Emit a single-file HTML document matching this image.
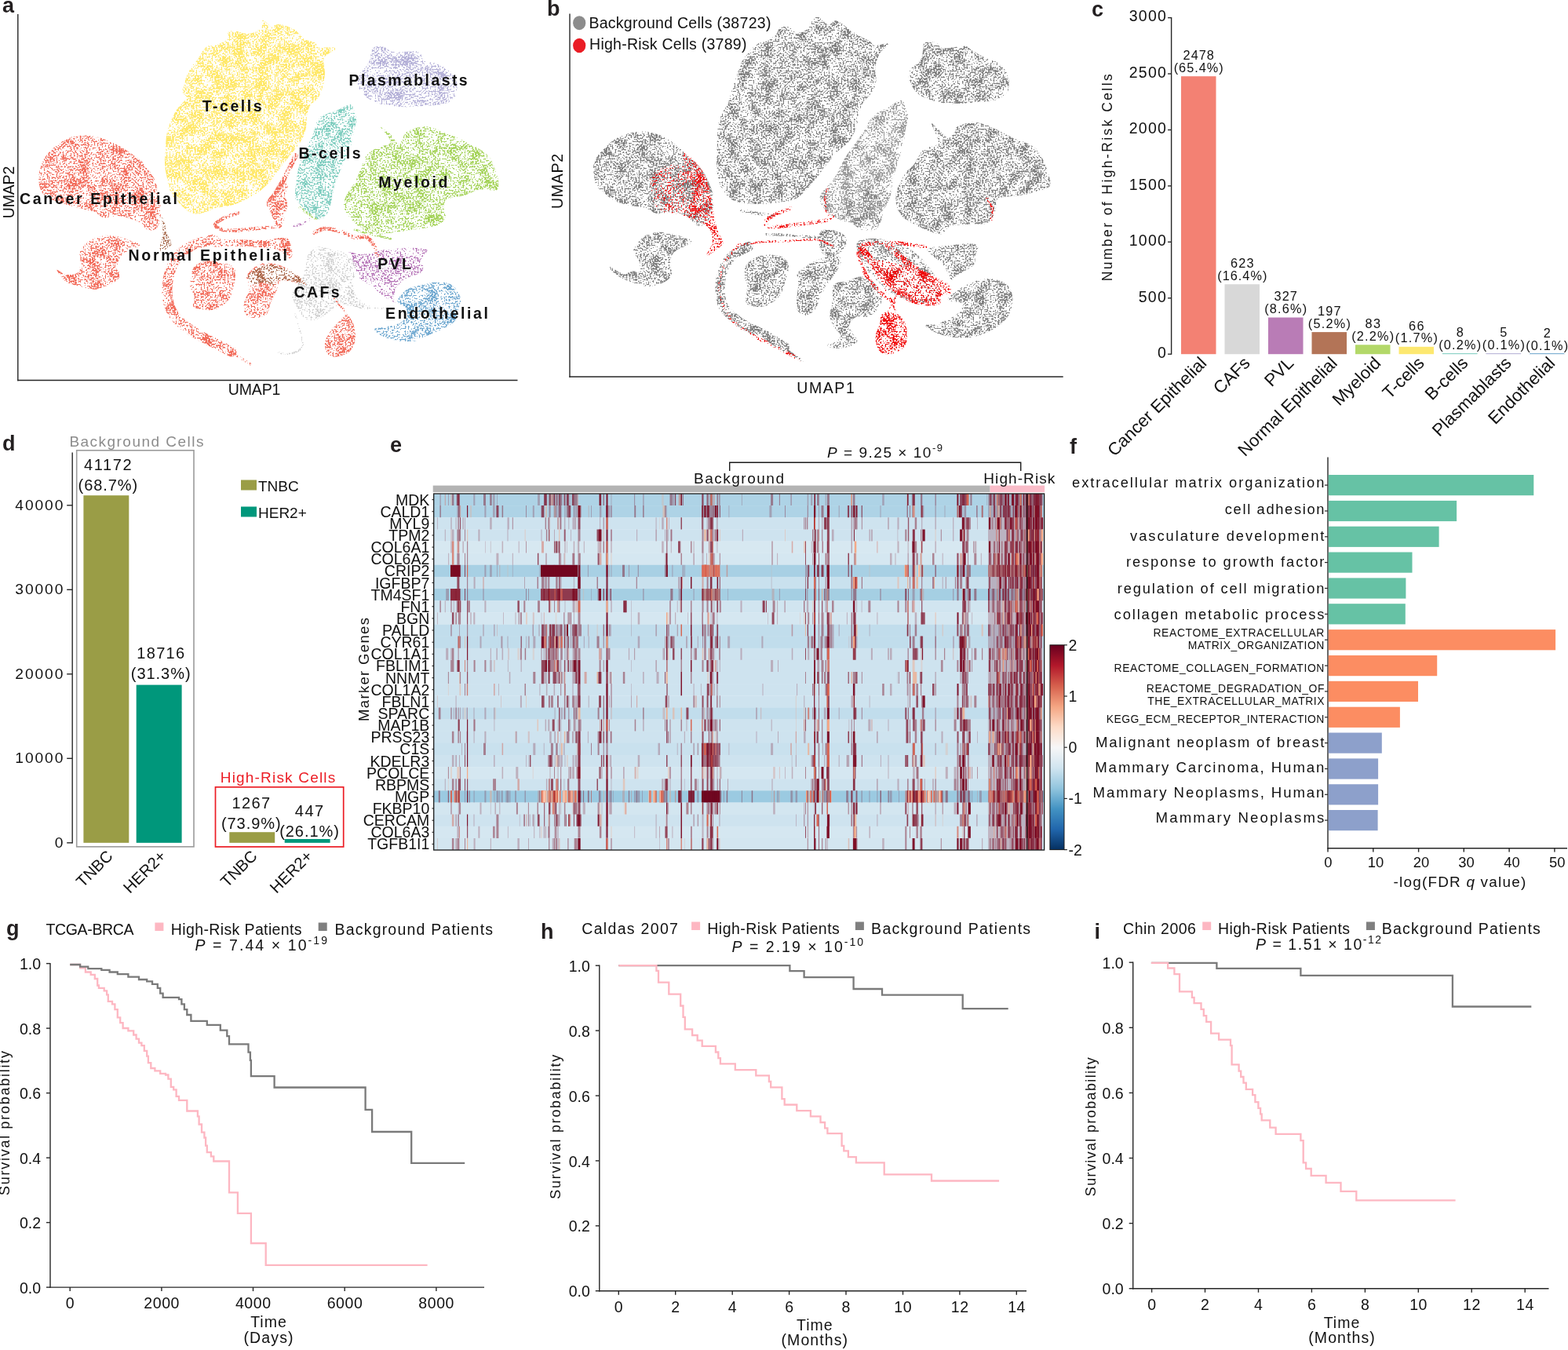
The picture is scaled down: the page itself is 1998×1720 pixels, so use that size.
<!DOCTYPE html><html><head><meta charset="utf-8"><style>html,body{margin:0;padding:0;background:#fff;overflow:hidden;}svg{display:block;font-family:'Liberation Sans', Arial, sans-serif;}</style></head><body><svg width="1998" height="1720" viewBox="0 0 1998 1720" fill="#111"><defs><filter id="spD" color-interpolation-filters="sRGB">
<feTurbulence type="fractalNoise" baseFrequency="0.5" numOctaves="1" seed="4" result="f"/>
<feColorMatrix in="f" type="matrix" values="0 0 0 0 0 0 0 0 0 0 0 0 0 0 0 1 0 0 0 0" result="fa"/>
<feTurbulence type="fractalNoise" baseFrequency="0.07" numOctaves="2" seed="8" result="c"/>
<feColorMatrix in="c" type="matrix" values="0 0 0 0 0 0 0 0 0 0 0 0 0 0 0 1 0 0 0 0" result="ca"/>
<feComposite in="fa" in2="ca" operator="arithmetic" k1="0" k2="0.75" k3="0.25" k4="0" result="s"/>
<feColorMatrix in="s" type="matrix" values="0 0 0 0 0 0 0 0 0 0 0 0 0 0 0 0 0 0 14 -6.5" result="m"/>
<feComposite in="SourceGraphic" in2="m" operator="in"/></filter><filter id="spM" color-interpolation-filters="sRGB">
<feTurbulence type="fractalNoise" baseFrequency="0.5" numOctaves="1" seed="5" result="f"/>
<feColorMatrix in="f" type="matrix" values="0 0 0 0 0 0 0 0 0 0 0 0 0 0 0 1 0 0 0 0" result="fa"/>
<feTurbulence type="fractalNoise" baseFrequency="0.07" numOctaves="2" seed="9" result="c"/>
<feColorMatrix in="c" type="matrix" values="0 0 0 0 0 0 0 0 0 0 0 0 0 0 0 1 0 0 0 0" result="ca"/>
<feComposite in="fa" in2="ca" operator="arithmetic" k1="0" k2="0.75" k3="0.25" k4="0" result="s"/>
<feColorMatrix in="s" type="matrix" values="0 0 0 0 0 0 0 0 0 0 0 0 0 0 0 0 0 0 14 -6.8" result="m"/>
<feComposite in="SourceGraphic" in2="m" operator="in"/></filter><filter id="spL" color-interpolation-filters="sRGB">
<feTurbulence type="fractalNoise" baseFrequency="0.5" numOctaves="1" seed="6" result="f"/>
<feColorMatrix in="f" type="matrix" values="0 0 0 0 0 0 0 0 0 0 0 0 0 0 0 1 0 0 0 0" result="fa"/>
<feTurbulence type="fractalNoise" baseFrequency="0.07" numOctaves="2" seed="10" result="c"/>
<feColorMatrix in="c" type="matrix" values="0 0 0 0 0 0 0 0 0 0 0 0 0 0 0 1 0 0 0 0" result="ca"/>
<feComposite in="fa" in2="ca" operator="arithmetic" k1="0" k2="0.75" k3="0.25" k4="0" result="s"/>
<feColorMatrix in="s" type="matrix" values="0 0 0 0 0 0 0 0 0 0 0 0 0 0 0 0 0 0 14 -7.1" result="m"/>
<feComposite in="SourceGraphic" in2="m" operator="in"/></filter><filter id="spR" color-interpolation-filters="sRGB">
<feTurbulence type="fractalNoise" baseFrequency="0.5" numOctaves="1" seed="7" result="f"/>
<feColorMatrix in="f" type="matrix" values="0 0 0 0 0 0 0 0 0 0 0 0 0 0 0 1 0 0 0 0" result="fa"/>
<feTurbulence type="fractalNoise" baseFrequency="0.07" numOctaves="2" seed="11" result="c"/>
<feColorMatrix in="c" type="matrix" values="0 0 0 0 0 0 0 0 0 0 0 0 0 0 0 1 0 0 0 0" result="ca"/>
<feComposite in="fa" in2="ca" operator="arithmetic" k1="0" k2="0.75" k3="0.25" k4="0" result="s"/>
<feColorMatrix in="s" type="matrix" values="0 0 0 0 0 0 0 0 0 0 0 0 0 0 0 0 0 0 14 -6.85" result="m"/>
<feComposite in="SourceGraphic" in2="m" operator="in"/></filter><filter id="spRL" color-interpolation-filters="sRGB">
<feTurbulence type="fractalNoise" baseFrequency="0.5" numOctaves="1" seed="12" result="f"/>
<feColorMatrix in="f" type="matrix" values="0 0 0 0 0 0 0 0 0 0 0 0 0 0 0 1 0 0 0 0" result="fa"/>
<feTurbulence type="fractalNoise" baseFrequency="0.07" numOctaves="2" seed="13" result="c"/>
<feColorMatrix in="c" type="matrix" values="0 0 0 0 0 0 0 0 0 0 0 0 0 0 0 1 0 0 0 0" result="ca"/>
<feComposite in="fa" in2="ca" operator="arithmetic" k1="0" k2="0.75" k3="0.25" k4="0" result="s"/>
<feColorMatrix in="s" type="matrix" values="0 0 0 0 0 0 0 0 0 0 0 0 0 0 0 0 0 0 14 -7.8" result="m"/>
<feComposite in="SourceGraphic" in2="m" operator="in"/></filter></defs><text x="1391.0" y="21.0" font-size="27" font-weight="bold" fill="#231f20">c</text>
<line x1="1492.6" y1="22.0" x2="1492.6" y2="451.8" stroke="#262626" stroke-width="1.4"/>
<line x1="1488.1" y1="451.2" x2="1492.6" y2="451.2" stroke="#262626" stroke-width="1.4"/>
<text x="1485.8" y="456.0" font-size="19.5" text-anchor="end">0</text>
<line x1="1488.1" y1="379.8" x2="1492.6" y2="379.8" stroke="#262626" stroke-width="1.4"/>
<text x="1485.8" y="384.6" font-size="19.5" text-anchor="end" textLength="35.1" lengthAdjust="spacing">500</text>
<line x1="1488.1" y1="308.3" x2="1492.6" y2="308.3" stroke="#262626" stroke-width="1.4"/>
<text x="1485.8" y="313.1" font-size="19.5" text-anchor="end" textLength="47.0" lengthAdjust="spacing">1000</text>
<line x1="1488.1" y1="236.9" x2="1492.6" y2="236.9" stroke="#262626" stroke-width="1.4"/>
<text x="1485.8" y="241.7" font-size="19.5" text-anchor="end" textLength="47.0" lengthAdjust="spacing">1500</text>
<line x1="1488.1" y1="165.5" x2="1492.6" y2="165.5" stroke="#262626" stroke-width="1.4"/>
<text x="1485.8" y="170.3" font-size="19.5" text-anchor="end" textLength="47.0" lengthAdjust="spacing">2000</text>
<line x1="1488.1" y1="94.0" x2="1492.6" y2="94.0" stroke="#262626" stroke-width="1.4"/>
<text x="1485.8" y="98.8" font-size="19.5" text-anchor="end" textLength="47.0" lengthAdjust="spacing">2500</text>
<line x1="1488.1" y1="22.6" x2="1492.6" y2="22.6" stroke="#262626" stroke-width="1.4"/>
<text x="1485.8" y="27.4" font-size="19.5" text-anchor="end" textLength="47.0" lengthAdjust="spacing">3000</text>
<text x="1417.5" y="226.3" font-size="17.5" text-anchor="middle" textLength="264.0" lengthAdjust="spacing" transform="rotate(-90 1417.5 226.3)">Number of High-Risk Cells</text>
<rect x="1505.0" y="97.2" width="44.5" height="354.0" fill="#F38173"/>
<text x="1527.2" y="76.0" font-size="16.3" text-anchor="middle" textLength="39.3" lengthAdjust="spacing">2478</text>
<text x="1527.2" y="91.8" font-size="16.3" text-anchor="middle" textLength="63.1" lengthAdjust="spacing">(65.4%)</text>
<text x="1538.8" y="464.0" font-size="22.2" text-anchor="end" transform="rotate(-45 1538.8 464.0)">Cancer Epithelial</text>
<rect x="1560.5" y="362.2" width="44.5" height="89.0" fill="#D8D8D8"/>
<text x="1582.8" y="341.0" font-size="16.3" text-anchor="middle" textLength="29.4" lengthAdjust="spacing">623</text>
<text x="1582.8" y="356.8" font-size="16.3" text-anchor="middle" textLength="63.1" lengthAdjust="spacing">(16.4%)</text>
<text x="1594.2" y="464.0" font-size="22.2" text-anchor="end" transform="rotate(-45 1594.2 464.0)">CAFs</text>
<rect x="1616.0" y="404.5" width="44.5" height="46.7" fill="#B97CB6"/>
<text x="1638.2" y="383.3" font-size="16.3" text-anchor="middle" textLength="29.4" lengthAdjust="spacing">327</text>
<text x="1638.2" y="399.1" font-size="16.3" text-anchor="middle" textLength="54.1" lengthAdjust="spacing">(8.6%)</text>
<text x="1649.8" y="464.0" font-size="22.2" text-anchor="end" transform="rotate(-45 1649.8 464.0)">PVL</text>
<rect x="1671.5" y="423.1" width="44.5" height="28.1" fill="#B37457"/>
<text x="1693.8" y="401.9" font-size="16.3" text-anchor="middle" textLength="29.4" lengthAdjust="spacing">197</text>
<text x="1693.8" y="417.7" font-size="16.3" text-anchor="middle" textLength="54.1" lengthAdjust="spacing">(5.2%)</text>
<text x="1705.2" y="464.0" font-size="22.2" text-anchor="end" transform="rotate(-45 1705.2 464.0)">Normal Epithelial</text>
<rect x="1727.0" y="439.3" width="44.5" height="11.9" fill="#B3D869"/>
<text x="1749.2" y="418.1" font-size="16.3" text-anchor="middle" textLength="19.6" lengthAdjust="spacing">83</text>
<text x="1749.2" y="433.9" font-size="16.3" text-anchor="middle" textLength="54.1" lengthAdjust="spacing">(2.2%)</text>
<text x="1760.8" y="464.0" font-size="22.2" text-anchor="end" transform="rotate(-45 1760.8 464.0)">Myeloid</text>
<rect x="1782.5" y="441.8" width="44.5" height="9.4" fill="#FDE870"/>
<text x="1804.8" y="420.6" font-size="16.3" text-anchor="middle" textLength="19.6" lengthAdjust="spacing">66</text>
<text x="1804.8" y="436.4" font-size="16.3" text-anchor="middle" textLength="54.1" lengthAdjust="spacing">(1.7%)</text>
<text x="1816.2" y="464.0" font-size="22.2" text-anchor="end" transform="rotate(-45 1816.2 464.0)">T-cells</text>
<rect x="1838.0" y="450.0" width="44.5" height="1.2" fill="#8DD3C7"/>
<text x="1860.2" y="428.9" font-size="16.3" text-anchor="middle" textLength="9.8" lengthAdjust="spacing">8</text>
<text x="1860.2" y="444.7" font-size="16.3" text-anchor="middle" textLength="54.1" lengthAdjust="spacing">(0.2%)</text>
<text x="1871.8" y="464.0" font-size="22.2" text-anchor="end" transform="rotate(-45 1871.8 464.0)">B-cells</text>
<rect x="1893.5" y="450.0" width="44.5" height="1.2" fill="#BEBADA"/>
<text x="1915.8" y="429.3" font-size="16.3" text-anchor="middle" textLength="9.8" lengthAdjust="spacing">5</text>
<text x="1915.8" y="445.1" font-size="16.3" text-anchor="middle" textLength="54.1" lengthAdjust="spacing">(0.1%)</text>
<text x="1927.2" y="464.0" font-size="22.2" text-anchor="end" transform="rotate(-45 1927.2 464.0)">Plasmablasts</text>
<rect x="1949.0" y="450.0" width="44.5" height="1.2" fill="#80B1D3"/>
<text x="1971.2" y="429.7" font-size="16.3" text-anchor="middle" textLength="9.8" lengthAdjust="spacing">2</text>
<text x="1971.2" y="445.5" font-size="16.3" text-anchor="middle" textLength="54.1" lengthAdjust="spacing">(0.1%)</text>
<text x="1982.8" y="464.0" font-size="22.2" text-anchor="end" transform="rotate(-45 1982.8 464.0)">Endothelial</text>
<text x="3.0" y="574.0" font-size="27" font-weight="bold" fill="#231f20">d</text>
<line x1="92.2" y1="576.5" x2="92.2" y2="1074.4" stroke="#262626" stroke-width="1.4"/>
<line x1="85.2" y1="1073.8" x2="92.2" y2="1073.8" stroke="#262626" stroke-width="1.4"/>
<text x="80.3" y="1079.8" font-size="19.2" text-anchor="end">0</text>
<line x1="85.2" y1="966.3" x2="92.2" y2="966.3" stroke="#262626" stroke-width="1.4"/>
<text x="80.3" y="972.3" font-size="19.2" text-anchor="end" textLength="61.0" lengthAdjust="spacing">10000</text>
<line x1="85.2" y1="858.8" x2="92.2" y2="858.8" stroke="#262626" stroke-width="1.4"/>
<text x="80.3" y="864.8" font-size="19.2" text-anchor="end" textLength="61.0" lengthAdjust="spacing">20000</text>
<line x1="85.2" y1="751.3" x2="92.2" y2="751.3" stroke="#262626" stroke-width="1.4"/>
<text x="80.3" y="757.3" font-size="19.2" text-anchor="end" textLength="61.0" lengthAdjust="spacing">30000</text>
<line x1="85.2" y1="643.8" x2="92.2" y2="643.8" stroke="#262626" stroke-width="1.4"/>
<text x="80.3" y="649.8" font-size="19.2" text-anchor="end" textLength="61.0" lengthAdjust="spacing">40000</text>
<rect x="97.7" y="573.8" width="149.3" height="505" fill="none" stroke="#9b9b9b" stroke-width="1.6"/>
<text x="173.9" y="568.5" font-size="19" text-anchor="middle" fill="#8c8c8c" textLength="171.0" lengthAdjust="spacing">Background Cells</text>
<rect x="106.4" y="631.2" width="57.9" height="442.6" fill="#9A9D46"/>
<rect x="173.7" y="872.6" width="57.9" height="201.2" fill="#00977B"/>
<text x="137.4" y="599.4" font-size="20" text-anchor="middle" textLength="60.7" lengthAdjust="spacing">41172</text>
<text x="137.4" y="625.1" font-size="20" text-anchor="middle" textLength="75.7" lengthAdjust="spacing">(68.7%)</text>
<text x="204.7" y="839.0" font-size="20" text-anchor="middle" textLength="60.7" lengthAdjust="spacing">18716</text>
<text x="204.7" y="865.0" font-size="20" text-anchor="middle" textLength="75.7" lengthAdjust="spacing">(31.3%)</text>
<rect x="274.5" y="1002.8" width="163.2" height="76.1" fill="none" stroke="#ec1c24" stroke-width="1.7"/>
<text x="354.0" y="997.0" font-size="19" text-anchor="middle" fill="#ec1c24" textLength="146.5" lengthAdjust="spacing">High-Risk Cells</text>
<rect x="292.3" y="1060.2" width="57.9" height="13.6" fill="#9A9D46"/>
<rect x="362.7" y="1069.0" width="57.9" height="4.8" fill="#00977B"/>
<text x="319.8" y="1029.8" font-size="20" text-anchor="middle" textLength="48.5" lengthAdjust="spacing">1267</text>
<text x="319.8" y="1055.5" font-size="20" text-anchor="middle" textLength="75.7" lengthAdjust="spacing">(73.9%)</text>
<text x="394.0" y="1040.3" font-size="20" text-anchor="middle" textLength="36.4" lengthAdjust="spacing">447</text>
<text x="394.0" y="1066.0" font-size="20" text-anchor="middle" textLength="75.7" lengthAdjust="spacing">(26.1%)</text>
<rect x="307.0" y="611.5" width="20.0" height="13.0" fill="#9A9D46"/>
<text x="329.0" y="625.5" font-size="19">TNBC</text>
<rect x="307.0" y="645.5" width="20.0" height="13.0" fill="#00977B"/>
<text x="329.0" y="659.5" font-size="19">HER2+</text>
<text x="145.0" y="1092.0" font-size="20.5" text-anchor="end" transform="rotate(-45 145.0 1092.0)">TNBC</text>
<text x="212.7" y="1092.0" font-size="20.5" text-anchor="end" transform="rotate(-45 212.7 1092.0)">HER2+</text>
<text x="329.0" y="1092.0" font-size="20.5" text-anchor="end" transform="rotate(-45 329.0 1092.0)">TNBC</text>
<text x="399.5" y="1092.0" font-size="20.5" text-anchor="end" transform="rotate(-45 399.5 1092.0)">HER2+</text>
<text x="1363.0" y="578.0" font-size="27" font-weight="bold" fill="#231f20">f</text>
<line x1="1692.0" y1="582.6" x2="1692.0" y2="1081.4" stroke="#262626" stroke-width="1.4"/>
<line x1="1691.4" y1="1080.8" x2="1997.0" y2="1080.8" stroke="#262626" stroke-width="1.4"/>
<line x1="1692.0" y1="1080.8" x2="1692.0" y2="1085.6" stroke="#262626" stroke-width="1.4"/>
<text x="1692.3" y="1104.7" font-size="18.4" text-anchor="middle">0</text>
<line x1="1749.8" y1="1080.8" x2="1749.8" y2="1085.6" stroke="#262626" stroke-width="1.4"/>
<text x="1753.1" y="1104.7" font-size="18.4" text-anchor="middle" textLength="20.5" lengthAdjust="spacing">10</text>
<line x1="1807.6" y1="1080.8" x2="1807.6" y2="1085.6" stroke="#262626" stroke-width="1.4"/>
<text x="1810.9" y="1104.7" font-size="18.4" text-anchor="middle" textLength="20.5" lengthAdjust="spacing">20</text>
<line x1="1865.3" y1="1080.8" x2="1865.3" y2="1085.6" stroke="#262626" stroke-width="1.4"/>
<text x="1868.6" y="1104.7" font-size="18.4" text-anchor="middle" textLength="20.5" lengthAdjust="spacing">30</text>
<line x1="1923.1" y1="1080.8" x2="1923.1" y2="1085.6" stroke="#262626" stroke-width="1.4"/>
<text x="1926.4" y="1104.7" font-size="18.4" text-anchor="middle" textLength="20.5" lengthAdjust="spacing">40</text>
<line x1="1980.9" y1="1080.8" x2="1980.9" y2="1085.6" stroke="#262626" stroke-width="1.4"/>
<text x="1984.2" y="1104.7" font-size="18.4" text-anchor="middle" textLength="20.5" lengthAdjust="spacing">50</text>
<text x="1775.5" y="1129.7" font-size="18.9" textLength="168.7" lengthAdjust="spacing">-log(FDR <tspan font-style="italic">q</tspan> value)</text>
<rect x="1692.7" y="605.0" width="261.6" height="26.2" fill="#66C2A5"/>
<line x1="1688.0" y1="618.1" x2="1692.0" y2="618.1" stroke="#262626" stroke-width="1.2"/>
<text x="1687.4" y="620.9" font-size="18.3" text-anchor="end" textLength="321.4" lengthAdjust="spacing">extracellular matrix organization</text>
<rect x="1692.7" y="637.9" width="163.4" height="26.2" fill="#66C2A5"/>
<line x1="1688.0" y1="651.0" x2="1692.0" y2="651.0" stroke="#262626" stroke-width="1.2"/>
<text x="1687.4" y="654.6" font-size="18.3" text-anchor="end" textLength="126.6" lengthAdjust="spacing">cell adhesion</text>
<rect x="1692.7" y="670.7" width="140.9" height="26.2" fill="#66C2A5"/>
<line x1="1688.0" y1="683.8" x2="1692.0" y2="683.8" stroke="#262626" stroke-width="1.2"/>
<text x="1687.4" y="688.6" font-size="18.3" text-anchor="end" textLength="247.4" lengthAdjust="spacing">vasculature development</text>
<rect x="1692.7" y="703.5" width="106.8" height="26.2" fill="#66C2A5"/>
<line x1="1688.0" y1="716.6" x2="1692.0" y2="716.6" stroke="#262626" stroke-width="1.2"/>
<text x="1687.4" y="722.3" font-size="18.3" text-anchor="end" textLength="252.5" lengthAdjust="spacing">response to growth factor</text>
<rect x="1692.7" y="736.4" width="98.7" height="26.2" fill="#66C2A5"/>
<line x1="1688.0" y1="749.5" x2="1692.0" y2="749.5" stroke="#262626" stroke-width="1.2"/>
<text x="1687.4" y="755.8" font-size="18.3" text-anchor="end" textLength="263.6" lengthAdjust="spacing">regulation of cell migration</text>
<rect x="1692.7" y="769.2" width="98.1" height="26.2" fill="#66C2A5"/>
<line x1="1688.0" y1="782.4" x2="1692.0" y2="782.4" stroke="#262626" stroke-width="1.2"/>
<text x="1687.4" y="789.0" font-size="18.3" text-anchor="end" textLength="267.8" lengthAdjust="spacing">collagen metabolic process</text>
<rect x="1692.7" y="802.1" width="289.4" height="26.2" fill="#FC8D62"/>
<line x1="1688.0" y1="815.2" x2="1692.0" y2="815.2" stroke="#262626" stroke-width="1.2"/>
<text x="1687.4" y="810.7" font-size="13.9" text-anchor="end" textLength="218.0" lengthAdjust="spacing">REACTOME_EXTRACELLULAR</text>
<text x="1687.4" y="826.8" font-size="13.9" text-anchor="end" textLength="173.6" lengthAdjust="spacing">MATRIX_ORGANIZATION</text>
<rect x="1692.7" y="835.0" width="138.5" height="26.2" fill="#FC8D62"/>
<line x1="1688.0" y1="848.1" x2="1692.0" y2="848.1" stroke="#262626" stroke-width="1.2"/>
<text x="1687.4" y="855.6" font-size="13.9" text-anchor="end" textLength="267.9" lengthAdjust="spacing">REACTOME_COLLAGEN_FORMATION</text>
<rect x="1692.7" y="867.8" width="114.3" height="26.2" fill="#FC8D62"/>
<line x1="1688.0" y1="880.9" x2="1692.0" y2="880.9" stroke="#262626" stroke-width="1.2"/>
<text x="1687.4" y="881.6" font-size="13.9" text-anchor="end" textLength="226.6" lengthAdjust="spacing">REACTOME_DEGRADATION_OF</text>
<text x="1687.4" y="897.8" font-size="13.9" text-anchor="end" textLength="225.1" lengthAdjust="spacing">THE_EXTRACELLULAR_MATRIX</text>
<rect x="1692.7" y="900.7" width="91.2" height="26.2" fill="#FC8D62"/>
<line x1="1688.0" y1="913.8" x2="1692.0" y2="913.8" stroke="#262626" stroke-width="1.2"/>
<text x="1687.4" y="920.6" font-size="13.9" text-anchor="end" textLength="277.6" lengthAdjust="spacing">KEGG_ECM_RECEPTOR_INTERACTION</text>
<rect x="1692.7" y="933.5" width="68.1" height="26.2" fill="#8DA0CB"/>
<line x1="1688.0" y1="946.6" x2="1692.0" y2="946.6" stroke="#262626" stroke-width="1.2"/>
<text x="1687.4" y="951.9" font-size="18.6" text-anchor="end" textLength="291.4" lengthAdjust="spacing">Malignant neoplasm of breast</text>
<rect x="1692.7" y="966.4" width="63.4" height="26.2" fill="#8DA0CB"/>
<line x1="1688.0" y1="979.5" x2="1692.0" y2="979.5" stroke="#262626" stroke-width="1.2"/>
<text x="1687.4" y="983.9" font-size="18.6" text-anchor="end" textLength="292.2" lengthAdjust="spacing">Mammary Carcinoma, Human</text>
<rect x="1692.7" y="999.2" width="63.4" height="26.2" fill="#8DA0CB"/>
<line x1="1688.0" y1="1012.3" x2="1692.0" y2="1012.3" stroke="#262626" stroke-width="1.2"/>
<text x="1687.4" y="1016.0" font-size="18.6" text-anchor="end" textLength="294.9" lengthAdjust="spacing">Mammary Neoplasms, Human</text>
<rect x="1692.7" y="1032.0" width="62.9" height="26.2" fill="#8DA0CB"/>
<line x1="1688.0" y1="1045.1" x2="1692.0" y2="1045.1" stroke="#262626" stroke-width="1.2"/>
<text x="1687.4" y="1047.5" font-size="18.6" text-anchor="end" textLength="214.8" lengthAdjust="spacing">Mammary Neoplasms</text>
<text x="8.0" y="1191.5" font-size="27" font-weight="bold" fill="#231f20">g</text>
<line x1="64.0" y1="1226.9" x2="64.0" y2="1640.8" stroke="#262626" stroke-width="1.4"/>
<line x1="63.3" y1="1640.1" x2="617.0" y2="1640.1" stroke="#262626" stroke-width="1.4"/>
<line x1="59.0" y1="1640.1" x2="64.0" y2="1640.1" stroke="#262626" stroke-width="1.4"/>
<text x="52.0" y="1647.7" font-size="19.5" text-anchor="end">0.0</text>
<line x1="59.0" y1="1557.6" x2="64.0" y2="1557.6" stroke="#262626" stroke-width="1.4"/>
<text x="52.0" y="1565.2" font-size="19.5" text-anchor="end">0.2</text>
<line x1="59.0" y1="1475.1" x2="64.0" y2="1475.1" stroke="#262626" stroke-width="1.4"/>
<text x="52.0" y="1482.7" font-size="19.5" text-anchor="end">0.4</text>
<line x1="59.0" y1="1392.6" x2="64.0" y2="1392.6" stroke="#262626" stroke-width="1.4"/>
<text x="52.0" y="1400.2" font-size="19.5" text-anchor="end">0.6</text>
<line x1="59.0" y1="1310.1" x2="64.0" y2="1310.1" stroke="#262626" stroke-width="1.4"/>
<text x="52.0" y="1317.7" font-size="19.5" text-anchor="end">0.8</text>
<line x1="59.0" y1="1227.6" x2="64.0" y2="1227.6" stroke="#262626" stroke-width="1.4"/>
<text x="52.0" y="1235.2" font-size="19.5" text-anchor="end">1.0</text>
<line x1="89.2" y1="1640.1" x2="89.2" y2="1645.1" stroke="#262626" stroke-width="1.4"/>
<text x="89.2" y="1667.1" font-size="19.5" text-anchor="middle">0</text>
<line x1="205.9" y1="1640.1" x2="205.9" y2="1645.1" stroke="#262626" stroke-width="1.4"/>
<text x="205.9" y="1667.1" font-size="19.5" text-anchor="middle" textLength="45.1" lengthAdjust="spacing">2000</text>
<line x1="322.5" y1="1640.1" x2="322.5" y2="1645.1" stroke="#262626" stroke-width="1.4"/>
<text x="322.5" y="1667.1" font-size="19.5" text-anchor="middle" textLength="45.1" lengthAdjust="spacing">4000</text>
<line x1="439.2" y1="1640.1" x2="439.2" y2="1645.1" stroke="#262626" stroke-width="1.4"/>
<text x="439.2" y="1667.1" font-size="19.5" text-anchor="middle" textLength="45.1" lengthAdjust="spacing">6000</text>
<line x1="555.9" y1="1640.1" x2="555.9" y2="1645.1" stroke="#262626" stroke-width="1.4"/>
<text x="555.9" y="1667.1" font-size="19.5" text-anchor="middle" textLength="45.1" lengthAdjust="spacing">8000</text>
<text x="342.0" y="1690.5" font-size="19.5" text-anchor="middle" textLength="45.7" lengthAdjust="spacing">Time</text>
<text x="342.0" y="1711.0" font-size="19.5" text-anchor="middle" textLength="63.0" lengthAdjust="spacing">(Days)</text>
<text x="11.8" y="1431.0" font-size="18" text-anchor="middle" textLength="184.0" lengthAdjust="spacing" transform="rotate(-90 11.8 1431.0)">Survival probability</text>
<text x="58.5" y="1191.0" font-size="19.5" textLength="112.0" lengthAdjust="spacing">TCGA-BRCA</text>
<rect x="197.4" y="1175.5" width="11.0" height="10.5" fill="#FDB7C2"/>
<text x="217.8" y="1191.0" font-size="19.5" textLength="166.8" lengthAdjust="spacing">High-Risk Patients</text>
<rect x="405.7" y="1175.5" width="11.0" height="10.5" fill="#7F7F7F"/>
<text x="426.5" y="1191.0" font-size="19.5" textLength="201.5" lengthAdjust="spacing">Background Patients</text>
<text x="248.5" y="1211.3" font-size="19.5" textLength="168.5" lengthAdjust="spacing"><tspan font-style="italic">P</tspan> = 7.44 × 10<tspan font-size="14" dy="-8">-19</tspan></text>
<path d="M89.2 1229.0L102.1 1229.0L102.1 1233.4L108.9 1233.4L108.9 1238.5L115.7 1238.5L115.7 1241.9L120.8 1241.9L120.8 1247.0L124.2 1247.0L124.2 1255.5L125.9 1255.5L125.9 1258.9L132.7 1258.9L132.7 1262.3L136.1 1262.3L136.1 1267.4L137.8 1267.4L137.8 1275.9L143.0 1275.9L143.0 1279.3L146.4 1279.3L146.4 1286.1L149.8 1286.1L149.8 1296.4L153.2 1296.4L153.2 1303.2L156.6 1303.2L156.6 1310.0L163.4 1310.0L163.4 1313.4L170.2 1313.4L170.2 1318.5L173.6 1318.5L173.6 1323.6L177.0 1323.6L177.0 1328.7L180.4 1328.7L180.4 1332.1L183.8 1332.1L183.8 1338.9L187.2 1338.9L187.2 1345.7L188.9 1345.7L188.9 1354.2L192.3 1354.2L192.3 1361.0L197.4 1361.0L197.4 1364.4L204.2 1364.4L204.2 1367.8L211.0 1367.8L211.0 1369.5L214.4 1369.5L214.4 1374.6L217.8 1374.6L217.8 1384.9L221.2 1384.9L221.2 1388.3L224.6 1388.3L224.6 1396.8L228.0 1396.8L228.0 1401.9L234.9 1401.9L238.3 1401.9L238.3 1415.5L248.5 1415.5L251.9 1415.5L251.9 1422.3L253.6 1422.3L253.6 1432.5L257.0 1432.5L257.0 1442.7L260.4 1442.7L260.4 1449.5L262.1 1449.5L262.1 1459.7L263.8 1459.7L263.8 1468.2L268.9 1468.2L268.9 1473.3L272.3 1473.3L272.3 1479.5L291.0 1479.5L292.0 1479.5L292.0 1519.3L302.9 1519.3L302.9 1545.8L319.9 1545.8L319.9 1584.0L338.7 1584.0L338.7 1611.9L544.6 1611.9" fill="none" stroke="#FDB7C2" stroke-width="2.3"/>
<path d="M89.2 1229.0L102.1 1229.0L102.1 1231.7L112.3 1231.7L112.3 1234.1L129.3 1234.1L129.3 1235.8L139.6 1235.8L139.6 1238.5L149.8 1238.5L149.8 1241.2L163.4 1241.2L163.4 1244.6L177.0 1244.6L177.0 1248.0L187.2 1248.0L187.2 1250.4L194.0 1250.4L194.0 1253.8L200.8 1253.8L200.8 1258.9L204.2 1258.9L204.2 1265.7L207.6 1265.7L207.6 1270.8L228.0 1270.8L228.0 1273.2L231.4 1273.2L231.4 1279.3L234.9 1279.3L234.9 1286.1L238.3 1286.1L238.3 1293.0L243.4 1293.0L243.4 1300.8L262.1 1300.8L263.8 1300.8L263.8 1305.9L279.1 1305.9L280.8 1305.9L280.8 1312.7L287.6 1312.7L289.3 1312.7L289.3 1320.2L292.0 1320.2L292.0 1330.4L314.8 1330.4L316.5 1330.4L316.5 1340.6L318.9 1340.6L318.9 1350.8L319.9 1350.8L319.9 1371.2L348.9 1371.2L349.6 1371.2L349.6 1385.5L465.6 1385.5L465.6 1413.8L474.1 1413.8L474.1 1442.0L524.2 1442.0L524.2 1481.9L592.2 1481.9" fill="none" stroke="#7A7A7A" stroke-width="2.3"/>
<text x="689.0" y="1196.0" font-size="27" font-weight="bold" fill="#231f20">h</text>
<line x1="763.8" y1="1229.5" x2="763.8" y2="1645.4" stroke="#262626" stroke-width="1.4"/>
<line x1="763.1" y1="1644.7" x2="1308.0" y2="1644.7" stroke="#262626" stroke-width="1.4"/>
<line x1="758.8" y1="1644.7" x2="763.8" y2="1644.7" stroke="#262626" stroke-width="1.4"/>
<text x="751.8" y="1652.3" font-size="19.5" text-anchor="end">0.0</text>
<line x1="758.8" y1="1561.8" x2="763.8" y2="1561.8" stroke="#262626" stroke-width="1.4"/>
<text x="751.8" y="1569.4" font-size="19.5" text-anchor="end">0.2</text>
<line x1="758.8" y1="1478.9" x2="763.8" y2="1478.9" stroke="#262626" stroke-width="1.4"/>
<text x="751.8" y="1486.5" font-size="19.5" text-anchor="end">0.4</text>
<line x1="758.8" y1="1396.0" x2="763.8" y2="1396.0" stroke="#262626" stroke-width="1.4"/>
<text x="751.8" y="1403.6" font-size="19.5" text-anchor="end">0.6</text>
<line x1="758.8" y1="1313.1" x2="763.8" y2="1313.1" stroke="#262626" stroke-width="1.4"/>
<text x="751.8" y="1320.7" font-size="19.5" text-anchor="end">0.8</text>
<line x1="758.8" y1="1230.2" x2="763.8" y2="1230.2" stroke="#262626" stroke-width="1.4"/>
<text x="751.8" y="1237.8" font-size="19.5" text-anchor="end">1.0</text>
<line x1="788.3" y1="1644.7" x2="788.3" y2="1649.7" stroke="#262626" stroke-width="1.4"/>
<text x="788.3" y="1671.7" font-size="19.5" text-anchor="middle">0</text>
<line x1="860.7" y1="1644.7" x2="860.7" y2="1649.7" stroke="#262626" stroke-width="1.4"/>
<text x="860.7" y="1671.7" font-size="19.5" text-anchor="middle">2</text>
<line x1="933.2" y1="1644.7" x2="933.2" y2="1649.7" stroke="#262626" stroke-width="1.4"/>
<text x="933.2" y="1671.7" font-size="19.5" text-anchor="middle">4</text>
<line x1="1005.6" y1="1644.7" x2="1005.6" y2="1649.7" stroke="#262626" stroke-width="1.4"/>
<text x="1005.6" y="1671.7" font-size="19.5" text-anchor="middle">6</text>
<line x1="1078.0" y1="1644.7" x2="1078.0" y2="1649.7" stroke="#262626" stroke-width="1.4"/>
<text x="1078.0" y="1671.7" font-size="19.5" text-anchor="middle">8</text>
<line x1="1150.5" y1="1644.7" x2="1150.5" y2="1649.7" stroke="#262626" stroke-width="1.4"/>
<text x="1150.5" y="1671.7" font-size="19.5" text-anchor="middle" textLength="22.3" lengthAdjust="spacing">10</text>
<line x1="1222.9" y1="1644.7" x2="1222.9" y2="1649.7" stroke="#262626" stroke-width="1.4"/>
<text x="1222.9" y="1671.7" font-size="19.5" text-anchor="middle" textLength="22.3" lengthAdjust="spacing">12</text>
<line x1="1295.3" y1="1644.7" x2="1295.3" y2="1649.7" stroke="#262626" stroke-width="1.4"/>
<text x="1295.3" y="1671.7" font-size="19.5" text-anchor="middle" textLength="22.3" lengthAdjust="spacing">14</text>
<text x="1037.8" y="1695.0" font-size="19.5" text-anchor="middle" textLength="45.7" lengthAdjust="spacing">Time</text>
<text x="1037.8" y="1713.5" font-size="19.5" text-anchor="middle" textLength="84.5" lengthAdjust="spacing">(Months)</text>
<text x="714.3" y="1435.7" font-size="18" text-anchor="middle" textLength="184.0" lengthAdjust="spacing" transform="rotate(-90 714.3 1435.7)">Survival probability</text>
<text x="741.3" y="1190.0" font-size="19.5" textLength="122.6" lengthAdjust="spacing">Caldas 2007</text>
<rect x="881.1" y="1174.5" width="11.0" height="10.5" fill="#FDB7C2"/>
<text x="901.3" y="1190.0" font-size="19.5" textLength="168.5" lengthAdjust="spacing">High-Risk Patients</text>
<rect x="1089.9" y="1174.5" width="11.0" height="10.5" fill="#7F7F7F"/>
<text x="1110.1" y="1190.0" font-size="19.5" textLength="203.0" lengthAdjust="spacing">Background Patients</text>
<text x="932.5" y="1213.0" font-size="19.5" textLength="167.6" lengthAdjust="spacing"><tspan font-style="italic">P</tspan> = 2.19 × 10<tspan font-size="14" dy="-8">-10</tspan></text>
<path d="M788.3 1230.2L1006.4 1230.2L1006.4 1237.1L1024.6 1237.1L1024.6 1245.1L1087.6 1245.1L1087.6 1260.0L1124.0 1260.0L1124.0 1267.6L1226.7 1267.6L1226.7 1285.2L1284.7 1285.2" fill="none" stroke="#7A7A7A" stroke-width="2.3"/>
<path d="M788.3 1230.2L836.4 1230.2L836.4 1236.8L839.0 1236.8L839.0 1251.7L852.3 1251.7L852.3 1266.6L867.2 1266.6L867.2 1281.5L870.5 1281.5L870.5 1295.8L872.8 1295.8L872.8 1311.4L882.1 1311.4L882.1 1319.0L888.7 1319.0L888.7 1325.6L894.7 1325.6L894.7 1332.9L911.9 1332.9L911.9 1340.5L915.3 1340.5L915.3 1348.1L917.9 1348.1L917.9 1355.4L936.8 1355.4L936.8 1363.1L963.3 1363.1L963.3 1370.3L979.9 1370.3L979.9 1378.0L982.2 1378.0L982.2 1385.3L996.4 1385.3L996.4 1400.2L999.7 1400.2L999.7 1407.5L1015.3 1407.5L1015.3 1415.1L1032.9 1415.1L1032.9 1422.4L1045.5 1422.4L1045.5 1430.0L1051.1 1430.0L1051.1 1437.3L1054.4 1437.3L1054.4 1444.2L1072.6 1444.2L1072.6 1459.8L1075.3 1459.8L1075.3 1466.4L1080.9 1466.4L1080.9 1474.1L1090.9 1474.1L1090.9 1481.3L1126.7 1481.3L1126.7 1496.3L1187.0 1496.3L1187.0 1504.5L1273.1 1504.5" fill="none" stroke="#FDB7C2" stroke-width="2.3"/>
<text x="1394.5" y="1196.0" font-size="27" font-weight="bold" fill="#231f20">i</text>
<line x1="1443.7" y1="1225.5" x2="1443.7" y2="1642.4" stroke="#262626" stroke-width="1.4"/>
<line x1="1443.0" y1="1641.7" x2="1973.5" y2="1641.7" stroke="#262626" stroke-width="1.4"/>
<line x1="1438.7" y1="1641.7" x2="1443.7" y2="1641.7" stroke="#262626" stroke-width="1.4"/>
<text x="1431.7" y="1649.3" font-size="19.5" text-anchor="end">0.0</text>
<line x1="1438.7" y1="1558.6" x2="1443.7" y2="1558.6" stroke="#262626" stroke-width="1.4"/>
<text x="1431.7" y="1566.2" font-size="19.5" text-anchor="end">0.2</text>
<line x1="1438.7" y1="1475.5" x2="1443.7" y2="1475.5" stroke="#262626" stroke-width="1.4"/>
<text x="1431.7" y="1483.1" font-size="19.5" text-anchor="end">0.4</text>
<line x1="1438.7" y1="1392.4" x2="1443.7" y2="1392.4" stroke="#262626" stroke-width="1.4"/>
<text x="1431.7" y="1400.0" font-size="19.5" text-anchor="end">0.6</text>
<line x1="1438.7" y1="1309.3" x2="1443.7" y2="1309.3" stroke="#262626" stroke-width="1.4"/>
<text x="1431.7" y="1316.9" font-size="19.5" text-anchor="end">0.8</text>
<line x1="1438.7" y1="1226.2" x2="1443.7" y2="1226.2" stroke="#262626" stroke-width="1.4"/>
<text x="1431.7" y="1233.8" font-size="19.5" text-anchor="end">1.0</text>
<line x1="1467.6" y1="1641.7" x2="1467.6" y2="1646.7" stroke="#262626" stroke-width="1.4"/>
<text x="1467.6" y="1668.7" font-size="19.5" text-anchor="middle">0</text>
<line x1="1535.5" y1="1641.7" x2="1535.5" y2="1646.7" stroke="#262626" stroke-width="1.4"/>
<text x="1535.5" y="1668.7" font-size="19.5" text-anchor="middle">2</text>
<line x1="1603.5" y1="1641.7" x2="1603.5" y2="1646.7" stroke="#262626" stroke-width="1.4"/>
<text x="1603.5" y="1668.7" font-size="19.5" text-anchor="middle">4</text>
<line x1="1671.4" y1="1641.7" x2="1671.4" y2="1646.7" stroke="#262626" stroke-width="1.4"/>
<text x="1671.4" y="1668.7" font-size="19.5" text-anchor="middle">6</text>
<line x1="1739.4" y1="1641.7" x2="1739.4" y2="1646.7" stroke="#262626" stroke-width="1.4"/>
<text x="1739.4" y="1668.7" font-size="19.5" text-anchor="middle">8</text>
<line x1="1807.3" y1="1641.7" x2="1807.3" y2="1646.7" stroke="#262626" stroke-width="1.4"/>
<text x="1807.3" y="1668.7" font-size="19.5" text-anchor="middle" textLength="22.3" lengthAdjust="spacing">10</text>
<line x1="1875.2" y1="1641.7" x2="1875.2" y2="1646.7" stroke="#262626" stroke-width="1.4"/>
<text x="1875.2" y="1668.7" font-size="19.5" text-anchor="middle" textLength="22.3" lengthAdjust="spacing">12</text>
<line x1="1943.2" y1="1641.7" x2="1943.2" y2="1646.7" stroke="#262626" stroke-width="1.4"/>
<text x="1943.2" y="1668.7" font-size="19.5" text-anchor="middle" textLength="22.3" lengthAdjust="spacing">14</text>
<text x="1709.5" y="1692.0" font-size="19.5" text-anchor="middle" textLength="45.7" lengthAdjust="spacing">Time</text>
<text x="1709.5" y="1711.0" font-size="19.5" text-anchor="middle" textLength="84.5" lengthAdjust="spacing">(Months)</text>
<text x="1396.0" y="1435.7" font-size="18" text-anchor="middle" textLength="177.0" lengthAdjust="spacing" transform="rotate(-90 1396.0 1435.7)">Survival probability</text>
<text x="1431.1" y="1190.0" font-size="19.5" textLength="92.8" lengthAdjust="spacing">Chin 2006</text>
<rect x="1532.2" y="1174.5" width="11.0" height="10.5" fill="#FDB7C2"/>
<text x="1552.0" y="1190.0" font-size="19.5" textLength="168.0" lengthAdjust="spacing">High-Risk Patients</text>
<rect x="1740.9" y="1174.5" width="11.0" height="10.5" fill="#7F7F7F"/>
<text x="1760.8" y="1190.0" font-size="19.5" textLength="202.0" lengthAdjust="spacing">Background Patients</text>
<text x="1600.1" y="1209.6" font-size="19.5" textLength="160.0" lengthAdjust="spacing"><tspan font-style="italic">P</tspan> = 1.51 × 10<tspan font-size="14" dy="-8">-12</tspan></text>
<path d="M1466.9 1226.9L1550.4 1226.9L1550.4 1233.8L1657.4 1233.8L1657.4 1242.8L1850.9 1242.8L1850.9 1282.5L1951.3 1282.5" fill="none" stroke="#7A7A7A" stroke-width="2.3"/>
<path d="M1466.9 1226.9L1488.1 1226.9L1488.1 1233.5L1496.4 1233.5L1496.4 1241.1L1503.0 1241.1L1503.0 1263.3L1518.9 1263.3L1518.9 1270.9L1521.6 1270.9L1521.6 1278.2L1530.5 1278.2L1530.5 1285.9L1533.8 1285.9L1533.8 1294.1L1537.2 1294.1L1537.2 1301.8L1543.1 1301.8L1543.1 1316.7L1553.1 1316.7L1553.1 1324.6L1568.0 1324.6L1568.0 1332.2L1569.6 1332.2L1569.6 1356.4L1578.6 1356.4L1578.6 1364.7L1581.2 1364.7L1581.2 1372.0L1584.5 1372.0L1584.5 1379.6L1587.8 1379.6L1587.8 1387.9L1596.1 1387.9L1596.1 1395.2L1599.4 1395.2L1599.4 1404.1L1603.4 1404.1L1603.4 1411.8L1606.1 1411.8L1606.1 1419.4L1607.7 1419.4L1607.7 1427.3L1618.3 1427.3L1618.3 1436.6L1625.6 1436.6L1625.6 1444.9L1657.4 1444.9L1657.4 1453.2L1660.7 1453.2L1660.7 1481.3L1664.1 1481.3L1664.1 1489.0L1670.7 1489.0L1670.7 1497.9L1689.6 1497.9L1689.6 1506.9L1708.5 1506.9L1708.5 1517.8L1728.3 1517.8L1728.3 1529.4L1854.6 1529.4" fill="none" stroke="#FDB7C2" stroke-width="2.3"/>
<text x="497.0" y="576.0" font-size="27" font-weight="bold" fill="#231f20">e</text>
<rect x="552.7" y="629.0" width="777.9" height="15.4" fill="#aed3e6"/>
<rect x="552.7" y="644.1" width="777.9" height="15.4" fill="#aed3e6"/>
<rect x="552.7" y="659.3" width="777.9" height="15.4" fill="#cee3ef"/>
<rect x="552.7" y="674.4" width="777.9" height="15.4" fill="#cee3ef"/>
<rect x="552.7" y="689.5" width="777.9" height="15.4" fill="#d7e8f1"/>
<rect x="552.7" y="704.7" width="777.9" height="15.4" fill="#d5e7f1"/>
<rect x="552.7" y="719.8" width="777.9" height="15.4" fill="#a8d0e4"/>
<rect x="552.7" y="734.9" width="777.9" height="15.4" fill="#c9e1ee"/>
<rect x="552.7" y="750.1" width="777.9" height="15.4" fill="#a5cfe3"/>
<rect x="552.7" y="765.2" width="777.9" height="15.4" fill="#d1e5f0"/>
<rect x="552.7" y="780.3" width="777.9" height="15.4" fill="#d5e7f1"/>
<rect x="552.7" y="795.5" width="777.9" height="15.4" fill="#c1ddec"/>
<rect x="552.7" y="810.6" width="777.9" height="15.4" fill="#c1ddec"/>
<rect x="552.7" y="825.7" width="777.9" height="15.4" fill="#cee3ef"/>
<rect x="552.7" y="840.9" width="777.9" height="15.4" fill="#cee3ef"/>
<rect x="552.7" y="856.0" width="777.9" height="15.4" fill="#cee3ef"/>
<rect x="552.7" y="871.1" width="777.9" height="15.4" fill="#cee3ef"/>
<rect x="552.7" y="886.3" width="777.9" height="15.4" fill="#cee3ef"/>
<rect x="552.7" y="901.4" width="777.9" height="15.4" fill="#c1ddec"/>
<rect x="552.7" y="916.5" width="777.9" height="15.4" fill="#cee3ef"/>
<rect x="552.7" y="931.7" width="777.9" height="15.4" fill="#cee3ef"/>
<rect x="552.7" y="946.8" width="777.9" height="15.4" fill="#c9e1ee"/>
<rect x="552.7" y="961.9" width="777.9" height="15.4" fill="#cee3ef"/>
<rect x="552.7" y="977.1" width="777.9" height="15.4" fill="#d5e7f1"/>
<rect x="552.7" y="992.2" width="777.9" height="15.4" fill="#cee3ef"/>
<rect x="552.7" y="1007.3" width="777.9" height="15.4" fill="#9bcae1"/>
<rect x="552.7" y="1022.5" width="777.9" height="15.4" fill="#d3e6f0"/>
<rect x="552.7" y="1037.6" width="777.9" height="15.4" fill="#cee3ef"/>
<rect x="552.7" y="1052.7" width="777.9" height="15.4" fill="#d5e7f1"/>
<rect x="552.7" y="1067.9" width="777.9" height="15.4" fill="#d3e6f0"/>
<rect x="710.3" y="1007.3" width="2.0" height="15.1" fill="#fbc6ad"/>
<rect x="712.9" y="1007.3" width="1.0" height="15.1" fill="#e8826e"/>
<rect x="726.8" y="1007.3" width="2.0" height="15.1" fill="#e8826e"/>
<rect x="693.4" y="1007.3" width="1.5" height="15.1" fill="#e8826e"/>
<rect x="693.3" y="1007.3" width="0.8" height="15.1" fill="#fbc6ad"/>
<rect x="734.3" y="1007.3" width="1.0" height="15.1" fill="#f4a582"/>
<rect x="728.1" y="1007.3" width="0.8" height="15.1" fill="#f4a582"/>
<rect x="690.7" y="1007.3" width="1.0" height="15.1" fill="#f4a582"/>
<rect x="725.6" y="1007.3" width="1.5" height="15.1" fill="#fbc6ad"/>
<rect x="716.8" y="1007.3" width="1.0" height="15.1" fill="#e8826e"/>
<rect x="719.1" y="1007.3" width="2.0" height="15.1" fill="#f4a582"/>
<rect x="720.1" y="1007.3" width="2.0" height="15.1" fill="#d6604d"/>
<rect x="708.1" y="1007.3" width="0.8" height="15.1" fill="#d6604d"/>
<rect x="703.8" y="1007.3" width="1.0" height="15.1" fill="#d6604d"/>
<rect x="690.4" y="1007.3" width="0.8" height="15.1" fill="#fbc6ad"/>
<rect x="694.1" y="1007.3" width="1.5" height="15.1" fill="#fbc6ad"/>
<rect x="692.1" y="1007.3" width="0.8" height="15.1" fill="#f4a582"/>
<rect x="699.0" y="1007.3" width="0.8" height="15.1" fill="#fbc6ad"/>
<rect x="706.6" y="1007.3" width="2.0" height="15.1" fill="#fbc6ad"/>
<rect x="692.4" y="1007.3" width="1.0" height="15.1" fill="#d6604d"/>
<rect x="704.8" y="1007.3" width="1.5" height="15.1" fill="#d6604d"/>
<rect x="689.7" y="1007.3" width="2.0" height="15.1" fill="#f4a582"/>
<rect x="695.3" y="1007.3" width="0.8" height="15.1" fill="#f4a582"/>
<rect x="691.8" y="1007.3" width="2.0" height="15.1" fill="#e8826e"/>
<rect x="721.1" y="1007.3" width="1.0" height="15.1" fill="#fbc6ad"/>
<rect x="712.9" y="1007.3" width="1.0" height="15.1" fill="#fbc6ad"/>
<rect x="719.3" y="1007.3" width="0.8" height="15.1" fill="#fbc6ad"/>
<rect x="708.8" y="1007.3" width="1.0" height="15.1" fill="#f4a582"/>
<rect x="701.7" y="1007.3" width="1.5" height="15.1" fill="#f4a582"/>
<rect x="698.9" y="1007.3" width="2.0" height="15.1" fill="#f4a582"/>
<rect x="691.0" y="1007.3" width="1.0" height="15.1" fill="#e8826e"/>
<rect x="709.8" y="1007.3" width="0.8" height="15.1" fill="#d6604d"/>
<rect x="728.0" y="1007.3" width="2.0" height="15.1" fill="#f4a582"/>
<rect x="692.5" y="1007.3" width="1.0" height="15.1" fill="#e8826e"/>
<rect x="689.7" y="1007.3" width="1.5" height="15.1" fill="#d6604d"/>
<rect x="718.2" y="1007.3" width="1.0" height="15.1" fill="#fbc6ad"/>
<rect x="728.1" y="1007.3" width="1.0" height="15.1" fill="#fbc6ad"/>
<rect x="697.6" y="1007.3" width="1.0" height="15.1" fill="#d6604d"/>
<rect x="731.7" y="1007.3" width="1.0" height="15.1" fill="#e8826e"/>
<rect x="696.4" y="1007.3" width="1.0" height="15.1" fill="#fbc6ad"/>
<rect x="730.5" y="1007.3" width="0.8" height="15.1" fill="#fbc6ad"/>
<rect x="691.2" y="1007.3" width="0.8" height="15.1" fill="#f4a582"/>
<rect x="713.1" y="1007.3" width="1.5" height="15.1" fill="#e8826e"/>
<rect x="723.8" y="1007.3" width="2.0" height="15.1" fill="#d6604d"/>
<rect x="708.8" y="1007.3" width="2.0" height="15.1" fill="#d6604d"/>
<rect x="713.4" y="1007.3" width="0.8" height="15.1" fill="#e8826e"/>
<rect x="699.7" y="1007.3" width="0.8" height="15.1" fill="#d6604d"/>
<rect x="699.0" y="1007.3" width="1.0" height="15.1" fill="#f4a582"/>
<rect x="692.3" y="1007.3" width="2.0" height="15.1" fill="#fbc6ad"/>
<rect x="700.7" y="1007.3" width="0.8" height="15.1" fill="#e8826e"/>
<rect x="702.3" y="1007.3" width="1.0" height="15.1" fill="#f4a582"/>
<rect x="706.0" y="1007.3" width="2.0" height="15.1" fill="#d6604d"/>
<rect x="719.9" y="1007.3" width="1.0" height="15.1" fill="#f4a582"/>
<rect x="732.4" y="1007.3" width="2.0" height="15.1" fill="#d6604d"/>
<rect x="721.9" y="1007.3" width="0.8" height="15.1" fill="#f4a582"/>
<rect x="717.1" y="1007.3" width="0.8" height="15.1" fill="#fbc6ad"/>
<rect x="827.3" y="1007.3" width="1.5" height="15.1" fill="#d6604d"/>
<rect x="828.6" y="1007.3" width="0.8" height="15.1" fill="#f4a582"/>
<rect x="834.6" y="1007.3" width="1.5" height="15.1" fill="#f4a582"/>
<rect x="843.1" y="1007.3" width="1.0" height="15.1" fill="#d6604d"/>
<rect x="832.7" y="1007.3" width="2.0" height="15.1" fill="#f4a582"/>
<rect x="842.6" y="1007.3" width="2.0" height="15.1" fill="#f4a582"/>
<rect x="842.4" y="1007.3" width="0.8" height="15.1" fill="#fbc6ad"/>
<rect x="833.2" y="1007.3" width="0.8" height="15.1" fill="#f4a582"/>
<rect x="827.5" y="1007.3" width="0.8" height="15.1" fill="#d6604d"/>
<rect x="842.7" y="1007.3" width="1.5" height="15.1" fill="#fbc6ad"/>
<rect x="843.8" y="1007.3" width="2.0" height="15.1" fill="#fbc6ad"/>
<rect x="834.8" y="1007.3" width="0.8" height="15.1" fill="#f4a582"/>
<rect x="831.9" y="1007.3" width="0.8" height="15.1" fill="#fbc6ad"/>
<rect x="826.4" y="1007.3" width="0.8" height="15.1" fill="#fbc6ad"/>
<rect x="840.8" y="1007.3" width="2.0" height="15.1" fill="#d6604d"/>
<rect x="843.0" y="1007.3" width="1.5" height="15.1" fill="#d6604d"/>
<rect x="828.7" y="1007.3" width="1.0" height="15.1" fill="#e8826e"/>
<rect x="840.3" y="1007.3" width="1.5" height="15.1" fill="#fbc6ad"/>
<rect x="835.5" y="1007.3" width="1.0" height="15.1" fill="#d6604d"/>
<rect x="1170.2" y="1007.3" width="1.5" height="15.1" fill="#e8826e"/>
<rect x="1181.7" y="1007.3" width="1.0" height="15.1" fill="#e8826e"/>
<rect x="1169.2" y="1007.3" width="1.5" height="15.1" fill="#e8826e"/>
<rect x="1156.8" y="1007.3" width="2.0" height="15.1" fill="#d6604d"/>
<rect x="1191.9" y="1007.3" width="0.8" height="15.1" fill="#f4a582"/>
<rect x="1197.5" y="1007.3" width="1.5" height="15.1" fill="#e8826e"/>
<rect x="1155.6" y="1007.3" width="2.0" height="15.1" fill="#d6604d"/>
<rect x="1196.3" y="1007.3" width="2.0" height="15.1" fill="#fbc6ad"/>
<rect x="1181.3" y="1007.3" width="2.0" height="15.1" fill="#d6604d"/>
<rect x="1185.8" y="1007.3" width="2.0" height="15.1" fill="#d6604d"/>
<rect x="1153.7" y="1007.3" width="0.8" height="15.1" fill="#d6604d"/>
<rect x="1193.6" y="1007.3" width="0.8" height="15.1" fill="#d6604d"/>
<rect x="1178.5" y="1007.3" width="1.5" height="15.1" fill="#f4a582"/>
<rect x="1182.0" y="1007.3" width="2.0" height="15.1" fill="#fbc6ad"/>
<rect x="1159.5" y="1007.3" width="1.5" height="15.1" fill="#e8826e"/>
<rect x="1189.0" y="1007.3" width="0.8" height="15.1" fill="#f4a582"/>
<rect x="1172.3" y="1007.3" width="1.5" height="15.1" fill="#f4a582"/>
<rect x="1184.2" y="1007.3" width="1.0" height="15.1" fill="#fbc6ad"/>
<rect x="1162.8" y="1007.3" width="0.8" height="15.1" fill="#fbc6ad"/>
<rect x="1176.7" y="1007.3" width="0.8" height="15.1" fill="#e8826e"/>
<rect x="1161.3" y="1007.3" width="1.5" height="15.1" fill="#e8826e"/>
<rect x="1169.7" y="1007.3" width="1.0" height="15.1" fill="#f4a582"/>
<rect x="1170.5" y="1007.3" width="2.0" height="15.1" fill="#e8826e"/>
<rect x="1172.5" y="1007.3" width="1.0" height="15.1" fill="#f4a582"/>
<rect x="1168.8" y="1007.3" width="1.5" height="15.1" fill="#fbc6ad"/>
<rect x="1166.3" y="1007.3" width="1.0" height="15.1" fill="#f4a582"/>
<rect x="1186.1" y="1007.3" width="0.8" height="15.1" fill="#e8826e"/>
<rect x="1162.1" y="1007.3" width="2.0" height="15.1" fill="#f4a582"/>
<rect x="1198.9" y="1007.3" width="1.5" height="15.1" fill="#d6604d"/>
<rect x="1195.5" y="1007.3" width="0.8" height="15.1" fill="#d6604d"/>
<rect x="1175.2" y="1007.3" width="0.8" height="15.1" fill="#fbc6ad"/>
<rect x="1167.1" y="1007.3" width="2.0" height="15.1" fill="#d6604d"/>
<rect x="1174.4" y="1007.3" width="0.8" height="15.1" fill="#e8826e"/>
<rect x="1190.5" y="1007.3" width="0.8" height="15.1" fill="#fbc6ad"/>
<rect x="1190.0" y="1007.3" width="1.0" height="15.1" fill="#d6604d"/>
<rect x="1184.3" y="1007.3" width="1.0" height="15.1" fill="#fbc6ad"/>
<rect x="1157.4" y="1007.3" width="2.0" height="15.1" fill="#fbc6ad"/>
<rect x="1178.9" y="1007.3" width="0.8" height="15.1" fill="#e8826e"/>
<rect x="1172.0" y="1007.3" width="1.5" height="15.1" fill="#e8826e"/>
<rect x="1176.1" y="1007.3" width="1.5" height="15.1" fill="#d6604d"/>
<rect x="1047.8" y="1007.3" width="1.0" height="15.1" fill="#d6604d"/>
<rect x="1054.5" y="1007.3" width="1.5" height="15.1" fill="#fbc6ad"/>
<rect x="1030.4" y="1007.3" width="0.8" height="15.1" fill="#f4a582"/>
<rect x="1045.4" y="1007.3" width="0.8" height="15.1" fill="#f4a582"/>
<rect x="1042.1" y="1007.3" width="2.0" height="15.1" fill="#f4a582"/>
<rect x="1041.2" y="1007.3" width="1.0" height="15.1" fill="#f4a582"/>
<rect x="1057.4" y="1007.3" width="2.0" height="15.1" fill="#fbc6ad"/>
<rect x="1057.1" y="1007.3" width="2.0" height="15.1" fill="#d6604d"/>
<rect x="1032.1" y="1007.3" width="2.0" height="15.1" fill="#e8826e"/>
<rect x="1035.6" y="1007.3" width="2.0" height="15.1" fill="#d6604d"/>
<rect x="1027.0" y="1007.3" width="2.0" height="15.1" fill="#f4a582"/>
<rect x="585.1" y="1007.3" width="1.0" height="15.1" fill="#f4a582"/>
<rect x="574.4" y="1007.3" width="1.0" height="15.1" fill="#e8826e"/>
<rect x="574.1" y="1007.3" width="1.5" height="15.1" fill="#d6604d"/>
<rect x="582.7" y="1007.3" width="1.0" height="15.1" fill="#fbc6ad"/>
<rect x="575.3" y="1007.3" width="0.8" height="15.1" fill="#d6604d"/>
<rect x="582.6" y="1007.3" width="2.0" height="15.1" fill="#f4a582"/>
<rect x="578.5" y="1007.3" width="2.0" height="15.1" fill="#e8826e"/>
<rect x="580.5" y="1007.3" width="1.0" height="15.1" fill="#e8826e"/>
<rect x="584.2" y="1007.3" width="1.0" height="15.1" fill="#e8826e"/>
<rect x="915.5" y="719.8" width="1.5" height="15.1" fill="#e8826e"/>
<rect x="901.4" y="719.8" width="1.5" height="15.1" fill="#e8826e"/>
<rect x="899.1" y="719.8" width="1.0" height="15.1" fill="#f4a582"/>
<rect x="897.1" y="719.8" width="1.0" height="15.1" fill="#e8826e"/>
<rect x="911.1" y="719.8" width="1.5" height="15.1" fill="#fbc6ad"/>
<rect x="896.3" y="719.8" width="2.0" height="15.1" fill="#e8826e"/>
<rect x="898.7" y="719.8" width="0.8" height="15.1" fill="#f4a582"/>
<rect x="898.7" y="719.8" width="1.5" height="15.1" fill="#d6604d"/>
<rect x="896.7" y="719.8" width="1.5" height="15.1" fill="#e8826e"/>
<rect x="912.9" y="719.8" width="2.0" height="15.1" fill="#f4a582"/>
<rect x="894.6" y="719.8" width="2.0" height="15.1" fill="#e8826e"/>
<rect x="898.5" y="719.8" width="0.8" height="15.1" fill="#e8826e"/>
<rect x="898.1" y="719.8" width="1.0" height="15.1" fill="#d6604d"/>
<rect x="915.8" y="719.8" width="0.8" height="15.1" fill="#f4a582"/>
<rect x="897.2" y="719.8" width="2.0" height="15.1" fill="#f4a582"/>
<rect x="912.0" y="719.8" width="1.5" height="15.1" fill="#fbc6ad"/>
<rect x="905.0" y="719.8" width="1.5" height="15.1" fill="#fbc6ad"/>
<rect x="898.9" y="719.8" width="1.5" height="15.1" fill="#f4a582"/>
<rect x="908.9" y="719.8" width="0.8" height="15.1" fill="#e8826e"/>
<rect x="898.3" y="719.8" width="2.0" height="15.1" fill="#d6604d"/>
<rect x="911.4" y="719.8" width="2.0" height="15.1" fill="#e8826e"/>
<rect x="908.2" y="719.8" width="0.8" height="15.1" fill="#f4a582"/>
<rect x="901.6" y="719.8" width="0.8" height="15.1" fill="#fbc6ad"/>
<rect x="1164.8" y="719.8" width="1.0" height="15.1" fill="#d6604d"/>
<rect x="1170.9" y="719.8" width="1.5" height="15.1" fill="#d6604d"/>
<rect x="1173.7" y="719.8" width="1.0" height="15.1" fill="#fbc6ad"/>
<rect x="1153.5" y="719.8" width="1.5" height="15.1" fill="#d6604d"/>
<rect x="1169.9" y="719.8" width="1.0" height="15.1" fill="#fbc6ad"/>
<rect x="1155.4" y="719.8" width="1.0" height="15.1" fill="#f4a582"/>
<rect x="1170.7" y="719.8" width="1.5" height="15.1" fill="#fbc6ad"/>
<rect x="1152.6" y="719.8" width="1.5" height="15.1" fill="#f4a582"/>
<rect x="1156.0" y="719.8" width="1.5" height="15.1" fill="#d6604d"/>
<rect x="1155.6" y="719.8" width="2.0" height="15.1" fill="#e8826e"/>
<rect x="1163.9" y="719.8" width="2.0" height="15.1" fill="#fbc6ad"/>
<rect x="1166.7" y="719.8" width="0.8" height="15.1" fill="#fbc6ad"/>
<rect x="1175.5" y="719.8" width="0.8" height="15.1" fill="#f4a582"/>
<rect x="1289.2" y="1007.3" width="1.0" height="15.1" fill="#d6604d"/>
<rect x="1280.7" y="1007.3" width="0.8" height="15.1" fill="#e8826e"/>
<rect x="1290.8" y="1007.3" width="0.8" height="15.1" fill="#f4a582"/>
<rect x="1271.7" y="1007.3" width="1.5" height="15.1" fill="#d6604d"/>
<rect x="1286.0" y="1007.3" width="2.0" height="15.1" fill="#f4a582"/>
<rect x="1290.3" y="1007.3" width="0.8" height="15.1" fill="#f4a582"/>
<rect x="1277.9" y="1007.3" width="1.0" height="15.1" fill="#fbc6ad"/>
<rect x="1282.1" y="1007.3" width="1.0" height="15.1" fill="#fbc6ad"/>
<rect x="1285.6" y="1007.3" width="0.8" height="15.1" fill="#fbc6ad"/>
<rect x="1305.3" y="1007.3" width="2.0" height="15.1" fill="#d6604d"/>
<rect x="1284.8" y="1007.3" width="1.5" height="15.1" fill="#d6604d"/>
<rect x="1285.0" y="1007.3" width="2.0" height="15.1" fill="#d6604d"/>
<rect x="1286.5" y="1007.3" width="1.5" height="15.1" fill="#d6604d"/>
<rect x="1260.3" y="1007.3" width="1.0" height="15.1" fill="#f4a582"/>
<rect x="1290.0" y="1007.3" width="2.0" height="15.1" fill="#fbc6ad"/>
<rect x="1261.6" y="1007.3" width="1.5" height="15.1" fill="#fbc6ad"/>
<rect x="1261.5" y="1007.3" width="1.5" height="15.1" fill="#f4a582"/>
<rect x="1298.1" y="1007.3" width="1.0" height="15.1" fill="#fbc6ad"/>
<rect x="1294.2" y="1007.3" width="1.5" height="15.1" fill="#e8826e"/>
<rect x="1261.2" y="1007.3" width="0.8" height="15.1" fill="#fbc6ad"/>
<rect x="1266.1" y="1007.3" width="1.0" height="15.1" fill="#f4a582"/>
<rect x="1261.5" y="1007.3" width="2.0" height="15.1" fill="#fbc6ad"/>
<rect x="1264.8" y="1007.3" width="0.8" height="15.1" fill="#d6604d"/>
<rect x="1284.9" y="1007.3" width="0.8" height="15.1" fill="#d6604d"/>
<rect x="1280.7" y="1007.3" width="2.0" height="15.1" fill="#fbc6ad"/>
<rect x="1288.5" y="1007.3" width="2.0" height="15.1" fill="#d6604d"/>
<rect x="1297.1" y="1007.3" width="1.0" height="15.1" fill="#d6604d"/>
<rect x="1295.0" y="1007.3" width="1.0" height="15.1" fill="#fbc6ad"/>
<rect x="1264.6" y="1007.3" width="1.5" height="15.1" fill="#d6604d"/>
<rect x="574.0" y="719.8" width="12.0" height="15.1" fill="#7a0a22" fill-opacity="1.0"/>
<rect x="574.0" y="750.1" width="12.0" height="15.1" fill="#8a1428" fill-opacity="0.9"/>
<rect x="689.0" y="719.8" width="47.0" height="15.1" fill="#72061f" fill-opacity="1.0"/>
<rect x="689.0" y="750.1" width="47.0" height="15.1" fill="#8a1428" fill-opacity="0.8"/>
<rect x="894.0" y="1007.3" width="23.5" height="15.1" fill="#6e0620" fill-opacity="1.0"/>
<rect x="877.0" y="1007.3" width="8.0" height="15.1" fill="#7a0a22" fill-opacity="0.85"/>
<rect x="894.0" y="946.8" width="23.5" height="15.1" fill="#7a0a22" fill-opacity="0.55"/>
<rect x="894.0" y="961.9" width="23.5" height="15.1" fill="#7a0a22" fill-opacity="0.5"/>
<rect x="894.0" y="719.8" width="23.5" height="15.1" fill="#d6604d" fill-opacity="0.7"/>
<rect x="894.0" y="750.1" width="23.5" height="15.1" fill="#c0392b" fill-opacity="0.5"/>
<rect x="1259.0" y="1007.3" width="49.0" height="15.1" fill="#e8826e" fill-opacity="0.55"/>
<rect x="1259.0" y="719.8" width="49.0" height="15.1" fill="#d6604d" fill-opacity="0.5"/>
<rect x="1259.0" y="629.0" width="49.0" height="454.0" fill="#7a0a22" fill-opacity="0.22"/>
<rect x="1309.0" y="629.0" width="19.0" height="454.0" fill="#7a0a22" fill-opacity="0.45"/>
<path fill="#7a0a22" fill-opacity="0.25" d="M557.0 659.3h0.8v15.1h-0.8zM557.0 780.3h0.8v15.1h-0.8zM560.4 629.0h1.5v15.1h-1.5zM560.4 901.4h1.5v15.1h-1.5zM566.8 674.4h1v15.1h-1zM566.8 765.2h1v15.1h-1zM566.8 992.2h1v15.1h-1zM568.2 750.1h3v15.1h-3zM568.2 825.7h3v15.1h-3zM570.5 1007.3h1.2v15.1h-1.2zM571.0 629.0h1v15.1h-1zM571.0 750.1h1v15.1h-1zM571.1 704.7h1v15.1h-1zM575.9 674.4h2.5v15.1h-2.5zM575.9 961.9h2.5v15.1h-2.5zM577.8 765.2h1v15.1h-1zM577.8 901.4h1v15.1h-1zM580.6 659.3h1v15.1h-1zM580.6 886.3h1v15.1h-1zM581.2 765.2h0.6v15.1h-0.6zM581.2 1007.3h0.6v15.1h-0.6zM581.3 629.0h3v15.1h-3zM581.3 1007.3h3v15.1h-3zM582.4 644.1h3v15.1h-3zM582.4 1007.3h3v15.1h-3zM582.4 1052.7h3v15.1h-3zM583.8 1022.5h2v15.1h-2zM585.0 644.1h0.6v15.1h-0.6zM585.0 719.8h0.6v15.1h-0.6zM585.0 810.6h0.6v15.1h-0.6zM585.4 1007.3h0.6v15.1h-0.6zM585.4 1052.7h0.6v15.1h-0.6zM585.9 901.4h1.2v15.1h-1.2zM586.7 765.2h1v15.1h-1zM588.0 946.8h0.8v15.1h-0.8zM589.7 901.4h0.8v15.1h-0.8zM592 659.3h1v15.1h-1zM592 1007.3h1v15.1h-1zM594.7 871.1h1v15.1h-1zM603.3 629.0h2v15.1h-2zM603.3 780.3h2v15.1h-2zM603.5 901.4h1v30.3h-1zM603.5 1037.6h1v15.1h-1zM603.6 629.0h1v15.1h-1zM603.6 734.9h2v15.1h-2zM603.6 931.7h1v15.1h-1zM603.6 1007.3h1v15.1h-1zM603.6 1067.9h2v15.1h-2zM609.4 674.4h2v15.1h-2zM609.4 1052.7h2v15.1h-2zM611.5 810.6h2v15.1h-2zM611.5 1022.5h2v15.1h-2zM617.4 644.1h2v15.1h-2zM617.4 719.8h2v15.1h-2zM617.4 765.2h2v15.1h-2zM617.4 901.4h2v15.1h-2zM617.4 931.7h2v15.1h-2zM617.4 1007.3h2v15.1h-2zM618.2 689.5h0.6v15.1h-0.6zM624.2 659.3h2.5v15.1h-2.5zM624.2 719.8h2.5v15.1h-2.5zM624.2 840.9h2.5v15.1h-2.5zM624.9 689.5h0.6v15.1h-0.6zM624.9 1022.5h0.6v15.1h-0.6zM628.1 629.0h2.5v30.3h-2.5zM629.1 795.5h1.5v15.1h-1.5zM629.5 916.5h0.8v15.1h-0.8zM629.5 1007.3h0.8v15.1h-0.8zM630.5 1022.5h1.5v15.1h-1.5zM632.4 704.7h3v15.1h-3zM632.4 825.7h1.5v15.1h-1.5zM632.4 1007.3h3v15.1h-3zM633.1 629.0h0.8v15.1h-0.8zM633.1 719.8h0.8v15.1h-0.8zM635.1 871.1h0.8v15.1h-0.8zM636.3 1007.3h1v30.3h-1zM638.0 810.6h0.8v15.1h-0.8zM639.6 689.5h1.5v15.1h-1.5zM639.6 825.7h1.5v15.1h-1.5zM639.6 977.1h1.5v15.1h-1.5zM641.0 780.3h0.8v15.1h-0.8zM646.5 659.3h1v30.3h-1zM646.5 810.6h1v15.1h-1zM646.9 840.9h0.8v15.1h-0.8zM646.9 1007.3h0.8v15.1h-0.8zM646.9 1052.7h0.8v15.1h-0.8zM647.3 659.3h1.5v15.1h-1.5zM648.8 856.0h1.5v15.1h-1.5zM648.8 1007.3h1.5v15.1h-1.5zM652.9 719.8h0.6v15.1h-0.6zM656.5 780.3h1v15.1h-1zM656.9 931.7h2v15.1h-2zM657.3 977.1h3v15.1h-3zM659.4 1067.9h2.5v15.1h-2.5zM660.7 689.5h1v15.1h-1zM661.9 1037.6h0.6v15.1h-0.6zM662.9 886.3h2v15.1h-2zM663.6 840.9h1.2v15.1h-1.2zM668.4 825.7h0.6v15.1h-0.6zM668.5 1007.3h1.5v15.1h-1.5zM670.0 810.6h0.8v15.1h-0.8zM670.0 961.9h0.8v15.1h-0.8zM672.8 810.6h2v15.1h-2zM673.3 961.9h0.6v15.1h-0.6zM678.8 644.1h2v15.1h-2zM679.3 810.6h3v15.1h-3zM679.3 946.8h3v15.1h-3zM680.2 1037.6h1v30.3h-1zM685.0 629.0h3v15.1h-3zM686.4 795.5h1.2v15.1h-1.2zM687.4 719.8h1v15.1h-1zM687.4 871.1h1v15.1h-1zM687.4 1052.7h1v15.1h-1zM689.7 780.3h0.6v15.1h-0.6zM692.8 946.8h0.8v15.1h-0.8zM693.0 856.0h3v15.1h-3zM694.6 916.5h1.5v15.1h-1.5zM694.6 1052.7h1.5v15.1h-1.5zM695.0 704.7h2v15.1h-2zM695.0 856.0h2v15.1h-2zM695.7 704.7h1.2v15.1h-1.2zM695.9 629.0h1.5v15.1h-1.5zM695.9 734.9h1.5v15.1h-1.5zM695.9 840.9h1.5v15.1h-1.5zM695.9 871.1h1.5v15.1h-1.5zM695.9 992.2h1.5v15.1h-1.5zM698.3 916.5h2v15.1h-2zM699.1 886.3h1.2v15.1h-1.2zM699.2 644.1h1.5v15.1h-1.5zM699.2 1052.7h1.5v15.1h-1.5zM699.5 765.2h2v15.1h-2zM699.8 1007.3h2.5v15.1h-2.5zM700.2 931.7h2.5v15.1h-2.5zM700.5 840.9h0.6v15.1h-0.6zM700.5 977.1h1v15.1h-1zM700.6 840.9h1.2v15.1h-1.2zM703.7 1067.9h3v15.1h-3zM704.5 825.7h3v15.1h-3zM705.6 644.1h1.5v15.1h-1.5zM705.6 719.8h1.5v15.1h-1.5zM705.6 871.1h1.5v15.1h-1.5zM706.0 674.4h1v15.1h-1zM706.0 871.1h1v15.1h-1zM706.6 689.5h0.6v15.1h-0.6zM706.6 901.4h1v15.1h-1zM706.6 961.9h1v15.1h-1zM706.6 1007.3h0.6v15.1h-0.6zM708.2 1037.6h2.5v15.1h-2.5zM708.2 1067.9h2v15.1h-2zM710.2 644.1h1.5v30.3h-1.5zM710.2 795.5h1.5v15.1h-1.5zM710.2 1052.7h1.5v30.3h-1.5zM710.5 629.0h1v15.1h-1zM710.5 916.5h1v15.1h-1zM710.5 977.1h1v15.1h-1zM711.3 810.6h2.5v15.1h-2.5zM712.0 644.1h1.5v15.1h-1.5zM712.0 1022.5h1.5v15.1h-1.5zM713.2 659.3h0.6v15.1h-0.6zM713.2 946.8h0.6v15.1h-0.6zM713.5 629.0h0.6v15.1h-0.6zM714.2 916.5h1v15.1h-1zM714.2 961.9h1v15.1h-1zM714.3 719.8h0.8v15.1h-0.8zM714.3 1022.5h0.8v15.1h-0.8zM714.8 629.0h2v15.1h-2zM714.8 901.4h2v15.1h-2zM714.8 961.9h2v15.1h-2zM718.5 674.4h0.8v15.1h-0.8zM718.5 704.7h0.8v15.1h-0.8zM718.5 901.4h0.8v15.1h-0.8zM718.5 992.2h0.8v15.1h-0.8zM718.9 629.0h1.5v15.1h-1.5zM718.9 659.3h1.5v15.1h-1.5zM718.9 795.5h1.5v15.1h-1.5zM719.6 765.2h0.8v15.1h-0.8zM719.6 961.9h0.8v15.1h-0.8zM722.4 689.5h0.6v15.1h-0.6zM722.4 840.9h0.6v15.1h-0.6zM723.0 780.3h1v15.1h-1zM724.1 644.1h1v15.1h-1zM724.1 992.2h1v15.1h-1zM724.2 916.5h3v15.1h-3zM724.2 977.1h3v15.1h-3zM724.3 659.3h1v15.1h-1zM724.9 1007.3h2.5v15.1h-2.5zM727.0 629.0h0.8v15.1h-0.8zM727.0 674.4h0.8v15.1h-0.8zM729.1 856.0h0.6v15.1h-0.6zM729.4 765.2h1.2v15.1h-1.2zM729.4 825.7h1.2v15.1h-1.2zM729.4 856.0h1.2v30.3h-1.2zM729.5 659.3h2v15.1h-2zM729.5 961.9h2v15.1h-2zM729.5 1007.3h2v15.1h-2zM730.7 689.5h1.5v15.1h-1.5zM730.7 795.5h1.5v15.1h-1.5zM730.9 629.0h1v15.1h-1zM730.9 704.7h1v15.1h-1zM730.9 734.9h1v15.1h-1zM730.9 780.3h1v15.1h-1zM730.9 977.1h1v15.1h-1zM731.7 659.3h2.5v15.1h-2.5zM731.7 825.7h2.5v15.1h-2.5zM731.7 916.5h2.5v15.1h-2.5zM731.7 1022.5h2.5v15.1h-2.5zM732.7 644.1h3v15.1h-3zM732.7 840.9h3v15.1h-3zM732.7 886.3h3v15.1h-3zM732.7 961.9h3v15.1h-3zM734.4 856.0h1v15.1h-1zM735.7 689.5h1v15.1h-1zM735.7 840.9h1v15.1h-1zM735.7 886.3h1v15.1h-1zM736.7 1007.3h0.6v15.1h-0.6zM737.3 765.2h0.8v15.1h-0.8zM737.3 840.9h0.8v15.1h-0.8zM737.3 1007.3h0.8v15.1h-0.8zM738.5 644.1h2.5v15.1h-2.5zM738.5 916.5h2.5v15.1h-2.5zM738.5 1007.3h2.5v15.1h-2.5zM738.7 704.7h1v15.1h-1zM742.8 1022.5h3v15.1h-3zM743.8 689.5h1v15.1h-1zM743.8 810.6h1v15.1h-1zM748.9 719.8h1v15.1h-1zM748.9 795.5h1v15.1h-1zM748.9 931.7h1v15.1h-1zM749.7 810.6h1v15.1h-1zM749.7 886.3h1v15.1h-1zM753.0 644.1h1v15.1h-1zM753.1 750.1h0.6v15.1h-0.6zM761.6 689.5h2v15.1h-2zM763.0 1007.3h3v15.1h-3zM763.9 644.1h2.5v15.1h-2.5zM763.9 689.5h2.5v15.1h-2.5zM764.1 659.3h1v15.1h-1zM764.1 977.1h1v15.1h-1zM765.9 825.7h1.2v15.1h-1.2zM766.6 961.9h0.8v15.1h-0.8zM766.6 1022.5h0.8v15.1h-0.8zM771.7 1052.7h0.6v15.1h-0.6zM774.9 644.1h2.5v15.1h-2.5zM776.0 886.3h1v15.1h-1zM776.0 1022.5h1v15.1h-1zM776.3 795.5h2.5v15.1h-2.5zM776.3 1007.3h2.5v30.3h-2.5zM776.4 750.1h0.6v15.1h-0.6zM776.4 886.3h0.6v15.1h-0.6zM776.4 1007.3h0.6v15.1h-0.6zM777.5 1022.5h0.6v15.1h-0.6zM778.6 629.0h0.8v15.1h-0.8zM778.6 719.8h0.8v15.1h-0.8zM778.6 992.2h0.8v15.1h-0.8zM781.1 1007.3h0.6v15.1h-0.6zM800.9 719.8h1.2v15.1h-1.2zM800.9 825.7h1.2v15.1h-1.2zM804.1 765.2h0.6v45.4h-0.6zM804.1 840.9h0.6v15.1h-0.6zM804.1 871.1h0.6v15.1h-0.6zM808.3 1007.3h0.8v15.1h-0.8zM808.3 1052.7h0.8v15.1h-0.8zM808.7 1007.3h1.5v15.1h-1.5zM810.7 1007.3h1.2v15.1h-1.2zM811.1 674.4h1v15.1h-1zM812.7 780.3h2.5v15.1h-2.5zM812.7 810.6h2.5v15.1h-2.5zM812.7 961.9h2.5v15.1h-2.5zM812.7 1007.3h2.5v15.1h-2.5zM812.8 1007.3h0.8v15.1h-0.8zM818.1 1007.3h0.8v15.1h-0.8zM819.1 629.0h1.5v15.1h-1.5zM819.1 750.1h1.5v15.1h-1.5zM819.1 856.0h1.5v15.1h-1.5zM819.1 916.5h1.5v15.1h-1.5zM835.6 659.3h1v15.1h-1zM835.6 1007.3h1v15.1h-1zM835.6 1037.6h1v30.3h-1zM836.5 856.0h3v15.1h-3zM838.5 946.8h2.5v15.1h-2.5zM840.0 1007.3h0.6v15.1h-0.6zM840.0 1067.9h0.6v15.1h-0.6zM843.2 659.3h2.5v15.1h-2.5zM843.2 689.5h2.5v15.1h-2.5zM843.2 992.2h2.5v15.1h-2.5zM844.5 825.7h3v15.1h-3zM847.1 674.4h1v15.1h-1zM847.1 810.6h1v15.1h-1zM847.1 1052.7h1v15.1h-1zM847.7 644.1h2v15.1h-2zM849.0 992.2h2v15.1h-2zM851.3 674.4h0.8v15.1h-0.8zM851.3 992.2h0.8v15.1h-0.8zM852.0 659.3h0.8v15.1h-0.8zM853.5 992.2h1v15.1h-1zM854.3 674.4h2.5v15.1h-2.5zM854.8 689.5h1v15.1h-1zM856.4 719.8h1v15.1h-1zM856.4 1052.7h1v15.1h-1zM857.0 629.0h2.5v15.1h-2.5zM860.0 780.3h1.2v15.1h-1.2zM862.8 765.2h0.8v15.1h-0.8zM862.8 946.8h0.8v15.1h-0.8zM864.1 734.9h2.5v15.1h-2.5zM864.7 689.5h3v15.1h-3zM864.7 750.1h3v15.1h-3zM865.3 1007.3h0.6v15.1h-0.6zM871.9 992.2h0.6v15.1h-0.6zM874.5 916.5h1v15.1h-1zM876.3 780.3h0.6v15.1h-0.6zM883.6 689.5h1v15.1h-1zM883.6 750.1h1v15.1h-1zM883.6 825.7h1v15.1h-1zM883.6 871.1h1v15.1h-1zM888.8 810.6h1v15.1h-1zM888.8 992.2h1v15.1h-1zM892.9 871.1h0.8v15.1h-0.8zM894.5 704.7h2v15.1h-2zM894.5 1037.6h2v30.3h-2zM895.2 916.5h0.8v15.1h-0.8zM900.0 704.7h1v15.1h-1zM900.0 840.9h1v15.1h-1zM900.0 1007.3h1v15.1h-1zM900.5 629.0h1.5v15.1h-1.5zM900.5 840.9h1.5v15.1h-1.5zM900.5 1067.9h1.5v15.1h-1.5zM900.6 659.3h2v15.1h-2zM902.9 629.0h1v15.1h-1zM902.9 689.5h1v15.1h-1zM902.9 795.5h1v15.1h-1zM903.5 916.5h0.8v15.1h-0.8zM903.5 977.1h0.8v15.1h-0.8zM904.5 659.3h3v15.1h-3zM904.5 1007.3h3v15.1h-3zM904.7 629.0h2.5v15.1h-2.5zM904.7 810.6h2.5v15.1h-2.5zM904.8 659.3h2.5v15.1h-2.5zM905.4 871.1h3v15.1h-3zM905.5 825.7h1.5v30.3h-1.5zM905.6 780.3h1.2v15.1h-1.2zM905.6 977.1h1.2v15.1h-1.2zM906.0 916.5h1.5v15.1h-1.5zM906.5 704.7h1v15.1h-1zM906.5 977.1h1v15.1h-1zM906.5 1007.3h1v15.1h-1zM907.9 992.2h1v15.1h-1zM909.2 765.2h1v15.1h-1zM909.2 916.5h1v15.1h-1zM909.2 1007.3h1v15.1h-1zM913.4 689.5h1v15.1h-1zM913.4 780.3h1v15.1h-1zM913.6 750.1h1.5v15.1h-1.5zM913.6 1007.3h3v15.1h-3zM913.6 1067.9h3v15.1h-3zM913.7 931.7h0.6v15.1h-0.6zM913.7 1067.9h0.6v15.1h-0.6zM914.0 992.2h1v15.1h-1zM916.3 1037.6h1.2v15.1h-1.2zM916.8 825.7h1v30.3h-1zM917.0 977.1h2.5v15.1h-2.5zM918.2 1007.3h1v15.1h-1zM921.9 1007.3h1v15.1h-1zM927.1 810.6h3v15.1h-3zM927.2 750.1h0.6v15.1h-0.6zM928.5 644.1h0.8v15.1h-0.8zM928.5 946.8h0.8v15.1h-0.8zM943.5 765.2h2v15.1h-2zM943.5 825.7h2v15.1h-2zM944.9 629.0h0.8v15.1h-0.8zM945.8 674.4h1.2v15.1h-1.2zM963.5 931.7h1v15.1h-1zM970.4 810.6h2v15.1h-2zM971.5 871.1h1v15.1h-1zM978.1 780.3h0.6v15.1h-0.6zM980.4 644.1h3v15.1h-3zM982.1 840.9h3v15.1h-3zM982.1 946.8h3v15.1h-3zM982.8 734.9h0.6v15.1h-0.6zM983.4 992.2h1.2v15.1h-1.2zM985.2 1022.5h2.5v15.1h-2.5zM990.1 704.7h1v15.1h-1zM990.1 765.2h1v30.3h-1zM990.1 1007.3h1v15.1h-1zM991.0 840.9h1v15.1h-1zM991.0 931.7h1v15.1h-1zM991.6 1007.3h1v15.1h-1zM992.9 750.1h1v15.1h-1zM1000.0 977.1h0.8v15.1h-0.8zM1008.8 795.5h1.5v15.1h-1.5zM1008.8 825.7h1.5v15.1h-1.5zM1008.8 961.9h0.6v15.1h-0.6zM1008.8 977.1h1.5v15.1h-1.5zM1008.8 1007.3h1.5v15.1h-1.5zM1013.6 1007.3h2.5v15.1h-2.5zM1013.8 961.9h1.2v15.1h-1.2zM1014.2 1037.6h0.8v15.1h-0.8zM1015.1 871.1h1v15.1h-1zM1015.1 1007.3h1v15.1h-1zM1024.1 931.7h2.5v15.1h-2.5zM1024.3 886.3h1v15.1h-1zM1024.3 1022.5h1v15.1h-1zM1026.0 719.8h1v15.1h-1zM1027.9 750.1h1.5v30.3h-1.5zM1027.9 1007.3h1.5v15.1h-1.5zM1028.7 629.0h1.5v15.1h-1.5zM1028.7 765.2h1.5v15.1h-1.5zM1028.7 1052.7h1.5v15.1h-1.5zM1029.2 825.7h2v15.1h-2zM1033.2 629.0h2v15.1h-2zM1033.2 992.2h2v30.3h-2zM1033.7 689.5h1v15.1h-1zM1036.9 734.9h0.6v15.1h-0.6zM1036.9 1022.5h0.6v15.1h-0.6zM1038.4 644.1h1.5v15.1h-1.5zM1038.4 825.7h1.5v15.1h-1.5zM1039.4 1007.3h2v15.1h-2zM1041.1 840.9h2.5v15.1h-2.5zM1047.1 659.3h1.2v15.1h-1.2zM1047.1 689.5h1.2v15.1h-1.2zM1048.1 719.8h0.6v15.1h-0.6zM1048.1 1007.3h0.6v15.1h-0.6zM1049.9 901.4h2.5v15.1h-2.5zM1050.2 810.6h1.2v15.1h-1.2zM1050.2 961.9h1.2v15.1h-1.2zM1051.5 765.2h3v15.1h-3zM1051.5 1007.3h3v15.1h-3zM1051.7 629.0h1v15.1h-1zM1053.0 961.9h3v15.1h-3zM1055.6 704.7h1.2v15.1h-1.2zM1056.2 977.1h1v15.1h-1zM1060.0 674.4h2.5v15.1h-2.5zM1060.0 795.5h2.5v30.3h-2.5zM1068.7 644.1h1v15.1h-1zM1068.7 795.5h1v15.1h-1zM1068.7 901.4h1v15.1h-1zM1068.7 961.9h1v15.1h-1zM1078.1 1007.3h1v15.1h-1zM1078.9 780.3h1v15.1h-1zM1079.5 1007.3h2v15.1h-2zM1081.6 644.1h0.6v15.1h-0.6zM1081.6 916.5h0.6v15.1h-0.6zM1081.6 1067.9h0.6v15.1h-0.6zM1084.5 644.1h2.5v15.1h-2.5zM1084.5 886.3h2.5v15.1h-2.5zM1086.9 659.3h2.5v15.1h-2.5zM1086.9 780.3h2.5v30.3h-2.5zM1090.5 810.6h2v15.1h-2zM1091.1 765.2h1v15.1h-1zM1091.1 1007.3h1v15.1h-1zM1097.7 765.2h0.8v15.1h-0.8zM1106.3 916.5h3v15.1h-3zM1107.5 1007.3h1v15.1h-1zM1107.7 795.5h0.8v15.1h-0.8zM1107.7 886.3h0.8v15.1h-0.8zM1107.7 1007.3h0.8v15.1h-0.8zM1109.9 674.4h2v15.1h-2zM1109.9 825.7h2v15.1h-2zM1117.4 780.3h1v15.1h-1zM1117.4 1007.3h1v15.1h-1zM1117.4 1037.6h1v15.1h-1zM1121.5 644.1h1v15.1h-1zM1121.7 1007.3h1v15.1h-1zM1121.9 961.9h1v15.1h-1zM1124.2 629.0h2.5v15.1h-2.5zM1124.2 1067.9h2.5v15.1h-2.5zM1131.5 916.5h1v15.1h-1zM1131.5 961.9h1v30.3h-1zM1132.3 1007.3h1v15.1h-1zM1134.0 704.7h2.5v15.1h-2.5zM1134.0 825.7h2.5v15.1h-2.5zM1134.0 871.1h2.5v15.1h-2.5zM1134.0 1007.3h2.5v15.1h-2.5zM1140.5 704.7h1v15.1h-1zM1143.5 659.3h2v15.1h-2zM1143.5 689.5h2v15.1h-2zM1143.5 992.2h2v15.1h-2zM1143.6 674.4h0.6v15.1h-0.6zM1143.6 856.0h0.6v15.1h-0.6zM1145.2 1007.3h0.8v15.1h-0.8zM1154.5 1007.3h2.5v15.1h-2.5zM1155.5 840.9h1.5v15.1h-1.5zM1155.5 871.1h1.5v15.1h-1.5zM1155.5 1007.3h1.5v15.1h-1.5zM1156.1 961.9h1.5v15.1h-1.5zM1156.1 1037.6h1.5v15.1h-1.5zM1161.9 765.2h1.5v15.1h-1.5zM1161.9 1007.3h1.5v15.1h-1.5zM1162.1 1007.3h1v15.1h-1zM1162.5 825.7h1v15.1h-1zM1162.6 750.1h3v15.1h-3zM1163.2 689.5h2.5v30.3h-2.5zM1163.2 977.1h2.5v15.1h-2.5zM1165.7 780.3h2.5v15.1h-2.5zM1168.5 977.1h2.5v30.3h-2.5zM1168.5 1037.6h2.5v15.1h-2.5zM1172.3 704.7h2.5v15.1h-2.5zM1174.1 659.3h1.2v15.1h-1.2zM1174.1 780.3h1.2v15.1h-1.2zM1174.9 931.7h1.2v15.1h-1.2zM1176.1 644.1h1.2v15.1h-1.2zM1176.1 1007.3h1.2v15.1h-1.2zM1177.7 992.2h1.2v15.1h-1.2zM1189.4 1007.3h0.6v15.1h-0.6zM1198.8 840.9h1v15.1h-1zM1199.5 931.7h2v15.1h-2zM1199.5 1007.3h2v15.1h-2zM1200.7 704.7h1v15.1h-1zM1200.7 734.9h1v15.1h-1zM1203.6 644.1h0.8v15.1h-0.8zM1204.6 734.9h1.5v15.1h-1.5zM1204.8 977.1h3v15.1h-3zM1214.1 659.3h1.2v30.3h-1.2zM1214.1 750.1h1.2v15.1h-1.2zM1214.1 810.6h1.2v15.1h-1.2zM1214.8 810.6h1v15.1h-1zM1215.6 977.1h3v15.1h-3zM1215.6 1022.5h3v15.1h-3zM1223.2 674.4h2v15.1h-2zM1223.2 856.0h2v15.1h-2zM1223.2 946.8h2v15.1h-2zM1223.2 992.2h2v15.1h-2zM1226.1 840.9h1.2v15.1h-1.2zM1226.1 946.8h1.2v15.1h-1.2zM1226.1 992.2h1.2v15.1h-1.2zM1230.4 780.3h2v15.1h-2zM1230.4 1007.3h2v15.1h-2zM1231.7 946.8h1.2v15.1h-1.2zM1231.9 1007.3h0.8v15.1h-0.8zM1233.9 765.2h2.5v15.1h-2.5zM1233.9 810.6h2.5v15.1h-2.5zM1233.9 1007.3h2.5v15.1h-2.5zM1238.3 780.3h0.8v15.1h-0.8zM1238.3 1007.3h0.8v15.1h-0.8zM1241.3 689.5h3v15.1h-3zM1244.1 1037.6h1.5v15.1h-1.5zM1245.1 659.3h0.8v15.1h-0.8zM1245.1 931.7h0.8v15.1h-0.8zM1247.9 1007.3h3v15.1h-3zM1249.8 704.7h1v15.1h-1zM1249.8 1007.3h1v15.1h-1zM1251.0 1067.9h1.2v15.1h-1.2zM1257.5 629.0h0.6v15.1h-0.6zM1261.1 629.0h1.2v15.1h-1.2zM1261.1 856.0h1.2v15.1h-1.2zM1262.3 659.3h1v15.1h-1zM1262.3 704.7h1v15.1h-1zM1264.3 629.0h1v15.1h-1zM1266.0 795.5h1.2v30.3h-1.2zM1267.2 916.5h1v15.1h-1zM1267.2 1007.3h1v15.1h-1zM1268.3 840.9h0.8v15.1h-0.8zM1269.3 946.8h1v15.1h-1zM1269.9 1037.6h1.5v15.1h-1.5zM1270.4 931.7h1v15.1h-1zM1270.4 961.9h1v15.1h-1zM1270.4 1067.9h1v15.1h-1zM1270.5 689.5h0.8v15.1h-0.8zM1271.6 871.1h1v15.1h-1zM1272.2 629.0h2v15.1h-2zM1272.2 689.5h2v15.1h-2zM1272.2 795.5h2v15.1h-2zM1272.2 1067.9h2v15.1h-2zM1272.7 659.3h1.2v15.1h-1.2zM1273.5 810.6h1.2v15.1h-1.2zM1273.9 795.5h1v15.1h-1zM1274.1 734.9h2v15.1h-2zM1274.1 961.9h2v15.1h-2zM1276.2 1067.9h1.2v15.1h-1.2zM1277.4 840.9h2v15.1h-2zM1277.8 961.9h1.2v15.1h-1.2zM1277.8 1037.6h1.2v15.1h-1.2zM1280.0 750.1h2v15.1h-2zM1280.2 1007.3h1.5v15.1h-1.5zM1281.1 765.2h0.6v15.1h-0.6zM1281.1 840.9h0.6v15.1h-0.6zM1282.3 644.1h0.6v15.1h-0.6zM1282.3 750.1h0.6v15.1h-0.6zM1283.8 704.7h2v15.1h-2zM1283.8 765.2h2v15.1h-2zM1284.3 810.6h2.5v15.1h-2.5zM1284.3 961.9h2.5v15.1h-2.5zM1284.8 719.8h0.6v15.1h-0.6zM1285.0 825.7h1.5v15.1h-1.5zM1285.0 886.3h1.5v15.1h-1.5zM1285.0 946.8h1.5v15.1h-1.5zM1285.1 689.5h1v15.1h-1zM1285.1 719.8h1v15.1h-1zM1285.1 856.0h1v15.1h-1zM1285.1 901.4h1v15.1h-1zM1286.8 1067.9h1.2v15.1h-1.2zM1287.1 780.3h2v15.1h-2zM1287.1 825.7h2v15.1h-2zM1287.1 931.7h2v15.1h-2zM1289.0 750.1h1.2v15.1h-1.2zM1289.1 750.1h3v15.1h-3zM1289.1 1067.9h3v15.1h-3zM1289.6 674.4h0.8v15.1h-0.8zM1290.5 644.1h1v15.1h-1zM1290.5 901.4h1v15.1h-1zM1290.8 750.1h0.6v15.1h-0.6zM1290.8 946.8h0.6v15.1h-0.6zM1291.2 734.9h0.6v15.1h-0.6zM1293.1 992.2h0.6v15.1h-0.6zM1293.4 734.9h2.5v15.1h-2.5zM1293.4 886.3h3v15.1h-3zM1294.3 644.1h2.5v15.1h-2.5zM1294.3 704.7h2.5v15.1h-2.5zM1294.3 734.9h2.5v15.1h-2.5zM1294.3 795.5h2.5v15.1h-2.5zM1294.3 886.3h2.5v15.1h-2.5zM1294.9 734.9h1v15.1h-1zM1294.9 886.3h1v15.1h-1zM1294.9 961.9h1v15.1h-1zM1295.1 795.5h0.8v15.1h-0.8zM1295.1 840.9h0.8v15.1h-0.8zM1295.1 992.2h0.8v30.3h-0.8zM1295.4 689.5h3v15.1h-3zM1295.4 734.9h3v15.1h-3zM1295.4 1037.6h3v15.1h-3zM1295.4 1067.9h1.5v15.1h-1.5zM1295.5 629.0h1.5v15.1h-1.5zM1295.5 840.9h1.5v15.1h-1.5zM1295.5 977.1h1.5v15.1h-1.5zM1296.4 689.5h1.5v15.1h-1.5zM1296.5 886.3h1v15.1h-1zM1298.8 977.1h1.5v15.1h-1.5zM1299.0 931.7h0.8v15.1h-0.8zM1299.5 750.1h2v15.1h-2zM1299.5 840.9h2v30.3h-2zM1299.5 1022.5h2v15.1h-2zM1300.3 886.3h1.2v30.3h-1.2zM1300.9 916.5h1v15.1h-1zM1300.9 1022.5h1v15.1h-1zM1301.1 704.7h2.5v15.1h-2.5zM1301.1 901.4h2.5v15.1h-2.5zM1301.5 689.5h1.5v15.1h-1.5zM1301.5 901.4h1.5v15.1h-1.5zM1303.8 1067.9h1.5v15.1h-1.5zM1304.6 644.1h2v15.1h-2zM1304.9 992.2h0.6v15.1h-0.6zM1306.1 629.0h0.6v15.1h-0.6zM1306.1 689.5h0.6v30.3h-0.6zM1306.8 659.3h3v30.3h-3zM1306.8 704.7h3v15.1h-3zM1306.8 871.1h3v15.1h-3zM1306.8 946.8h3v15.1h-3zM1306.8 1067.9h3v15.1h-3zM1307.2 704.7h1.5v15.1h-1.5zM1307.2 961.9h1.5v15.1h-1.5zM1307.5 704.7h3v15.1h-3zM1307.7 765.2h2v15.1h-2zM1307.9 629.0h1v15.1h-1zM1307.9 674.4h1v15.1h-1zM1307.9 810.6h1v15.1h-1zM1307.9 916.5h1v15.1h-1zM1307.9 977.1h1v15.1h-1z"/>
<path fill="#7a0a22" fill-opacity="0.45" d="M558.8 901.4h2v15.1h-2zM558.8 1007.3h2v15.1h-2zM560.4 644.1h1.5v15.1h-1.5zM560.4 765.2h1.5v15.1h-1.5zM570.9 856.0h1v15.1h-1zM570.9 977.1h1v15.1h-1zM571.0 1007.3h1v15.1h-1zM571.1 1007.3h1v15.1h-1zM574.6 659.3h0.8v15.1h-0.8zM574.6 689.5h0.8v15.1h-0.8zM574.6 825.7h0.8v15.1h-0.8zM575.9 629.0h2.5v15.1h-2.5zM575.9 825.7h2.5v30.3h-2.5zM575.9 931.7h2.5v15.1h-2.5zM575.9 992.2h2.5v15.1h-2.5zM575.9 1067.9h2.5v15.1h-2.5zM580.6 750.1h1v15.1h-1zM580.6 961.9h1v15.1h-1zM580.6 1037.6h1v15.1h-1zM580.6 1067.9h1v15.1h-1zM582.4 674.4h3v15.1h-3zM582.4 704.7h3v15.1h-3zM582.4 1067.9h3v15.1h-3zM583.6 629.0h1v15.1h-1zM583.6 689.5h1v15.1h-1zM583.6 825.7h1v15.1h-1zM583.6 901.4h1v30.3h-1zM583.8 644.1h2v15.1h-2zM583.8 780.3h2v15.1h-2zM583.8 840.9h2v15.1h-2zM583.8 1007.3h2v15.1h-2zM585.0 704.7h0.6v15.1h-0.6zM585.0 750.1h0.6v15.1h-0.6zM585.0 795.5h0.6v15.1h-0.6zM585.0 840.9h0.6v15.1h-0.6zM585.0 961.9h0.6v15.1h-0.6zM585.0 1007.3h0.6v30.3h-0.6zM585.9 674.4h1.2v15.1h-1.2zM585.9 750.1h1.2v15.1h-1.2zM585.9 780.3h1.2v15.1h-1.2zM585.9 810.6h1.2v15.1h-1.2zM585.9 856.0h1.2v15.1h-1.2zM585.9 931.7h1.2v15.1h-1.2zM585.9 977.1h1.2v15.1h-1.2zM585.9 1022.5h1.2v15.1h-1.2zM589.7 659.3h0.8v15.1h-0.8zM589.7 689.5h0.8v15.1h-0.8zM592 674.4h1v15.1h-1zM592 704.7h1v15.1h-1zM592 871.1h1v15.1h-1zM592 946.8h1v15.1h-1zM592 1067.9h1v15.1h-1zM594.7 901.4h1v15.1h-1zM594.7 931.7h1v15.1h-1zM595 689.5h1.2000000000000455v30.3h-1.2000000000000455zM595 734.9h1.2000000000000455v30.3h-1.2000000000000455zM595 795.5h1.2000000000000455v15.1h-1.2000000000000455zM595 840.9h1.2000000000000455v15.1h-1.2000000000000455zM596.4 765.2h2.5v15.1h-2.5zM597.7 1007.3h1v15.1h-1zM599.6 780.3h0.8v15.1h-0.8zM603.6 840.9h2v15.1h-2zM603.6 916.5h2v15.1h-2zM615.6 750.1h0.8v15.1h-0.8zM615.6 795.5h0.8v15.1h-0.8zM616.0 629.0h3v15.1h-3zM616.0 946.8h3v15.1h-3zM617.4 840.9h2v15.1h-2zM624.2 629.0h2.5v15.1h-2.5zM624.9 825.7h0.6v15.1h-0.6zM624.9 1067.9h0.6v15.1h-0.6zM628.1 992.2h2.5v15.1h-2.5zM628.1 1052.7h2.5v15.1h-2.5zM629.5 901.4h0.8v15.1h-0.8zM629.5 961.9h0.8v15.1h-0.8zM630.5 992.2h1.5v15.1h-1.5zM632.4 1037.6h3v30.3h-3zM639.3 810.6h1v15.1h-1zM639.3 1007.3h1v15.1h-1zM639.6 644.1h1.5v15.1h-1.5zM644.7 1007.3h0.8v15.1h-0.8zM646.5 1007.3h1v15.1h-1zM652.9 704.7h0.6v15.1h-0.6zM656.5 1007.3h1v15.1h-1zM657.9 1022.5h2v15.1h-2zM660.7 780.3h1v15.1h-1zM662.9 780.3h2v15.1h-2zM662.9 825.7h2v15.1h-2zM667.3 765.2h2v15.1h-2zM668.4 734.9h0.6v15.1h-0.6zM668.5 871.1h1.5v15.1h-1.5zM670.0 644.1h0.8v15.1h-0.8zM670.0 689.5h0.8v15.1h-0.8zM670.0 750.1h0.8v15.1h-0.8zM672.9 1022.5h1v15.1h-1zM673.3 750.1h0.6v15.1h-0.6zM673.3 1067.9h0.6v15.1h-0.6zM674.8 1037.6h0.6v15.1h-0.6zM678.7 795.5h1v15.1h-1zM678.7 1037.6h1v15.1h-1zM679.3 856.0h3v15.1h-3zM684.5 734.9h1.5v15.1h-1.5zM684.5 1022.5h1.5v15.1h-1.5zM685.0 765.2h3v15.1h-3zM686.9 1007.3h1.5v15.1h-1.5zM689.7 674.4h0.6v15.1h-0.6zM689.7 840.9h0.6v30.3h-0.6zM690.0 734.9h3v15.1h-3zM692.8 644.1h0.8v15.1h-0.8zM692.8 734.9h0.8v15.1h-0.8zM692.8 825.7h0.8v30.3h-0.8zM692.8 1052.7h0.8v15.1h-0.8zM693.0 795.5h3v15.1h-3zM694.6 659.3h1.5v15.1h-1.5zM694.6 734.9h1.5v15.1h-1.5zM695.0 629.0h2v15.1h-2zM695.0 795.5h2v45.4h-2zM695.9 674.4h1.5v15.1h-1.5zM695.9 825.7h1.5v15.1h-1.5zM698.3 659.3h2v15.1h-2zM698.3 734.9h2v30.3h-2zM698.3 810.6h2v15.1h-2zM698.3 856.0h2v15.1h-2zM698.3 961.9h2v15.1h-2zM698.3 1052.7h2v15.1h-2zM699.1 629.0h1.2v15.1h-1.2zM699.1 1037.6h1.2v15.1h-1.2zM699.1 1067.9h1.2v15.1h-1.2zM699.2 629.0h1.5v15.1h-1.5zM699.2 825.7h1.5v15.1h-1.5zM699.2 856.0h1.5v15.1h-1.5zM699.2 886.3h1.5v15.1h-1.5zM699.2 961.9h1.5v15.1h-1.5zM699.2 992.2h1.5v15.1h-1.5zM699.2 1022.5h1.5v15.1h-1.5zM699.5 992.2h1.2v15.1h-1.2zM699.5 1037.6h1.2v15.1h-1.2zM700.2 795.5h2.5v15.1h-2.5zM700.2 840.9h2.5v15.1h-2.5zM700.5 644.1h1v15.1h-1zM700.6 629.0h1.2v15.1h-1.2zM700.6 810.6h1.2v30.3h-1.2zM701.4 961.9h3v15.1h-3zM701.9 795.5h3v60.5h-3zM701.9 886.3h3v15.1h-3zM701.9 946.8h3v15.1h-3zM703.7 825.7h3v30.3h-3zM704.5 629.0h3v15.1h-3zM704.5 840.9h3v15.1h-3zM705.6 795.5h1.5v15.1h-1.5zM705.6 1007.3h1.5v15.1h-1.5zM706.0 765.2h1v15.1h-1zM706.0 977.1h1v15.1h-1zM706.0 1037.6h1v15.1h-1zM706.0 1067.9h1v15.1h-1zM706.6 644.1h0.6v15.1h-0.6zM706.6 856.0h1v15.1h-1zM706.6 931.7h1v15.1h-1zM706.6 1037.6h1v30.3h-1zM707.8 644.1h1.5v15.1h-1.5zM707.8 795.5h1.5v30.3h-1.5zM707.8 1052.7h1.5v30.3h-1.5zM708.0 1037.6h0.8v15.1h-0.8zM708.2 629.0h2.5v15.1h-2.5zM708.2 689.5h2.5v15.1h-2.5zM708.2 734.9h2.5v15.1h-2.5zM708.2 795.5h2.5v15.1h-2.5zM708.2 946.8h2.5v15.1h-2.5zM710.2 689.5h1.5v15.1h-1.5zM710.2 810.6h1.5v30.3h-1.5zM710.2 856.0h1.5v15.1h-1.5zM710.2 961.9h1.5v15.1h-1.5zM710.2 992.2h1.5v15.1h-1.5zM710.2 1037.6h1.5v15.1h-1.5zM712.0 689.5h1.5v15.1h-1.5zM712.3 629.0h1v15.1h-1zM712.3 810.6h1v15.1h-1zM712.3 840.9h1v15.1h-1zM712.3 961.9h1v15.1h-1zM712.3 1037.6h1v15.1h-1zM713.5 644.1h0.6v15.1h-0.6zM713.5 704.7h0.6v15.1h-0.6zM714.2 734.9h1v15.1h-1zM714.2 810.6h1v45.4h-1zM714.2 871.1h1v15.1h-1zM714.2 977.1h1v15.1h-1zM714.3 704.7h0.8v15.1h-0.8zM714.8 795.5h2v15.1h-2zM714.8 825.7h2v15.1h-2zM714.8 856.0h2v15.1h-2zM718.5 795.5h0.8v15.1h-0.8zM718.5 856.0h0.8v15.1h-0.8zM718.5 946.8h0.8v15.1h-0.8zM718.9 674.4h1.5v15.1h-1.5zM718.9 886.3h1.5v30.3h-1.5zM718.9 1022.5h1.5v30.3h-1.5zM719.6 644.1h0.8v15.1h-0.8zM719.6 689.5h0.8v15.1h-0.8zM719.6 825.7h0.8v15.1h-0.8zM721.9 644.1h2v15.1h-2zM721.9 810.6h2v30.3h-2zM721.9 931.7h2v15.1h-2zM722.4 629.0h0.6v15.1h-0.6zM722.4 810.6h0.6v15.1h-0.6zM723.0 644.1h1v15.1h-1zM723.0 840.9h1v15.1h-1zM723.0 931.7h1v15.1h-1zM723.0 992.2h1v15.1h-1zM723.3 1067.9h1.2v15.1h-1.2zM724.1 840.9h1v15.1h-1zM724.3 780.3h1v15.1h-1zM724.3 780.3h2v15.1h-2zM724.3 886.3h1v30.3h-1zM724.3 992.2h1v15.1h-1zM724.3 1037.6h2v15.1h-2zM727.0 795.5h0.8v30.3h-0.8zM727.0 977.1h0.8v15.1h-0.8zM729.1 810.6h0.6v15.1h-0.6zM729.1 886.3h0.6v15.1h-0.6zM729.2 629.0h3v15.1h-3zM729.2 704.7h3v15.1h-3zM729.2 810.6h3v15.1h-3zM729.2 886.3h3v15.1h-3zM729.4 704.7h1.2v15.1h-1.2zM729.4 931.7h1.2v15.1h-1.2zM729.4 977.1h1.2v15.1h-1.2zM730.7 629.0h1.5v15.1h-1.5zM730.9 644.1h1v15.1h-1zM730.9 765.2h1v15.1h-1zM730.9 825.7h1v15.1h-1zM730.9 856.0h1v15.1h-1zM730.9 916.5h1v15.1h-1zM731.7 629.0h2.5v15.1h-2.5zM731.7 795.5h2.5v15.1h-2.5zM731.7 1067.9h2.5v15.1h-2.5zM732.7 629.0h3v15.1h-3zM732.7 810.6h3v30.3h-3zM732.7 901.4h3v15.1h-3zM732.7 931.7h3v15.1h-3zM732.7 1022.5h3v15.1h-3zM732.7 1067.9h3v15.1h-3zM734.5 977.1h3v15.1h-3zM735.7 871.1h1v15.1h-1zM735.7 946.8h1v15.1h-1zM735.7 1037.6h1v15.1h-1zM736.5 674.4h3.0v15.1h-3.0zM736.5 704.7h3.0v15.1h-3.0zM736.5 734.9h3.0v30.3h-3.0zM736.5 780.3h3.0v30.3h-3.0zM736.5 825.7h3.0v15.1h-3.0zM736.5 886.3h3.0v15.1h-3.0zM736.5 916.5h3.0v30.3h-3.0zM736.5 931.7h3.0v15.1h-3.0zM736.5 961.9h3.0v15.1h-3.0zM736.5 961.9h3.0v15.1h-3.0zM736.5 1007.3h3.0v15.1h-3.0zM736.5 1052.7h3.0v15.1h-3.0zM736.5 1052.7h3.0v15.1h-3.0zM736.7 765.2h0.6v15.1h-0.6zM737.3 689.5h0.8v15.1h-0.8zM738.5 795.5h2.5v15.1h-2.5zM738.5 1037.6h2.5v15.1h-2.5zM738.7 946.8h1v15.1h-1zM738.7 1007.3h1v15.1h-1zM742.9 1007.3h1.2v15.1h-1.2zM748.9 1007.3h1v15.1h-1zM749.7 1007.3h1v15.1h-1zM753.0 946.8h1v15.1h-1zM753.1 1007.3h0.6v15.1h-0.6zM760.5 734.9h1.5v15.1h-1.5zM760.5 810.6h1.5v15.1h-1.5zM761.6 750.1h2v15.1h-2zM761.6 810.6h2v15.1h-2zM761.6 856.0h2v15.1h-2zM761.6 901.4h2v15.1h-2zM761.6 931.7h2v30.3h-2zM761.6 1022.5h2v15.1h-2zM763.0 977.1h3v15.1h-3zM763.3 1007.3h0.6v15.1h-0.6zM763.6 674.4h2v15.1h-2zM763.6 840.9h2v30.3h-2zM763.9 629.0h2.5v15.1h-2.5zM763.9 674.4h2.5v15.1h-2.5zM763.9 931.7h2.5v15.1h-2.5zM763.9 1052.7h2.5v15.1h-2.5zM765.9 674.4h1.2v15.1h-1.2zM765.9 931.7h1.2v15.1h-1.2zM766.6 977.1h0.8v15.1h-0.8zM768.7 659.3h1v15.1h-1zM768.7 810.6h1v15.1h-1zM768.7 840.9h1v15.1h-1zM768.7 946.8h1v15.1h-1zM772.2 644.1h0.6v15.1h-0.6zM772.2 871.1h0.6v15.1h-0.6zM772.2 931.7h0.6v15.1h-0.6zM772.5 734.9h2.0v15.1h-2.0zM772.5 765.2h2.0v15.1h-2.0zM772.5 856.0h2.0v60.5h-2.0zM772.5 946.8h2.0v15.1h-2.0zM772.5 946.8h2.0v15.1h-2.0zM772.5 977.1h2.0v30.3h-2.0zM772.5 1067.9h2.0v15.1h-2.0zM774.9 825.7h2.5v15.1h-2.5zM776.4 795.5h0.6v15.1h-0.6zM777.7 931.7h1v15.1h-1zM777.7 961.9h1v15.1h-1zM778.6 689.5h0.8v15.1h-0.8zM778.6 765.2h0.8v15.1h-0.8zM778.6 1007.3h0.8v30.3h-0.8zM793.0 719.8h3v15.1h-3zM793.8 856.0h2.5v15.1h-2.5zM794.4 977.1h1v15.1h-1zM795.4 765.2h3v15.1h-3zM800.9 1007.3h1.2v15.1h-1.2zM804.1 886.3h0.6v15.1h-0.6zM808.3 629.0h0.8v30.3h-0.8zM808.3 825.7h0.8v15.1h-0.8zM808.7 644.1h1.5v15.1h-1.5zM808.7 916.5h1.5v15.1h-1.5zM810.7 734.9h1.2v15.1h-1.2zM811.1 1007.3h1v15.1h-1zM812.8 719.8h0.8v15.1h-0.8zM819.1 644.1h1.5v15.1h-1.5zM819.1 901.4h1.5v15.1h-1.5zM835.6 674.4h1v15.1h-1zM835.6 795.5h1v15.1h-1zM835.6 840.9h1v15.1h-1zM840.0 1052.7h0.6v15.1h-0.6zM844.5 1007.3h3v15.1h-3zM847.1 644.1h1v15.1h-1zM847.1 719.8h1v15.1h-1zM847.1 916.5h1v15.1h-1zM847.7 704.7h2v30.3h-2zM847.7 992.2h2v15.1h-2zM848.1 1007.3h0.8v15.1h-0.8zM849 674.4h1.5v30.3h-1.5zM849 840.9h1.5v15.1h-1.5zM849.0 871.1h2v15.1h-2zM849 886.3h1.5v15.1h-1.5zM849 1007.3h1.5v15.1h-1.5zM849 1037.6h1.5v15.1h-1.5zM849.0 1052.7h2v15.1h-2zM851.3 1022.5h0.8v15.1h-0.8zM851.5 810.6h1v15.1h-1zM851.5 886.3h1v15.1h-1zM853.5 629.0h1v15.1h-1zM853.5 916.5h1v30.3h-1zM854.3 629.0h2.5v15.1h-2.5zM854.3 750.1h2.5v15.1h-2.5zM854.8 674.4h1v15.1h-1zM856.4 750.1h1v15.1h-1zM857.0 810.6h2.5v15.1h-2.5zM862.8 795.5h0.8v15.1h-0.8zM864.1 1007.3h2.5v15.1h-2.5zM866.0 1007.3h2v15.1h-2zM867.5 704.7h1.5v15.1h-1.5zM867.5 840.9h1.5v15.1h-1.5zM867.5 916.5h1.5v15.1h-1.5zM867.5 946.8h1.5v15.1h-1.5zM867.5 977.1h1.5v45.4h-1.5zM869.8 719.8h0.8v15.1h-0.8zM871.9 719.8h0.6v15.1h-0.6zM871.9 931.7h0.6v15.1h-0.6zM874.4 1022.5h3v15.1h-3zM874.5 810.6h1v15.1h-1zM880 689.5h1.5v15.1h-1.5zM880 765.2h1.5v15.1h-1.5zM880 825.7h1.5v15.1h-1.5zM880 856.0h1.5v15.1h-1.5zM880 931.7h1.5v15.1h-1.5zM880 1007.3h1.5v30.3h-1.5zM880 1052.7h1.5v15.1h-1.5zM880.3 961.9h1.5v15.1h-1.5zM880.3 1052.7h1.5v30.3h-1.5zM881.0 810.6h0.8v15.1h-0.8zM883.6 704.7h1v15.1h-1zM883.6 946.8h1v15.1h-1zM883.6 1037.6h1v15.1h-1zM885.0 825.7h3v15.1h-3zM885.0 992.2h3v15.1h-3zM888.8 946.8h1v15.1h-1zM888.8 1007.3h1v15.1h-1zM888.8 1037.6h1v15.1h-1zM894.3 689.5h1v15.1h-1zM894.3 780.3h1v15.1h-1zM894.3 901.4h1v15.1h-1zM894.3 977.1h1v15.1h-1zM894.3 1067.9h1v15.1h-1zM894.5 659.3h2v45.4h-2zM894.5 765.2h2v15.1h-2zM894.5 795.5h2v15.1h-2zM894.5 840.9h2v15.1h-2zM894.5 901.4h2v15.1h-2zM894.5 946.8h2v30.3h-2zM894.5 1022.5h2v15.1h-2zM895.2 780.3h0.8v15.1h-0.8zM895.2 810.6h0.8v15.1h-0.8zM897.2 795.5h2.5v45.4h-2.5zM900.0 750.1h1v15.1h-1zM900.5 765.2h1.5v15.1h-1.5zM900.5 901.4h1.5v15.1h-1.5zM900.5 1022.5h1.5v15.1h-1.5zM900.6 629.0h2v30.3h-2zM900.6 734.9h2v45.4h-2zM900.6 871.1h2v15.1h-2zM900.6 946.8h2v15.1h-2zM900.6 1052.7h2v15.1h-2zM900.9 1007.3h1v15.1h-1zM901.5 795.5h1.2v15.1h-1.2zM901.5 1022.5h1.2v15.1h-1.2zM902.9 750.1h1v15.1h-1zM902.9 871.1h1v15.1h-1zM902.9 901.4h1v30.3h-1zM903.5 644.1h0.8v15.1h-0.8zM903.5 840.9h0.8v15.1h-0.8zM903.5 871.1h0.8v15.1h-0.8zM904.7 644.1h2.5v15.1h-2.5zM904.7 886.3h2.5v15.1h-2.5zM904.7 946.8h2.5v15.1h-2.5zM904.7 977.1h2.5v15.1h-2.5zM904.7 1052.7h2.5v30.3h-2.5zM904.8 644.1h2.5v15.1h-2.5zM904.8 704.7h2.5v15.1h-2.5zM904.8 810.6h2.5v15.1h-2.5zM904.8 871.1h2.5v15.1h-2.5zM904.8 961.9h2.5v30.3h-2.5zM904.8 1022.5h2.5v15.1h-2.5zM905.4 629.0h3v15.1h-3zM905.4 659.3h3v30.3h-3zM905.4 901.4h3v15.1h-3zM905.4 931.7h3v15.1h-3zM905.5 704.7h1.5v15.1h-1.5zM905.5 734.9h1.5v15.1h-1.5zM905.5 765.2h1.5v15.1h-1.5zM905.5 931.7h1.5v15.1h-1.5zM905.5 1022.5h1.5v15.1h-1.5zM905.6 644.1h1.2v30.3h-1.2zM905.6 704.7h1.2v15.1h-1.2zM905.6 871.1h1.2v15.1h-1.2zM905.6 931.7h1.2v15.1h-1.2zM905.6 1022.5h1.2v15.1h-1.2zM906.0 644.1h1.5v15.1h-1.5zM906.0 674.4h1.5v15.1h-1.5zM906.0 704.7h1.5v15.1h-1.5zM906.0 765.2h1.5v15.1h-1.5zM906.0 946.8h1.5v15.1h-1.5zM906.0 992.2h1.5v15.1h-1.5zM906.4 644.1h1v30.3h-1zM906.4 704.7h1v15.1h-1zM906.4 734.9h1v15.1h-1zM906.4 856.0h1v30.3h-1zM906.4 992.2h1v15.1h-1zM906.4 1052.7h1v15.1h-1zM906.5 674.4h1v15.1h-1zM906.5 931.7h1v15.1h-1zM906.5 1067.9h1v15.1h-1zM907.9 674.4h1v15.1h-1zM907.9 856.0h1v15.1h-1zM907.9 1037.6h1v45.4h-1zM909.2 719.8h1v15.1h-1zM909.2 977.1h1v30.3h-1zM909.6 674.4h0.8v15.1h-0.8zM909.6 825.7h0.8v15.1h-0.8zM909.6 871.1h0.8v15.1h-0.8zM909.6 916.5h0.8v15.1h-0.8zM909.6 1022.5h0.8v15.1h-0.8zM910.9 674.4h2v15.1h-2zM910.9 750.1h2v15.1h-2zM910.9 810.6h2v15.1h-2zM910.9 916.5h2v15.1h-2zM910.9 961.9h2v15.1h-2zM910.9 1022.5h2v15.1h-2zM913.4 629.0h1v45.4h-1zM913.4 765.2h1v15.1h-1zM913.4 795.5h1v15.1h-1zM913.4 871.1h1v15.1h-1zM913.4 916.5h1v30.3h-1zM913.6 629.0h1.5v15.1h-1.5zM913.7 795.5h0.6v15.1h-0.6zM913.7 840.9h0.6v15.1h-0.6zM913.7 977.1h0.6v30.3h-0.6zM914.0 629.0h1v15.1h-1zM916.3 629.0h1.2v15.1h-1.2zM916.3 825.7h1.2v15.1h-1.2zM916.8 704.7h1v15.1h-1zM916.8 750.1h1v30.3h-1zM916.8 810.6h1v15.1h-1zM916.8 886.3h1v15.1h-1zM916.8 1022.5h1v15.1h-1zM917.3 765.2h1.5v15.1h-1.5zM917.3 1007.3h1.5v15.1h-1.5zM925.7 1007.3h1.5v15.1h-1.5zM927.2 992.2h0.6v15.1h-0.6zM944.9 1007.3h0.8v15.1h-0.8zM957.7 1007.3h1.5v15.1h-1.5zM963.5 901.4h1v15.1h-1zM982.1 629.0h3v15.1h-3zM982.8 916.5h0.6v15.1h-0.6zM983.4 689.5h1.2v30.3h-1.2zM984.6 765.2h3v15.1h-3zM992.9 629.0h1v15.1h-1zM999.6 765.2h1v15.1h-1zM1000.0 644.1h0.8v15.1h-0.8zM1007.6 629.0h1v15.1h-1zM1007.6 1007.3h1v15.1h-1zM1024.3 659.3h1v15.1h-1zM1024.3 1037.6h1v15.1h-1zM1026.0 659.3h1v15.1h-1zM1026.0 734.9h1v15.1h-1zM1026.0 856.0h1v15.1h-1zM1026.0 901.4h1v15.1h-1zM1026.0 977.1h1v15.1h-1zM1026.0 1022.5h1v15.1h-1zM1027.4 719.8h1v15.1h-1zM1027.9 659.3h1.5v15.1h-1.5zM1028.7 734.9h1.5v15.1h-1.5zM1028.8 644.1h1v15.1h-1zM1028.8 810.6h1v15.1h-1zM1028.8 1007.3h1v45.4h-1zM1028.8 1067.9h1v15.1h-1zM1029.2 780.3h2v15.1h-2zM1029.2 810.6h2v15.1h-2zM1033.2 810.6h2v15.1h-2zM1033.7 961.9h1v15.1h-1zM1035.3 704.7h1v15.1h-1zM1035.3 780.3h1v15.1h-1zM1035.3 901.4h1v15.1h-1zM1035.8 689.5h1.5v15.1h-1.5zM1036.9 1007.3h0.6v15.1h-0.6zM1037.1 992.2h1.2v15.1h-1.2zM1037.5 750.1h1.5v30.3h-1.5zM1038.4 704.7h1.5v15.1h-1.5zM1038.4 734.9h1.5v15.1h-1.5zM1038.4 901.4h1.5v15.1h-1.5zM1038.4 1067.9h1.5v15.1h-1.5zM1040.8 992.2h2.5v15.1h-2.5zM1040.9 689.5h2.5v15.1h-2.5zM1041.1 629.0h2.5v15.1h-2.5zM1041.1 674.4h2.5v15.1h-2.5zM1043.2 629.0h0.6v45.4h-0.6zM1043.2 840.9h0.6v15.1h-0.6zM1045.4 810.6h2.5v30.3h-2.5zM1046.5 644.1h3v15.1h-3zM1046.5 780.3h3v30.3h-3zM1046.5 840.9h3v15.1h-3zM1047.1 674.4h1.2v15.1h-1.2zM1047.1 916.5h1.2v30.3h-1.2zM1047.1 992.2h1.2v15.1h-1.2zM1047.1 1067.9h1.2v15.1h-1.2zM1048.1 810.6h0.6v15.1h-0.6zM1048.1 946.8h0.6v15.1h-0.6zM1048.1 992.2h0.6v15.1h-0.6zM1048.9 992.2h1.2v15.1h-1.2zM1049.9 750.1h2.5v15.1h-2.5zM1049.9 856.0h2.5v15.1h-2.5zM1050.2 1007.3h1.2v15.1h-1.2zM1051.5 810.6h3v15.1h-3zM1051.5 871.1h3v15.1h-3zM1051.5 946.8h3v15.1h-3zM1051.7 734.9h1v15.1h-1zM1051.7 1067.9h1v15.1h-1zM1053.0 719.8h3v15.1h-3zM1053.0 750.1h3v15.1h-3zM1053.0 1007.3h3v15.1h-3zM1053.0 1052.7h3v15.1h-3zM1053.5 704.7h1.5v15.1h-1.5zM1053.5 780.3h1.5v15.1h-1.5zM1053.5 825.7h1.5v15.1h-1.5zM1053.9 629.0h3v15.1h-3zM1053.9 704.7h0.6v15.1h-0.6zM1053.9 704.7h3v15.1h-3zM1053.9 750.1h3v15.1h-3zM1053.9 886.3h0.6v30.3h-0.6zM1053.9 977.1h3v15.1h-3zM1053.9 1007.3h3v15.1h-3zM1053.9 1022.5h0.6v15.1h-0.6zM1053.9 1067.9h0.6v15.1h-0.6zM1055.6 795.5h1.2v15.1h-1.2zM1055.6 961.9h1.2v15.1h-1.2zM1055.8 840.9h0.8v15.1h-0.8zM1056.2 644.1h1v15.1h-1zM1056.2 1037.6h1v15.1h-1zM1057.4 795.5h2.5v30.3h-2.5zM1060.0 765.2h2.5v15.1h-2.5zM1078.9 961.9h1v15.1h-1zM1078.9 1007.3h1v15.1h-1zM1079.8 644.1h1v15.1h-1zM1080.6 961.9h1.2v15.1h-1.2zM1080.6 1022.5h1.2v15.1h-1.2zM1084.3 1007.3h2.5v15.1h-2.5zM1084.7 659.3h1v45.4h-1zM1084.7 750.1h1v15.1h-1zM1084.7 916.5h1v15.1h-1zM1084.7 1007.3h1v15.1h-1zM1086.8 780.3h2.5v15.1h-2.5zM1086.8 856.0h2.5v15.1h-2.5zM1086.8 946.8h2.5v15.1h-2.5zM1086.8 992.2h2.5v15.1h-2.5zM1086.9 629.0h2.5v15.1h-2.5zM1086.9 1037.6h2.5v30.3h-2.5zM1087.1 750.1h2.5v15.1h-2.5zM1087.1 901.4h2.5v15.1h-2.5zM1087.1 1022.5h2.5v15.1h-2.5zM1087.9 810.6h1v15.1h-1zM1087.9 916.5h1v15.1h-1zM1088.2 704.7h2.5v15.1h-2.5zM1088.2 856.0h2.5v15.1h-2.5zM1088.2 977.1h2.5v15.1h-2.5zM1088.8 659.3h2.5v15.1h-2.5zM1088.8 750.1h2.5v15.1h-2.5zM1088.8 946.8h2.5v15.1h-2.5zM1090.5 659.3h2v15.1h-2zM1090.5 1007.3h2v15.1h-2zM1090.5 1067.9h2v15.1h-2zM1091.1 1052.7h1v15.1h-1zM1097.7 644.1h0.8v15.1h-0.8zM1097.7 1007.3h0.8v15.1h-0.8zM1106.3 765.2h3v15.1h-3zM1107.5 765.2h1v15.1h-1zM1107.7 674.4h0.8v15.1h-0.8zM1107.7 1052.7h0.8v15.1h-0.8zM1117.4 931.7h1v15.1h-1zM1117.4 992.2h1v15.1h-1zM1121.5 750.1h1v15.1h-1zM1121.5 1007.3h1v30.3h-1zM1121.9 1007.3h1v15.1h-1zM1124.2 871.1h2.5v15.1h-2.5zM1131.5 659.3h1v15.1h-1zM1131.5 825.7h1v15.1h-1zM1131.5 1007.3h1v15.1h-1zM1143.5 765.2h2v15.1h-2zM1145.2 856.0h0.8v15.1h-0.8zM1153.3 674.4h2v15.1h-2zM1153.3 765.2h2v15.1h-2zM1153.3 1052.7h2v30.3h-2zM1155.5 644.1h1.5v15.1h-1.5zM1155.5 795.5h1.5v15.1h-1.5zM1155.5 856.0h1.5v15.1h-1.5zM1156.1 780.3h1.5v15.1h-1.5zM1156.1 992.2h1.5v30.3h-1.5zM1156.8 659.3h0.6v45.4h-0.6zM1156.8 886.3h0.6v30.3h-0.6zM1156.8 1022.5h0.6v15.1h-0.6zM1157.2 780.3h0.6v15.1h-0.6zM1157.2 856.0h0.6v15.1h-0.6zM1159.0 644.1h1v15.1h-1zM1159.0 734.9h1v15.1h-1zM1159.0 795.5h1v15.1h-1zM1159.0 871.1h1v30.3h-1zM1159.0 916.5h1v15.1h-1zM1159.0 1052.7h1v15.1h-1zM1161.9 629.0h1.5v15.1h-1.5zM1162.1 689.5h1v15.1h-1zM1162.5 644.1h1v15.1h-1zM1162.6 629.0h3v15.1h-3zM1162.6 674.4h3v15.1h-3zM1162.6 810.6h3v15.1h-3zM1162.6 871.1h3v15.1h-3zM1162.6 946.8h3v15.1h-3zM1163.2 734.9h2.5v15.1h-2.5zM1163.2 901.4h2.5v15.1h-2.5zM1163.2 1037.6h2.5v15.1h-2.5zM1165.7 659.3h2.5v15.1h-2.5zM1165.7 689.5h2.5v15.1h-2.5zM1165.7 795.5h2.5v15.1h-2.5zM1165.7 916.5h2.5v30.3h-2.5zM1165.7 961.9h2.5v15.1h-2.5zM1167.4 704.7h2.5v15.1h-2.5zM1167.4 825.7h2.5v15.1h-2.5zM1167.4 871.1h2.5v15.1h-2.5zM1167.4 977.1h2.5v15.1h-2.5zM1167.4 1037.6h2.5v30.3h-2.5zM1172.3 750.1h2.5v15.1h-2.5zM1172.3 810.6h2.5v15.1h-2.5zM1172.3 961.9h2.5v15.1h-2.5zM1172.3 1052.7h2.5v30.3h-2.5zM1173.0 629.0h1.2v15.1h-1.2zM1173.0 674.4h1.2v15.1h-1.2zM1173.0 871.1h1.2v15.1h-1.2zM1173.0 1007.3h1.2v15.1h-1.2zM1173.4 916.5h2v15.1h-2zM1174.1 629.0h1.2v15.1h-1.2zM1174.1 734.9h1.2v15.1h-1.2zM1174.1 856.0h1.2v15.1h-1.2zM1174.1 886.3h1.2v15.1h-1.2zM1174.1 946.8h1.2v15.1h-1.2zM1174.9 644.1h1.2v15.1h-1.2zM1174.9 674.4h1.2v15.1h-1.2zM1174.9 719.8h1.2v15.1h-1.2zM1174.9 780.3h1.2v15.1h-1.2zM1174.9 886.3h1.2v30.3h-1.2zM1174.9 1007.3h1.2v15.1h-1.2zM1175.4 1037.6h1.5v15.1h-1.5zM1176.1 901.4h1.2v15.1h-1.2zM1188.0 704.7h2.5v15.1h-2.5zM1188.0 734.9h2.5v15.1h-2.5zM1191.7 644.1h0.8v30.3h-0.8zM1191.7 689.5h0.8v15.1h-0.8zM1191.7 795.5h0.8v15.1h-0.8zM1191.7 856.0h0.8v15.1h-0.8zM1191.7 901.4h0.8v15.1h-0.8zM1191.7 946.8h0.8v15.1h-0.8zM1191.7 1022.5h0.8v15.1h-0.8zM1198.8 674.4h1v15.1h-1zM1198.8 1067.9h1v15.1h-1zM1199.5 840.9h2v15.1h-2zM1200.7 1007.3h1v30.3h-1zM1203.0 825.7h1.2v15.1h-1.2zM1204.8 1007.3h3v15.1h-3zM1215.6 916.5h3v15.1h-3zM1215.6 992.2h3v15.1h-3zM1216.9 734.9h1.2v15.1h-1.2zM1216.9 992.2h1.2v15.1h-1.2zM1219.4 644.1h2v15.1h-2zM1219.4 840.9h2v15.1h-2zM1219.4 886.3h2v15.1h-2zM1219.4 946.8h2v15.1h-2zM1219.4 977.1h2v45.4h-2zM1219.4 1067.9h2v15.1h-2zM1219.5 750.1h2v15.1h-2zM1219.5 946.8h2v30.3h-2zM1221.9 810.6h2v15.1h-2zM1223.1 719.8h3v30.3h-3zM1223.1 795.5h3v15.1h-3zM1223.1 992.2h3v15.1h-3zM1223.1 1037.6h3v15.1h-3zM1223.2 795.5h2v15.1h-2zM1223.2 961.9h2v15.1h-2zM1225.8 780.3h2.5v15.1h-2.5zM1225.8 871.1h2.5v30.3h-2.5zM1225.8 961.9h2.5v15.1h-2.5zM1225.8 992.2h2.5v15.1h-2.5zM1225.8 1037.6h2.5v15.1h-2.5zM1226.1 629.0h1.2v15.1h-1.2zM1226.1 674.4h0.6v15.1h-0.6zM1226.1 704.7h0.6v30.3h-0.6zM1226.1 916.5h0.6v15.1h-0.6zM1226.1 1067.9h0.6v15.1h-0.6zM1226.8 629.0h2.5v15.1h-2.5zM1226.8 871.1h2.5v15.1h-2.5zM1226.8 916.5h2.5v15.1h-2.5zM1226.8 1022.5h2.5v15.1h-2.5zM1226.8 1067.9h2.5v15.1h-2.5zM1227.2 674.4h2.5v15.1h-2.5zM1227.2 704.7h2.5v15.1h-2.5zM1227.2 961.9h2.5v15.1h-2.5zM1228.3 644.1h1v15.1h-1zM1228.3 689.5h1v15.1h-1zM1228.3 719.8h1v15.1h-1zM1228.3 765.2h1v15.1h-1zM1228.3 795.5h1v15.1h-1zM1228.3 886.3h1v15.1h-1zM1228.3 931.7h1v15.1h-1zM1228.3 961.9h1v15.1h-1zM1228.3 1007.3h1v15.1h-1zM1229.3 659.3h1.2v15.1h-1.2zM1229.3 750.1h1.2v15.1h-1.2zM1229.3 840.9h1.2v15.1h-1.2zM1229.3 886.3h1.2v15.1h-1.2zM1229.3 1007.3h1.2v15.1h-1.2zM1229.3 1067.9h1.2v15.1h-1.2zM1230.1 704.7h0.6v15.1h-0.6zM1230.1 856.0h2v15.1h-2zM1230.1 992.2h0.6v15.1h-0.6zM1230.1 1022.5h0.6v15.1h-0.6zM1230.9 734.9h0.6v15.1h-0.6zM1230.9 765.2h0.6v15.1h-0.6zM1231.2 689.5h1.5v15.1h-1.5zM1231.5 674.4h3v15.1h-3zM1231.5 719.8h3v15.1h-3zM1231.5 795.5h3v15.1h-3zM1231.5 886.3h3v15.1h-3zM1231.5 916.5h3v15.1h-3zM1231.5 1037.6h3v15.1h-3zM1231.9 719.8h0.6v15.1h-0.6zM1231.9 780.3h0.6v30.3h-0.6zM1231.9 946.8h0.8v15.1h-0.8zM1231.9 1037.6h0.6v15.1h-0.6zM1231.9 1067.9h0.6v15.1h-0.6zM1233.0 659.3h0.6v30.3h-0.6zM1233.0 734.9h0.6v15.1h-0.6zM1233.9 659.3h3v15.1h-3zM1233.9 719.8h3v15.1h-3zM1233.9 840.9h3v15.1h-3zM1233.9 916.5h3v15.1h-3zM1233.9 1022.5h2.5v15.1h-2.5zM1234.6 795.5h0.6v15.1h-0.6zM1234.6 916.5h0.6v15.1h-0.6zM1234.6 961.9h0.6v15.1h-0.6zM1236.4 629.0h2v15.1h-2zM1238.3 825.7h0.8v30.3h-0.8zM1238.3 977.1h0.8v15.1h-0.8zM1240.0 689.5h0.8v15.1h-0.8zM1241.3 704.7h3v15.1h-3zM1241.3 750.1h3v15.1h-3zM1241.3 825.7h3v15.1h-3zM1241.3 886.3h3v15.1h-3zM1244.1 644.1h1.5v15.1h-1.5zM1245.1 977.1h0.8v15.1h-0.8zM1250.7 644.1h2v15.1h-2zM1251.0 825.7h1.2v15.1h-1.2zM1260.0 825.7h2v15.1h-2zM1260.0 886.3h2v15.1h-2zM1260.0 1037.6h2v15.1h-2zM1260.3 629.0h1.5v15.1h-1.5zM1260.3 946.8h1.5v15.1h-1.5zM1260.3 1037.6h1.5v15.1h-1.5zM1261.1 689.5h1.2v15.1h-1.2zM1261.1 795.5h1.2v15.1h-1.2zM1261.1 901.4h1.2v15.1h-1.2zM1261.1 931.7h1.2v15.1h-1.2zM1261.1 1067.9h1.2v15.1h-1.2zM1262.3 977.1h1v30.3h-1zM1264.3 659.3h1v15.1h-1zM1264.3 719.8h1v15.1h-1zM1264.3 719.8h2.5v15.1h-2.5zM1264.3 750.1h2.5v30.3h-2.5zM1264.3 871.1h2.5v30.3h-2.5zM1264.3 1067.9h1v15.1h-1zM1264.3 1067.9h2.5v15.1h-2.5zM1266.0 689.5h1.2v15.1h-1.2zM1266.0 719.8h1.2v15.1h-1.2zM1266.0 750.1h1.2v30.3h-1.2zM1266.0 825.7h1.2v15.1h-1.2zM1266.0 886.3h1.2v30.3h-1.2zM1267.2 629.0h1v15.1h-1zM1267.2 689.5h1v15.1h-1zM1267.2 780.3h1v15.1h-1zM1268.3 659.3h0.8v15.1h-0.8zM1268.3 931.7h0.8v30.3h-0.8zM1268.3 1067.9h0.8v15.1h-0.8zM1269.3 871.1h1v30.3h-1zM1269.3 977.1h1v15.1h-1zM1269.3 1022.5h1v30.3h-1zM1269.9 1007.3h1.5v15.1h-1.5zM1270.0 629.0h1.2v15.1h-1.2zM1270.0 825.7h1.2v15.1h-1.2zM1270.0 886.3h1.2v15.1h-1.2zM1270.0 931.7h1.2v15.1h-1.2zM1270.0 1022.5h1.2v30.3h-1.2zM1270.4 689.5h1v15.1h-1zM1270.4 992.2h1v15.1h-1zM1270.5 629.0h0.8v30.3h-0.8zM1270.5 780.3h0.8v15.1h-0.8zM1270.5 840.9h0.8v15.1h-0.8zM1270.5 901.4h0.8v15.1h-0.8zM1270.5 1052.7h0.8v30.3h-0.8zM1270.8 886.3h3v15.1h-3zM1270.8 916.5h3v15.1h-3zM1270.8 961.9h3v15.1h-3zM1270.8 992.2h3v15.1h-3zM1271.6 719.8h1v15.1h-1zM1271.6 765.2h1v15.1h-1zM1271.6 810.6h1v15.1h-1zM1271.6 856.0h1v15.1h-1zM1271.6 916.5h1v15.1h-1zM1271.6 1067.9h1v15.1h-1zM1271.9 629.0h0.6v15.1h-0.6zM1271.9 856.0h0.6v15.1h-0.6zM1271.9 977.1h0.6v15.1h-0.6zM1271.9 1022.5h0.6v15.1h-0.6zM1272.2 659.3h2v15.1h-2zM1272.2 871.1h2v30.3h-2zM1272.2 931.7h2v15.1h-2zM1272.2 1022.5h2v15.1h-2zM1272.7 734.9h1.2v15.1h-1.2zM1272.7 765.2h1.2v15.1h-1.2zM1272.7 825.7h1.2v15.1h-1.2zM1272.7 871.1h1.2v15.1h-1.2zM1272.7 916.5h1.2v15.1h-1.2zM1272.7 977.1h1.2v15.1h-1.2zM1272.7 1037.6h1.2v15.1h-1.2zM1272.7 1067.9h1.2v15.1h-1.2zM1272.9 750.1h1v15.1h-1zM1272.9 825.7h1v15.1h-1zM1272.9 871.1h1v15.1h-1zM1272.9 916.5h1v15.1h-1zM1272.9 961.9h1v15.1h-1zM1272.9 992.2h1v30.3h-1zM1272.9 1067.9h1v15.1h-1zM1273.5 629.0h1.2v15.1h-1.2zM1273.5 961.9h1.2v15.1h-1.2zM1273.5 1067.9h1.2v15.1h-1.2zM1273.6 629.0h1.2v15.1h-1.2zM1273.6 977.1h1.2v15.1h-1.2zM1273.6 1037.6h1.2v15.1h-1.2zM1273.9 644.1h1v15.1h-1zM1273.9 765.2h1v15.1h-1zM1273.9 825.7h1v15.1h-1zM1274.1 659.3h2v15.1h-2zM1274.6 719.8h1.5v15.1h-1.5zM1274.6 795.5h1.5v30.3h-1.5zM1274.6 977.1h1.5v45.4h-1.5zM1274.6 1052.7h1.5v15.1h-1.5zM1275.7 961.9h1v15.1h-1zM1276.2 689.5h1.2v15.1h-1.2zM1276.2 780.3h1.2v15.1h-1.2zM1276.2 810.6h1.2v15.1h-1.2zM1276.2 931.7h1.2v15.1h-1.2zM1276.2 977.1h1.2v15.1h-1.2zM1277.4 886.3h2v15.1h-2zM1277.4 946.8h2v15.1h-2zM1277.4 1052.7h2v15.1h-2zM1277.6 1007.3h1v15.1h-1zM1277.6 1052.7h1v15.1h-1zM1277.8 629.0h1.2v15.1h-1.2zM1277.8 734.9h1.2v30.3h-1.2zM1277.8 795.5h1.2v15.1h-1.2zM1277.8 886.3h1.2v15.1h-1.2zM1277.8 946.8h1.2v15.1h-1.2zM1277.8 1052.7h1.2v30.3h-1.2zM1279.9 750.1h3v15.1h-3zM1279.9 856.0h3v15.1h-3zM1279.9 901.4h3v15.1h-3zM1279.9 931.7h3v15.1h-3zM1279.9 961.9h3v30.3h-3zM1280.0 629.0h2v15.1h-2zM1280.0 719.8h2v15.1h-2zM1280.0 780.3h2v15.1h-2zM1280.0 810.6h2v30.3h-2zM1280.0 992.2h2v15.1h-2zM1280.2 734.9h1.5v15.1h-1.5zM1280.2 901.4h1.5v30.3h-1.5zM1280.2 961.9h1.5v15.1h-1.5zM1280.2 1052.7h1.5v15.1h-1.5zM1281.1 871.1h0.6v15.1h-0.6zM1281.1 931.7h0.6v15.1h-0.6zM1281.1 1022.5h0.6v15.1h-0.6zM1282.3 629.0h0.6v15.1h-0.6zM1282.3 674.4h0.6v15.1h-0.6zM1282.3 704.7h0.6v15.1h-0.6zM1282.3 765.2h0.6v15.1h-0.6zM1282.3 795.5h0.6v15.1h-0.6zM1282.3 825.7h0.6v15.1h-0.6zM1282.3 886.3h0.6v15.1h-0.6zM1282.3 1007.3h0.6v45.4h-0.6zM1282.3 1067.9h0.6v15.1h-0.6zM1283.0 644.1h1v60.5h-1zM1283.0 765.2h1v15.1h-1zM1283.0 795.5h1v15.1h-1zM1283.0 931.7h1v45.4h-1zM1283.0 992.2h1v45.4h-1zM1283.1 810.6h0.8v15.1h-0.8zM1283.8 659.3h2v15.1h-2zM1283.8 810.6h2v15.1h-2zM1283.8 916.5h2v15.1h-2zM1284.3 659.3h2.5v30.3h-2.5zM1284.3 1037.6h2.5v15.1h-2.5zM1284.8 644.1h0.6v15.1h-0.6zM1285.0 719.8h1.5v15.1h-1.5zM1285.0 795.5h1.5v15.1h-1.5zM1285.1 644.1h1v15.1h-1zM1285.1 931.7h1v15.1h-1zM1285.1 977.1h1v15.1h-1zM1286.8 659.3h1.2v15.1h-1.2zM1286.8 810.6h1.2v15.1h-1.2zM1286.8 886.3h1.2v15.1h-1.2zM1286.8 1007.3h1.2v15.1h-1.2zM1286.8 1052.7h1.2v15.1h-1.2zM1286.9 644.1h1v15.1h-1zM1286.9 765.2h1v15.1h-1zM1286.9 871.1h1v15.1h-1zM1286.9 1007.3h1v15.1h-1zM1287.1 734.9h2v15.1h-2zM1287.1 810.6h2v15.1h-2zM1287.1 871.1h2v45.4h-2zM1287.1 1007.3h2v15.1h-2zM1288.7 719.8h1v15.1h-1zM1288.7 750.1h1v15.1h-1zM1288.7 795.5h1v15.1h-1zM1288.7 1037.6h1v30.3h-1zM1289.0 795.5h1.2v15.1h-1.2zM1289.0 886.3h1.2v15.1h-1.2zM1289.1 795.5h3v15.1h-3zM1289.1 946.8h3v30.3h-3zM1289.6 931.7h0.8v15.1h-0.8zM1289.6 961.9h0.8v15.1h-0.8zM1290.5 871.1h1v15.1h-1zM1290.8 674.4h0.6v15.1h-0.6zM1290.8 856.0h0.6v15.1h-0.6zM1290.8 901.4h0.6v15.1h-0.6zM1290.8 931.7h0.6v15.1h-0.6zM1290.8 1052.7h0.6v15.1h-0.6zM1290.9 689.5h1v15.1h-1zM1290.9 765.2h1v15.1h-1zM1290.9 795.5h1v15.1h-1zM1290.9 825.7h1v15.1h-1zM1290.9 992.2h1v15.1h-1zM1291.2 674.4h0.6v15.1h-0.6zM1291.2 825.7h0.6v15.1h-0.6zM1291.8 992.2h1.2v15.1h-1.2zM1291.8 1022.5h1.2v15.1h-1.2zM1293.1 674.4h0.6v15.1h-0.6zM1293.1 840.9h0.6v30.3h-0.6zM1293.1 1007.3h0.6v30.3h-0.6zM1293.1 1052.7h0.6v15.1h-0.6zM1293.4 629.0h2.5v15.1h-2.5zM1293.4 659.3h3v15.1h-3zM1293.4 719.8h3v30.3h-3zM1293.4 810.6h2.5v15.1h-2.5zM1293.4 825.7h3v15.1h-3zM1293.4 901.4h3v15.1h-3zM1293.4 931.7h3v15.1h-3zM1293.4 992.2h2.5v15.1h-2.5zM1293.4 1007.3h3v15.1h-3zM1293.4 1052.7h3v15.1h-3zM1294.0 750.1h2.5v15.1h-2.5zM1294.0 961.9h2.5v15.1h-2.5zM1294.0 1007.3h2.5v15.1h-2.5zM1294.3 629.0h2.5v15.1h-2.5zM1294.3 780.3h2.5v15.1h-2.5zM1294.3 810.6h2.5v15.1h-2.5zM1294.3 901.4h2.5v15.1h-2.5zM1294.3 992.2h2.5v15.1h-2.5zM1294.9 659.3h1v15.1h-1zM1294.9 689.5h1v15.1h-1zM1294.9 871.1h1v15.1h-1zM1294.9 1007.3h1v15.1h-1zM1294.9 1037.6h1v15.1h-1zM1294.9 1067.9h1v15.1h-1zM1295.1 659.3h0.8v15.1h-0.8zM1295.1 901.4h0.8v15.1h-0.8zM1295.1 961.9h0.8v15.1h-0.8zM1295.1 1052.7h0.8v30.3h-0.8zM1295.4 629.0h1.5v15.1h-1.5zM1295.4 629.0h3v30.3h-3zM1295.4 674.4h3v15.1h-3zM1295.4 704.7h1.5v15.1h-1.5zM1295.4 780.3h3v15.1h-3zM1295.4 840.9h3v15.1h-3zM1295.4 886.3h1.5v15.1h-1.5zM1295.4 946.8h1.5v15.1h-1.5zM1295.4 1022.5h3v15.1h-3zM1295.5 689.5h1.5v45.4h-1.5zM1295.5 750.1h1.5v15.1h-1.5zM1295.5 780.3h1.5v15.1h-1.5zM1295.5 825.7h1.5v15.1h-1.5zM1295.5 886.3h1.5v30.3h-1.5zM1295.5 1007.3h1.5v15.1h-1.5zM1296.4 901.4h1.5v30.3h-1.5zM1296.4 992.2h1.5v15.1h-1.5zM1296.4 1037.6h1.5v15.1h-1.5zM1296.5 719.8h1v30.3h-1zM1296.5 780.3h1v15.1h-1zM1296.5 825.7h1v15.1h-1zM1296.5 916.5h1v15.1h-1zM1296.5 961.9h1v15.1h-1zM1296.5 992.2h1v15.1h-1zM1298.8 659.3h1.5v15.1h-1.5zM1298.8 765.2h1.5v15.1h-1.5zM1298.8 795.5h1.5v30.3h-1.5zM1298.8 901.4h1.5v15.1h-1.5zM1299.0 734.9h0.8v30.3h-0.8zM1299.0 780.3h0.8v15.1h-0.8zM1299.0 901.4h0.8v15.1h-0.8zM1299.0 946.8h0.8v15.1h-0.8zM1299.0 992.2h0.8v15.1h-0.8zM1299.0 1052.7h0.8v15.1h-0.8zM1299.3 659.3h1.5v15.1h-1.5zM1299.3 765.2h1.5v30.3h-1.5zM1299.3 825.7h1.5v15.1h-1.5zM1299.3 886.3h1.5v30.3h-1.5zM1299.3 931.7h1.5v15.1h-1.5zM1299.3 1037.6h1.5v15.1h-1.5zM1299.5 810.6h2v15.1h-2zM1299.5 871.1h2v30.3h-2zM1299.5 916.5h2v15.1h-2zM1299.5 946.8h2v30.3h-2zM1299.5 1007.3h2v15.1h-2zM1299.5 1052.7h2v15.1h-2zM1299.7 644.1h0.8v15.1h-0.8zM1299.7 780.3h0.8v15.1h-0.8zM1299.7 810.6h0.8v30.3h-0.8zM1299.7 856.0h0.8v15.1h-0.8zM1300.3 659.3h1.2v15.1h-1.2zM1300.3 780.3h1.2v15.1h-1.2zM1300.3 825.7h1.2v15.1h-1.2zM1300.3 856.0h1.2v15.1h-1.2zM1300.3 977.1h1.2v15.1h-1.2zM1300.3 1007.3h1.2v15.1h-1.2zM1300.3 1037.6h1.2v15.1h-1.2zM1300.3 1067.9h1.2v15.1h-1.2zM1300.6 659.3h1v15.1h-1zM1300.6 825.7h1v15.1h-1zM1300.6 1052.7h1v15.1h-1zM1300.9 659.3h1v15.1h-1zM1300.9 689.5h1v15.1h-1zM1300.9 780.3h1v15.1h-1zM1300.9 856.0h1v15.1h-1zM1300.9 931.7h1v15.1h-1zM1300.9 961.9h1v15.1h-1zM1301.1 659.3h2.5v15.1h-2.5zM1301.1 750.1h2.5v30.3h-2.5zM1301.1 795.5h2.5v30.3h-2.5zM1301.1 840.9h2.5v15.1h-2.5zM1301.1 871.1h2.5v15.1h-2.5zM1301.1 946.8h2.5v15.1h-2.5zM1301.1 992.2h2.5v45.4h-2.5zM1301.5 931.7h1.5v15.1h-1.5zM1301.5 992.2h1.5v15.1h-1.5zM1303.8 644.1h1.5v15.1h-1.5zM1303.8 689.5h1.5v15.1h-1.5zM1303.8 719.8h1.5v15.1h-1.5zM1303.8 780.3h1.5v60.5h-1.5zM1303.8 871.1h1.5v30.3h-1.5zM1303.8 931.7h1.5v15.1h-1.5zM1303.8 961.9h1.5v15.1h-1.5zM1304.6 674.4h2v30.3h-2zM1304.6 734.9h2v45.4h-2zM1304.6 856.0h2v15.1h-2zM1304.6 886.3h2v30.3h-2zM1304.6 961.9h2v30.3h-2zM1304.6 1067.9h2v15.1h-2zM1304.9 659.3h0.6v15.1h-0.6zM1304.9 810.6h0.6v15.1h-0.6zM1306.1 674.4h0.6v15.1h-0.6zM1306.1 765.2h0.6v15.1h-0.6zM1306.1 810.6h0.6v15.1h-0.6zM1306.1 856.0h0.6v60.5h-0.6zM1306.1 1052.7h0.6v15.1h-0.6zM1306.8 750.1h3v15.1h-3zM1306.8 795.5h3v15.1h-3zM1306.8 886.3h3v15.1h-3zM1306.8 916.5h3v15.1h-3zM1306.8 1052.7h3v15.1h-3zM1307.2 659.3h1.5v15.1h-1.5zM1307.5 644.1h3v15.1h-3zM1307.5 719.8h3v15.1h-3zM1307.5 825.7h3v15.1h-3zM1307.5 871.1h3v30.3h-3zM1307.5 961.9h3v15.1h-3zM1307.5 992.2h3v15.1h-3zM1307.5 1037.6h3v15.1h-3zM1307.7 659.3h2v15.1h-2zM1307.7 689.5h2v15.1h-2zM1307.7 734.9h2v15.1h-2zM1307.7 810.6h2v30.3h-2zM1307.7 871.1h2v45.4h-2zM1307.7 931.7h2v30.3h-2zM1307.7 977.1h2v15.1h-2zM1307.9 734.9h1v15.1h-1zM1307.9 780.3h1v15.1h-1zM1307.9 825.7h1v15.1h-1zM1307.9 856.0h1v15.1h-1zM1307.9 946.8h1v30.3h-1zM1309.2 629.0h0.6v15.1h-0.6zM1309.9 629.0h1.5v15.1h-1.5zM1309.9 704.7h1.5v15.1h-1.5zM1309.9 750.1h1.5v15.1h-1.5zM1309.9 780.3h1.5v15.1h-1.5zM1309.9 886.3h1.5v30.3h-1.5zM1309.9 1037.6h1.5v15.1h-1.5zM1310.4 795.5h1.5v15.1h-1.5zM1310.4 840.9h1.5v15.1h-1.5zM1310.6 674.4h2.5v15.1h-2.5zM1310.6 719.8h2.5v15.1h-2.5zM1310.6 750.1h2.5v15.1h-2.5zM1310.6 795.5h2.5v30.3h-2.5zM1310.6 840.9h2.5v15.1h-2.5zM1310.6 871.1h2.5v15.1h-2.5zM1310.6 931.7h2.5v15.1h-2.5zM1311.7 629.0h0.6v15.1h-0.6zM1311.8 689.5h0.6v30.3h-0.6zM1311.8 825.7h0.6v15.1h-0.6zM1311.8 901.4h0.6v15.1h-0.6zM1311.8 992.2h0.6v15.1h-0.6zM1312.1 629.0h2.5v15.1h-2.5zM1312.1 674.4h2.5v15.1h-2.5zM1312.1 750.1h2.5v15.1h-2.5zM1312.1 871.1h2.5v15.1h-2.5zM1312.1 931.7h2.5v15.1h-2.5zM1312.1 1067.9h2.5v15.1h-2.5zM1312.2 704.7h1v15.1h-1zM1313.9 629.0h1.2v45.4h-1.2zM1313.9 719.8h1.2v15.1h-1.2zM1313.9 765.2h1.2v15.1h-1.2zM1313.9 856.0h1.2v30.3h-1.2zM1313.9 901.4h1.2v15.1h-1.2zM1313.9 1007.3h1.2v15.1h-1.2zM1313.9 1037.6h1.2v15.1h-1.2zM1315.3 810.6h0.6v15.1h-0.6zM1315.3 961.9h0.6v15.1h-0.6zM1316.1 629.0h1v15.1h-1zM1316.1 689.5h1v15.1h-1zM1316.1 810.6h1v15.1h-1zM1316.1 840.9h1v15.1h-1zM1316.1 916.5h1v15.1h-1zM1316.1 1007.3h1v15.1h-1zM1316.1 1067.9h1v15.1h-1zM1316.5 629.0h1.5v15.1h-1.5zM1316.5 719.8h1.5v15.1h-1.5zM1316.5 734.9h1v15.1h-1zM1316.5 780.3h1.5v15.1h-1.5zM1316.5 810.6h1.5v60.5h-1.5zM1316.5 871.1h1v15.1h-1zM1316.5 992.2h1.5v15.1h-1.5zM1316.5 1037.6h1.2v15.1h-1.2zM1317.0 674.4h0.8v15.1h-0.8zM1317.0 901.4h0.8v15.1h-0.8zM1317.8 765.2h1v15.1h-1zM1317.8 825.7h1v15.1h-1zM1317.8 931.7h1v15.1h-1zM1317.8 1007.3h1v15.1h-1zM1317.8 1067.9h1v15.1h-1zM1317.9 644.1h2.5v15.1h-2.5zM1317.9 719.8h2.5v15.1h-2.5zM1317.9 750.1h2.5v15.1h-2.5zM1317.9 780.3h2.5v15.1h-2.5zM1317.9 825.7h2.5v15.1h-2.5zM1317.9 977.1h2.5v15.1h-2.5zM1318.8 629.0h2.5v15.1h-2.5zM1318.8 719.8h2.5v30.3h-2.5zM1318.8 886.3h2.5v15.1h-2.5zM1318.8 931.7h2.5v15.1h-2.5zM1318.8 1022.5h2.5v15.1h-2.5zM1318.8 1067.9h2.5v15.1h-2.5zM1318.9 704.7h0.6v15.1h-0.6zM1318.9 734.9h0.8v15.1h-0.8zM1318.9 765.2h0.8v15.1h-0.8zM1318.9 901.4h0.8v15.1h-0.8zM1318.9 931.7h0.6v15.1h-0.6zM1319.1 1007.3h1.2v15.1h-1.2zM1319.5 674.4h1.2v30.3h-1.2zM1319.5 795.5h1.2v15.1h-1.2zM1319.5 961.9h1.2v15.1h-1.2zM1319.5 1007.3h1.2v15.1h-1.2zM1319.9 901.4h2v15.1h-2zM1320.5 659.3h2.5v15.1h-2.5zM1320.5 704.7h2.5v15.1h-2.5zM1320.5 810.6h2.5v15.1h-2.5zM1320.5 840.9h2.5v30.3h-2.5zM1320.5 886.3h2.5v15.1h-2.5zM1320.5 946.8h2.5v45.4h-2.5zM1320.5 1007.3h2.5v15.1h-2.5zM1320.5 1052.7h2.5v15.1h-2.5zM1321.0 1007.3h1v15.1h-1zM1321.2 629.0h2.5v15.1h-2.5zM1321.2 659.3h2.5v15.1h-2.5zM1321.2 689.5h2.5v15.1h-2.5zM1321.2 795.5h2.5v30.3h-2.5zM1321.2 886.3h2.5v15.1h-2.5zM1321.2 1052.7h2.5v15.1h-2.5zM1321.3 629.0h1.2v15.1h-1.2zM1321.3 719.8h1.2v45.4h-1.2zM1321.3 780.3h1.2v15.1h-1.2zM1321.3 856.0h1.2v45.4h-1.2zM1321.3 931.7h1.2v60.5h-1.2zM1321.3 1022.5h1.2v15.1h-1.2zM1321.8 901.4h2v15.1h-2zM1323.0 644.1h1v15.1h-1zM1323.0 674.4h1v15.1h-1zM1323.0 704.7h1v30.3h-1zM1323.0 750.1h1v15.1h-1zM1323.0 931.7h1v15.1h-1zM1323.0 961.9h1v15.1h-1zM1323.0 1022.5h1v30.3h-1zM1323.2 659.3h0.8v15.1h-0.8zM1323.2 750.1h0.8v15.1h-0.8zM1323.2 810.6h0.8v15.1h-0.8zM1323.2 840.9h0.8v15.1h-0.8zM1323.2 886.3h0.8v15.1h-0.8zM1323.2 931.7h0.8v15.1h-0.8zM1323.2 1022.5h0.8v45.4h-0.8zM1323.3 629.0h1.2v15.1h-1.2zM1323.3 659.3h1.2v15.1h-1.2zM1323.3 719.8h1.2v15.1h-1.2zM1323.3 825.7h1.2v15.1h-1.2zM1323.3 856.0h1.2v15.1h-1.2zM1323.3 992.2h1.2v15.1h-1.2zM1323.3 1022.5h1.2v15.1h-1.2zM1323.3 1052.7h1.2v15.1h-1.2zM1324.6 644.1h1v15.1h-1zM1324.6 901.4h1v15.1h-1zM1324.6 931.7h1v15.1h-1zM1324.6 977.1h1v15.1h-1zM1324.6 1052.7h1v15.1h-1zM1326.2 750.1h1.2v30.3h-1.2zM1326.2 765.2h1.2v15.1h-1.2zM1326.2 810.6h1.2v15.1h-1.2zM1326.2 916.5h1.2v30.3h-1.2zM1326.2 1007.3h1.2v15.1h-1.2zM1326.4 840.9h1v15.1h-1zM1326.4 916.5h1v15.1h-1zM1326.4 1052.7h1v15.1h-1zM1327.9 629.0h0.8v15.1h-0.8z"/>
<path fill="#f4a582" fill-opacity="0.45" d="M582.4 977.1h3v15.1h-3zM585.9 871.1h1.2v15.1h-1.2zM592 810.6h1v15.1h-1zM592 901.4h1v15.1h-1zM595 674.4h1.2000000000000455v15.1h-1.2000000000000455zM624.2 1007.3h2.5v15.1h-2.5zM670.0 886.3h0.8v15.1h-0.8zM684.5 916.5h1.5v15.1h-1.5zM695.0 644.1h2v15.1h-2zM706.6 644.1h1v15.1h-1zM708.2 961.9h2.5v15.1h-2.5zM708.2 1007.3h2v15.1h-2zM712.0 674.4h1.5v15.1h-1.5zM714.2 750.1h1v15.1h-1zM714.2 856.0h1v15.1h-1zM764.1 1022.5h1v15.1h-1zM768.7 1007.3h1v15.1h-1zM772.2 689.5h0.6v15.1h-0.6zM772.5 961.9h2.0v15.1h-2.0zM778.6 704.7h0.8v15.1h-0.8zM778.6 856.0h0.8v15.1h-0.8zM778.6 1052.7h0.8v15.1h-0.8zM793.8 992.2h2.5v15.1h-2.5zM795.4 1022.5h3v15.1h-3zM844.5 644.1h3v15.1h-3zM851.5 780.3h1v15.1h-1zM857.0 901.4h2.5v15.1h-2.5zM894.3 1022.5h1v15.1h-1zM895.2 644.1h0.8v15.1h-0.8zM895.2 825.7h0.8v15.1h-0.8zM901.5 856.0h1.2v15.1h-1.2zM902.9 674.4h1v15.1h-1zM903.5 674.4h0.8v15.1h-0.8zM904.8 629.0h2.5v15.1h-2.5zM905.5 674.4h1.5v15.1h-1.5zM905.5 750.1h1.5v15.1h-1.5zM905.6 674.4h1.2v15.1h-1.2zM909.6 840.9h0.8v15.1h-0.8zM913.4 750.1h1v15.1h-1zM916.8 674.4h1v15.1h-1zM982.8 1007.3h0.6v15.1h-0.6zM1000.0 674.4h0.8v15.1h-0.8zM1024.1 689.5h2.5v15.1h-2.5zM1024.3 901.4h1v15.1h-1zM1035.3 765.2h1v15.1h-1zM1037.1 704.7h1.2v15.1h-1.2zM1037.5 871.1h1.5v15.1h-1.5zM1080.6 1067.9h1.2v15.1h-1.2zM1087.1 931.7h2.5v15.1h-2.5zM1088.8 704.7h2.5v15.1h-2.5zM1143.5 734.9h2v15.1h-2zM1162.6 840.9h3v15.1h-3zM1162.6 961.9h3v15.1h-3zM1163.2 644.1h2.5v15.1h-2.5zM1175.7 961.9h3v15.1h-3zM1191.7 674.4h0.8v15.1h-0.8zM1200.7 795.5h1v15.1h-1zM1225.8 750.1h2.5v15.1h-2.5zM1225.8 901.4h2.5v15.1h-2.5zM1226.8 1037.6h2.5v15.1h-2.5zM1228.3 1022.5h1v15.1h-1zM1233.0 810.6h0.6v15.1h-0.6zM1250.7 795.5h2v15.1h-2zM1266.0 1052.7h1.2v15.1h-1.2zM1268.3 1037.6h0.8v15.1h-0.8zM1270.0 704.7h1.2v15.1h-1.2zM1270.0 780.3h1.2v15.1h-1.2zM1270.8 644.1h3v15.1h-3zM1270.8 856.0h3v15.1h-3zM1271.9 840.9h0.6v15.1h-0.6zM1272.2 946.8h2v15.1h-2zM1274.6 1067.9h1.5v15.1h-1.5zM1276.2 825.7h1.2v15.1h-1.2zM1277.4 765.2h2v15.1h-2zM1282.3 961.9h0.6v15.1h-0.6zM1284.3 1022.5h2.5v15.1h-2.5zM1288.7 856.0h1v15.1h-1zM1290.8 765.2h0.6v15.1h-0.6zM1290.8 1007.3h0.6v15.1h-0.6zM1293.4 750.1h3v15.1h-3zM1295.4 644.1h1.5v15.1h-1.5zM1295.4 719.8h1.5v15.1h-1.5zM1295.4 765.2h3v15.1h-3zM1296.4 977.1h1.5v15.1h-1.5zM1298.8 931.7h1.5v15.1h-1.5zM1299.5 780.3h2v15.1h-2zM1299.7 931.7h0.8v15.1h-0.8zM1304.6 719.8h2v15.1h-2zM1306.8 689.5h3v15.1h-3zM1306.8 901.4h3v15.1h-3zM1306.8 977.1h3v15.1h-3zM1310.6 1067.9h2.5v15.1h-2.5zM1313.9 810.6h1.2v15.1h-1.2zM1315.3 916.5h0.6v15.1h-0.6zM1317.8 644.1h1v15.1h-1zM1318.8 704.7h2.5v15.1h-2.5zM1318.8 871.1h2.5v15.1h-2.5zM1318.9 856.0h0.6v15.1h-0.6zM1318.9 977.1h0.6v15.1h-0.6zM1321.2 916.5h2.5v15.1h-2.5zM1323.0 629.0h1v15.1h-1zM1323.0 977.1h1v15.1h-1zM1326.2 734.9h1.2v15.1h-1.2zM1326.2 931.7h1.2v15.1h-1.2zM1326.2 1007.3h1.2v15.1h-1.2zM1327.9 689.5h0.8v15.1h-0.8zM1327.9 719.8h0.8v15.1h-0.8z"/>
<path fill="#d6604d" fill-opacity="0.25" d="M557.0 886.3h0.8v15.1h-0.8zM557.0 1067.9h0.8v15.1h-0.8zM629.1 840.9h1.5v15.1h-1.5zM633.1 795.5h0.8v15.1h-0.8zM636.3 719.8h1v15.1h-1zM638.0 886.3h0.8v15.1h-0.8zM647.3 825.7h1.5v15.1h-1.5zM656.5 931.7h1v15.1h-1zM672.8 931.7h2v15.1h-2zM678.8 780.3h2v15.1h-2zM699.1 795.5h1.2v15.1h-1.2zM700.5 659.3h0.6v15.1h-0.6zM708.2 825.7h2.5v15.1h-2.5zM712.3 659.3h1v15.1h-1zM714.2 931.7h1v15.1h-1zM718.9 704.7h1.5v15.1h-1.5zM729.4 1022.5h1.2v15.1h-1.2zM732.7 765.2h3v15.1h-3zM749.7 644.1h1v15.1h-1zM764.1 689.5h1v15.1h-1zM776.4 961.9h0.6v15.1h-0.6zM793.0 1007.3h3v15.1h-3zM844.5 901.4h3v15.1h-3zM847.7 810.6h2v15.1h-2zM848.1 1037.6h0.8v15.1h-0.8zM849.0 840.9h2v15.1h-2zM866.0 765.2h2v15.1h-2zM871.9 1067.9h0.6v15.1h-0.6zM885.0 886.3h3v15.1h-3zM896.9 901.4h1.5v15.1h-1.5zM900.5 1037.6h1.5v15.1h-1.5zM906.4 810.6h1v15.1h-1zM913.7 1052.7h0.6v15.1h-0.6zM969.0 901.4h1.2v15.1h-1.2zM983.6 750.1h3v15.1h-3zM985.2 977.1h2.5v15.1h-2.5zM992.9 977.1h1v15.1h-1zM1014.2 946.8h0.8v15.1h-0.8zM1048.9 1007.3h1.2v15.1h-1.2zM1081.6 810.6h0.6v15.1h-0.6zM1081.6 931.7h0.6v15.1h-0.6zM1109.9 916.5h2v15.1h-2zM1173.4 825.7h2v15.1h-2zM1176.1 750.1h1.2v15.1h-1.2zM1177.7 1007.3h1.2v15.1h-1.2zM1203.6 1007.3h0.8v15.1h-0.8zM1214.1 825.7h1.2v15.1h-1.2zM1215.6 901.4h3v15.1h-3zM1236.4 886.3h2v15.1h-2zM1245.1 1007.3h0.8v15.1h-0.8zM1260.3 1022.5h1.5v15.1h-1.5zM1269.3 704.7h1v15.1h-1zM1272.7 674.4h1.2v15.1h-1.2zM1273.5 795.5h1.2v15.1h-1.2zM1283.8 780.3h2v15.1h-2zM1285.1 871.1h1v15.1h-1zM1290.8 780.3h0.6v15.1h-0.6zM1293.4 871.1h2.5v15.1h-2.5zM1295.4 946.8h3v15.1h-3zM1299.7 765.2h0.8v15.1h-0.8zM1301.1 644.1h2.5v15.1h-2.5zM1301.5 825.7h1.5v15.1h-1.5zM1306.1 825.7h0.6v15.1h-0.6zM1307.5 931.7h3v15.1h-3z"/>
<path fill="#d6604d" fill-opacity="0.45" d="M566.8 629.0h1v15.1h-1zM574.6 674.4h0.8v15.1h-0.8zM575.9 1037.6h2.5v15.1h-2.5zM582.4 689.5h3v15.1h-3zM583.8 765.2h2v15.1h-2zM585.9 644.1h1.2v15.1h-1.2zM629.1 871.1h1.5v15.1h-1.5zM639.6 946.8h1.5v15.1h-1.5zM659.4 992.2h2.5v15.1h-2.5zM670.5 1037.6h1v15.1h-1zM685.5 1007.3h1v15.1h-1zM690.0 689.5h3v15.1h-3zM692.8 780.3h0.8v15.1h-0.8zM695.9 795.5h1.5v15.1h-1.5zM699.1 992.2h1.2v15.1h-1.2zM701.9 629.0h3v15.1h-3zM710.2 931.7h1.5v15.1h-1.5zM710.5 659.3h1v15.1h-1zM712.3 1067.9h1v15.1h-1zM713.5 1007.3h0.6v15.1h-0.6zM718.5 810.6h0.8v15.1h-0.8zM718.9 856.0h1.5v30.3h-1.5zM724.1 825.7h1v15.1h-1zM724.2 1037.6h3v15.1h-3zM729.1 840.9h0.6v15.1h-0.6zM734.4 810.6h1v15.1h-1zM735.7 629.0h1v15.1h-1zM736.5 946.8h3.0v15.1h-3.0zM744.6 856.0h3v15.1h-3zM753.0 1007.3h1v15.1h-1zM763.0 825.7h3v15.1h-3zM763.9 704.7h2.5v15.1h-2.5zM763.9 1037.6h2.5v15.1h-2.5zM764.1 916.5h1v15.1h-1zM768.7 674.4h1v15.1h-1zM776.4 719.8h0.6v15.1h-0.6zM776.4 856.0h0.6v15.1h-0.6zM778.6 901.4h0.8v15.1h-0.8zM797.0 1022.5h0.8v15.1h-0.8zM804.1 1007.3h0.6v15.1h-0.6zM808.7 977.1h1.5v15.1h-1.5zM811.1 886.3h1v15.1h-1zM860.0 1007.3h1.2v15.1h-1.2zM864.7 629.0h3v15.1h-3zM868.8 734.9h1.2v15.1h-1.2zM880 1067.9h1.5v15.1h-1.5zM894.5 734.9h2v15.1h-2zM894.5 977.1h2v15.1h-2zM903.5 689.5h0.8v15.1h-0.8zM904.7 1037.6h2.5v15.1h-2.5zM904.8 795.5h2.5v15.1h-2.5zM905.4 961.9h3v15.1h-3zM905.6 1037.6h1.2v15.1h-1.2zM910.9 840.9h2v15.1h-2zM910.9 946.8h2v15.1h-2zM913.4 1022.5h1v15.1h-1zM925.7 719.8h1.5v15.1h-1.5zM985.9 1007.3h1.2v15.1h-1.2zM1007.3 946.8h1.5v15.1h-1.5zM1008.8 689.5h1.5v15.1h-1.5zM1008.8 795.5h0.6v15.1h-0.6zM1013.8 931.7h1.2v15.1h-1.2zM1037.5 1052.7h1.5v15.1h-1.5zM1040.5 916.5h2.5v15.1h-2.5zM1041.1 916.5h2.5v15.1h-2.5zM1057.4 780.3h2.5v15.1h-2.5zM1084.7 810.6h0.8v15.1h-0.8zM1084.7 856.0h0.8v15.1h-0.8zM1086.9 886.3h2.5v15.1h-2.5zM1087.1 825.7h2.5v15.1h-2.5zM1117.4 689.5h1v15.1h-1zM1155.5 629.0h1.5v15.1h-1.5zM1162.6 644.1h3v15.1h-3zM1162.6 765.2h3v15.1h-3zM1172.3 916.5h2.5v15.1h-2.5zM1173.4 689.5h2v15.1h-2zM1173.4 1037.6h2v15.1h-2zM1174.1 644.1h1.2v15.1h-1.2zM1175.3 1007.3h2.5v15.1h-2.5zM1191.7 1037.6h0.8v15.1h-0.8zM1219.5 644.1h2v15.1h-2zM1223.1 704.7h3v15.1h-3zM1226.1 1052.7h0.6v15.1h-0.6zM1226.8 674.4h2.5v15.1h-2.5zM1226.8 810.6h2.5v15.1h-2.5zM1226.8 946.8h2.5v15.1h-2.5zM1227.2 1022.5h2.5v15.1h-2.5zM1230.1 734.9h0.6v15.1h-0.6zM1233.0 750.1h0.6v15.1h-0.6zM1233.9 977.1h3v15.1h-3zM1251.0 644.1h1.2v15.1h-1.2zM1259.2 886.3h1.5v15.1h-1.5zM1264.3 961.9h1v15.1h-1zM1266.0 992.2h1.2v15.1h-1.2zM1270.5 734.9h0.8v15.1h-0.8zM1272.2 704.7h2v15.1h-2zM1272.2 825.7h2v15.1h-2zM1272.7 629.0h1.2v15.1h-1.2zM1272.7 886.3h1.2v15.1h-1.2zM1273.5 780.3h1.2v15.1h-1.2zM1277.6 946.8h1v15.1h-1zM1277.8 901.4h1.2v15.1h-1.2zM1279.9 1052.7h3v15.1h-3zM1281.1 689.5h0.6v15.1h-0.6zM1285.0 674.4h1.5v15.1h-1.5zM1285.1 795.5h1v15.1h-1zM1286.8 780.3h1.2v15.1h-1.2zM1286.8 840.9h1.2v15.1h-1.2zM1287.1 765.2h2v15.1h-2zM1290.8 704.7h0.6v15.1h-0.6zM1290.8 1022.5h0.6v15.1h-0.6zM1293.1 795.5h0.6v15.1h-0.6zM1293.4 1037.6h3v15.1h-3zM1294.3 1007.3h2.5v15.1h-2.5zM1295.1 886.3h0.8v15.1h-0.8zM1295.4 871.1h1.5v15.1h-1.5zM1295.4 992.2h1.5v15.1h-1.5zM1296.4 659.3h1.5v15.1h-1.5zM1298.8 644.1h1.5v15.1h-1.5zM1299.0 644.1h0.8v15.1h-0.8zM1299.3 644.1h1.5v15.1h-1.5zM1299.3 734.9h1.5v15.1h-1.5zM1306.1 931.7h0.6v15.1h-0.6zM1306.1 977.1h0.6v15.1h-0.6zM1309.2 765.2h0.6v15.1h-0.6zM1309.2 810.6h0.6v15.1h-0.6zM1309.9 961.9h1.5v15.1h-1.5zM1309.9 1007.3h1.5v15.1h-1.5zM1309.9 1052.7h1.5v15.1h-1.5zM1310.4 1022.5h1.5v15.1h-1.5zM1312.1 765.2h2.5v15.1h-2.5zM1313.9 825.7h1.2v15.1h-1.2zM1315.6 810.6h1.5v15.1h-1.5zM1316.1 780.3h1v15.1h-1zM1316.1 856.0h1v15.1h-1zM1316.5 795.5h1v15.1h-1zM1316.5 946.8h1v15.1h-1zM1316.5 1052.7h1v15.1h-1zM1319.5 1022.5h1.2v15.1h-1.2zM1321.0 886.3h1v15.1h-1zM1321.2 840.9h2.5v15.1h-2.5zM1321.2 901.4h2.5v15.1h-2.5zM1321.2 1067.9h2.5v15.1h-2.5zM1323.0 871.1h1v15.1h-1zM1323.2 916.5h0.8v15.1h-0.8zM1326.2 840.9h1.2v15.1h-1.2zM1326.2 886.3h1.2v15.1h-1.2z"/>
<path fill="#f4a582" fill-opacity="0.25" d="M570.9 871.1h1v15.1h-1zM570.9 992.2h1v15.1h-1zM585.0 871.1h0.6v15.1h-0.6zM630.5 901.4h1.5v15.1h-1.5zM646.5 719.8h1v15.1h-1zM659.4 825.7h2.5v15.1h-2.5zM668.5 674.4h1.5v15.1h-1.5zM678.7 977.1h1v15.1h-1zM678.8 825.7h2v15.1h-2zM687.4 1007.3h1v15.1h-1zM698.3 1037.6h2v15.1h-2zM699.2 674.4h1.5v15.1h-1.5zM700.2 765.2h2.5v15.1h-2.5zM706.0 810.6h1v15.1h-1zM707.8 780.3h1.5v15.1h-1.5zM721.9 961.9h2v15.1h-2zM732.8 1007.3h1.5v15.1h-1.5zM734.4 946.8h1v15.1h-1zM742.9 750.1h1.2v15.1h-1.2zM749.7 795.5h1v15.1h-1zM760.5 795.5h1.5v15.1h-1.5zM766.6 1037.6h0.8v15.1h-0.8zM810.6 977.1h3v15.1h-3zM840.0 659.3h0.6v15.1h-0.6zM843.2 629.0h2.5v15.1h-2.5zM876.3 1022.5h0.6v15.1h-0.6zM894.5 825.7h2v15.1h-2zM897.2 977.1h2.5v15.1h-2.5zM903.5 1037.6h0.8v15.1h-0.8zM906.0 840.9h1.5v15.1h-1.5zM906.5 629.0h1v15.1h-1zM910.9 931.7h2v15.1h-2zM916.8 977.1h1v15.1h-1zM916.8 1067.9h1v15.1h-1zM982.8 719.8h0.6v15.1h-0.6zM992.9 1007.3h1v15.1h-1zM1013.8 886.3h1.2v30.3h-1.2zM1014.2 916.5h0.8v15.1h-0.8zM1019.0 780.3h0.8v15.1h-0.8zM1024.1 780.3h2.5v15.1h-2.5zM1041.2 946.8h0.8v15.1h-0.8zM1107.5 719.8h1v15.1h-1zM1157.2 1022.5h0.6v15.1h-0.6zM1162.1 1037.6h1v15.1h-1zM1173.4 840.9h2v15.1h-2zM1200.7 1037.6h1v15.1h-1zM1204.8 946.8h3v15.1h-3zM1264.3 795.5h1v15.1h-1zM1290.9 629.0h1v15.1h-1zM1300.6 901.4h2v15.1h-2zM1306.8 992.2h3v15.1h-3z"/>
<path fill="#7a0a22" fill-opacity="0.7" d="M574.6 765.2h0.8v15.1h-0.8zM574.6 795.5h0.8v15.1h-0.8zM574.6 901.4h0.8v15.1h-0.8zM574.6 1022.5h0.8v15.1h-0.8zM575.9 780.3h2.5v15.1h-2.5zM580.6 780.3h1v15.1h-1zM580.6 901.4h1v15.1h-1zM580.6 992.2h1v30.3h-1zM582.4 629.0h3v15.1h-3zM582.4 734.9h3v15.1h-3zM582.4 765.2h3v15.1h-3zM582.4 840.9h3v15.1h-3zM583.6 659.3h1v15.1h-1zM583.6 810.6h1v15.1h-1zM583.6 931.7h1v15.1h-1zM583.6 1037.6h1v15.1h-1zM583.8 629.0h2v15.1h-2zM583.8 916.5h2v15.1h-2zM583.8 992.2h2v15.1h-2zM585.0 674.4h0.6v15.1h-0.6zM585.9 659.3h1.2v15.1h-1.2zM585.9 719.8h1.2v15.1h-1.2zM585.9 765.2h1.2v15.1h-1.2zM585.9 992.2h1.2v15.1h-1.2zM592 719.8h1v15.1h-1zM592 750.1h1v15.1h-1zM592 961.9h1v15.1h-1zM592 992.2h1v15.1h-1zM595 765.2h1.2000000000000455v30.3h-1.2000000000000455zM595 856.0h1.2000000000000455v15.1h-1.2000000000000455zM595 992.2h1.2000000000000455v15.1h-1.2000000000000455zM595 1052.7h1.2000000000000455v15.1h-1.2000000000000455zM632.4 644.1h3v15.1h-3zM652.9 659.3h0.6v15.1h-0.6zM659.4 765.2h2.5v15.1h-2.5zM663.6 810.6h1.2v15.1h-1.2zM667.5 1037.6h0.6v15.1h-0.6zM668.4 1037.6h0.6v15.1h-0.6zM669.3 825.7h0.8v15.1h-0.8zM673.3 1037.6h0.6v15.1h-0.6zM674.9 961.9h1.5v15.1h-1.5zM684.9 704.7h1.5v15.1h-1.5zM684.9 1037.6h1.5v15.1h-1.5zM685.4 1037.6h0.6v15.1h-0.6zM686.4 1037.6h1.2v15.1h-1.2zM689.7 644.1h0.6v15.1h-0.6zM689.7 810.6h0.6v30.3h-0.6zM690.0 644.1h3v15.1h-3zM690.0 795.5h3v15.1h-3zM690.0 840.9h3v30.3h-3zM690.0 886.3h3v15.1h-3zM692.8 810.6h0.8v15.1h-0.8zM692.8 886.3h0.8v15.1h-0.8zM693.0 629.0h3v15.1h-3zM693.0 840.9h3v15.1h-3zM693.2 1022.5h1v30.3h-1zM698.3 825.7h2v15.1h-2zM699.1 674.4h1.2v15.1h-1.2zM699.1 856.0h1.2v15.1h-1.2zM699.1 1022.5h1.2v15.1h-1.2zM699.2 765.2h1.5v15.1h-1.5zM699.2 840.9h1.5v15.1h-1.5zM700.2 810.6h2.5v15.1h-2.5zM700.2 961.9h2.5v15.1h-2.5zM700.5 629.0h1v15.1h-1zM700.5 1022.5h1v15.1h-1zM701.9 992.2h3v15.1h-3zM703.7 795.5h3v30.3h-3zM703.7 916.5h3v15.1h-3zM704.5 856.0h3v15.1h-3zM706.0 629.0h1v15.1h-1zM706.0 689.5h1v15.1h-1zM706.0 795.5h1v15.1h-1zM706.0 856.0h1v15.1h-1zM706.6 1022.5h1v15.1h-1zM707.8 689.5h1.5v15.1h-1.5zM707.8 825.7h1.5v15.1h-1.5zM707.8 856.0h1.5v15.1h-1.5zM707.8 1022.5h1.5v15.1h-1.5zM708.9 1037.6h1v15.1h-1zM710.2 750.1h1.5v15.1h-1.5zM710.2 886.3h1.5v15.1h-1.5zM712.0 629.0h1.5v15.1h-1.5zM712.0 734.9h1.5v15.1h-1.5zM712.0 856.0h1.5v15.1h-1.5zM712.0 901.4h1.5v30.3h-1.5zM712.3 644.1h1v15.1h-1zM712.3 689.5h1v30.3h-1zM712.3 734.9h1v15.1h-1zM712.3 765.2h1v15.1h-1zM712.3 795.5h1v15.1h-1zM714.2 629.0h1v45.4h-1zM714.2 992.2h1v15.1h-1zM718.5 629.0h0.8v15.1h-0.8zM718.5 780.3h0.8v15.1h-0.8zM718.9 810.6h1.5v15.1h-1.5zM718.9 840.9h1.5v15.1h-1.5zM719.6 629.0h0.8v15.1h-0.8zM719.6 674.4h0.8v15.1h-0.8zM719.6 871.1h0.8v15.1h-0.8zM720.7 1037.6h1v15.1h-1zM721.9 629.0h2v15.1h-2zM721.9 886.3h2v15.1h-2zM722.4 795.5h0.6v15.1h-0.6zM722.4 886.3h0.6v15.1h-0.6zM723.0 629.0h1v15.1h-1zM724.1 629.0h1v15.1h-1zM724.1 810.6h1v15.1h-1zM724.2 644.1h3v15.1h-3zM724.3 629.0h1v15.1h-1zM724.3 840.9h1v15.1h-1zM724.3 916.5h1v30.3h-1zM724.3 1037.6h1v15.1h-1zM727.0 780.3h0.8v15.1h-0.8zM727.0 840.9h0.8v15.1h-0.8zM729.1 629.0h0.6v15.1h-0.6zM729.1 795.5h0.6v15.1h-0.6zM729.2 750.1h3v15.1h-3zM729.4 629.0h1.2v15.1h-1.2zM729.4 795.5h1.2v15.1h-1.2zM729.4 840.9h1.2v15.1h-1.2zM730.7 1022.5h1.5v15.1h-1.5zM730.9 795.5h1v30.3h-1zM730.9 901.4h1v15.1h-1zM730.9 1037.6h1v15.1h-1zM732.7 750.1h3v15.1h-3zM732.7 795.5h3v15.1h-3zM732.7 856.0h3v15.1h-3zM734.4 795.5h1v15.1h-1zM734.4 840.9h1v15.1h-1zM734.4 931.7h1v15.1h-1zM734.5 1037.6h3v15.1h-3zM735.7 810.6h1v15.1h-1zM736.5 659.3h3.0v15.1h-3.0zM736.5 734.9h3.0v15.1h-3.0zM736.5 871.1h3.0v30.3h-3.0zM736.5 886.3h3.0v15.1h-3.0zM736.5 931.7h3.0v45.4h-3.0zM736.5 992.2h3.0v15.1h-3.0zM736.5 992.2h3.0v15.1h-3.0zM736.5 1022.5h3.0v15.1h-3.0zM736.5 1067.9h3.0v15.1h-3.0zM760.5 674.4h1.5v15.1h-1.5zM760.5 992.2h1.5v15.1h-1.5zM761.6 674.4h2v15.1h-2zM761.6 704.7h2v15.1h-2zM763.0 856.0h3v15.1h-3zM763.0 886.3h3v15.1h-3zM763.9 856.0h2.5v15.1h-2.5zM765.9 961.9h1.2v15.1h-1.2zM768.7 629.0h1v15.1h-1zM768.7 689.5h1v15.1h-1zM768.7 795.5h1v15.1h-1zM768.7 886.3h1v30.3h-1zM772.2 704.7h0.6v15.1h-0.6zM772.2 750.1h0.6v15.1h-0.6zM772.2 916.5h0.6v15.1h-0.6zM772.2 961.9h0.6v15.1h-0.6zM772.2 1067.9h0.6v15.1h-0.6zM772.5 644.1h2.0v30.3h-2.0zM772.5 689.5h2.0v15.1h-2.0zM772.5 719.8h2.0v30.3h-2.0zM772.5 795.5h2.0v15.1h-2.0zM772.5 825.7h2.0v15.1h-2.0zM772.5 825.7h2.0v45.4h-2.0zM772.5 916.5h2.0v30.3h-2.0zM772.5 931.7h2.0v15.1h-2.0zM772.5 977.1h2.0v15.1h-2.0zM772.5 1022.5h2.0v30.3h-2.0zM776.4 916.5h0.6v15.1h-0.6zM777.7 856.0h1v15.1h-1zM778.6 644.1h0.8v15.1h-0.8zM778.6 871.1h0.8v30.3h-0.8zM778.6 931.7h0.8v15.1h-0.8zM778.6 977.1h0.8v15.1h-0.8zM778.6 1067.9h0.8v15.1h-0.8zM847.1 856.0h1v15.1h-1zM847.1 992.2h1v15.1h-1zM847.7 886.3h2v15.1h-2zM847.7 1052.7h2v15.1h-2zM849.0 719.8h2v15.1h-2zM849 795.5h1.5v15.1h-1.5zM849 916.5h1.5v30.3h-1.5zM849 961.9h1.5v15.1h-1.5zM851.3 931.7h0.8v15.1h-0.8zM851.5 795.5h1v15.1h-1zM851.5 1067.9h1v15.1h-1zM853.5 765.2h1v30.3h-1zM853.5 977.1h1v15.1h-1zM854.3 810.6h2.5v15.1h-2.5zM857.0 825.7h2.5v15.1h-2.5zM860.0 629.0h1.2v15.1h-1.2zM864.1 689.5h2.5v15.1h-2.5zM864.1 1007.3h2.5v15.1h-2.5zM864.7 1007.3h3v15.1h-3zM867.5 659.3h1.5v15.1h-1.5zM867.5 765.2h1.5v15.1h-1.5zM867.5 825.7h1.5v15.1h-1.5zM867.5 961.9h1.5v15.1h-1.5zM869.8 629.0h0.8v15.1h-0.8zM874.4 901.4h3v15.1h-3zM880 780.3h1.5v15.1h-1.5zM880 810.6h1.5v15.1h-1.5zM880 977.1h1.5v30.3h-1.5zM880.3 810.6h1.5v15.1h-1.5zM883.6 886.3h1v15.1h-1zM894.3 629.0h1v15.1h-1zM894.3 659.3h1v15.1h-1zM894.5 629.0h2v30.3h-2zM894.5 750.1h2v15.1h-2zM894.5 886.3h2v15.1h-2zM894.5 931.7h2v15.1h-2zM894.5 992.2h2v15.1h-2zM894.5 1067.9h2v15.1h-2zM895.2 795.5h0.8v15.1h-0.8zM895.2 886.3h0.8v15.1h-0.8zM895.2 1022.5h0.8v15.1h-0.8zM897.2 916.5h2.5v15.1h-2.5zM900.5 644.1h1.5v15.1h-1.5zM900.5 674.4h1.5v15.1h-1.5zM900.6 674.4h2v15.1h-2zM900.6 840.9h2v15.1h-2zM900.6 886.3h2v15.1h-2zM900.6 977.1h2v30.3h-2zM901.5 840.9h1.2v15.1h-1.2zM901.5 916.5h1.2v15.1h-1.2zM901.5 946.8h1.2v15.1h-1.2zM902.9 659.3h1v15.1h-1zM902.9 931.7h1v30.3h-1zM902.9 1022.5h1v15.1h-1zM904.7 659.3h2.5v15.1h-2.5zM904.7 795.5h2.5v15.1h-2.5zM904.7 992.2h2.5v15.1h-2.5zM904.8 689.5h2.5v15.1h-2.5zM904.8 734.9h2.5v30.3h-2.5zM904.8 825.7h2.5v15.1h-2.5zM904.8 901.4h2.5v15.1h-2.5zM904.8 946.8h2.5v15.1h-2.5zM904.8 1052.7h2.5v30.3h-2.5zM905.4 689.5h3v15.1h-3zM905.4 810.6h3v15.1h-3zM905.4 840.9h3v15.1h-3zM905.4 916.5h3v15.1h-3zM905.4 977.1h3v30.3h-3zM905.4 1022.5h3v15.1h-3zM905.4 1052.7h3v15.1h-3zM905.5 659.3h1.5v15.1h-1.5zM905.5 795.5h1.5v15.1h-1.5zM905.5 901.4h1.5v30.3h-1.5zM905.6 629.0h1.2v15.1h-1.2zM905.6 840.9h1.2v15.1h-1.2zM905.6 916.5h1.2v15.1h-1.2zM905.6 961.9h1.2v15.1h-1.2zM906.4 689.5h1v15.1h-1zM906.4 765.2h1v15.1h-1zM906.4 840.9h1v15.1h-1zM906.4 901.4h1v30.3h-1zM906.4 946.8h1v15.1h-1zM906.4 1022.5h1v15.1h-1zM907.9 644.1h1v30.3h-1zM907.9 704.7h1v15.1h-1zM907.9 780.3h1v15.1h-1zM907.9 825.7h1v15.1h-1zM907.9 961.9h1v15.1h-1zM909.6 704.7h0.8v15.1h-0.8zM909.6 961.9h0.8v15.1h-0.8zM913.4 674.4h1v15.1h-1zM913.4 886.3h1v15.1h-1zM913.4 1067.9h1v15.1h-1zM913.6 765.2h1.5v15.1h-1.5zM913.6 795.5h1.5v30.3h-1.5zM913.6 856.0h1.5v15.1h-1.5zM913.6 1022.5h1.5v15.1h-1.5zM913.7 644.1h0.6v15.1h-0.6zM913.7 750.1h0.6v15.1h-0.6zM913.7 886.3h0.6v15.1h-0.6zM913.7 946.8h0.6v15.1h-0.6zM916.8 644.1h1v15.1h-1zM916.8 734.9h1v15.1h-1zM916.8 916.5h1v15.1h-1zM916.8 946.8h1v15.1h-1zM916.8 992.2h1v15.1h-1zM971.5 765.2h1v15.1h-1zM975.8 765.2h1.2v15.1h-1.2zM983.6 780.3h3v15.1h-3zM1024.3 765.2h1v15.1h-1zM1026.0 689.5h1v30.3h-1zM1026.0 750.1h1v15.1h-1zM1026.0 780.3h1v15.1h-1zM1026.0 825.7h1v15.1h-1zM1026.0 916.5h1v15.1h-1zM1026.0 1052.7h1v15.1h-1zM1028.8 734.9h1v15.1h-1zM1029.2 719.8h2v15.1h-2zM1035.3 674.4h1v15.1h-1zM1035.3 810.6h1v15.1h-1zM1035.3 871.1h1v15.1h-1zM1035.3 961.9h1v15.1h-1zM1035.3 992.2h1v15.1h-1zM1037.0 765.2h2v15.1h-2zM1037.0 977.1h2v15.1h-2zM1037.1 659.3h1.2v15.1h-1.2zM1037.1 750.1h1.2v30.3h-1.2zM1037.1 810.6h1.2v45.4h-1.2zM1037.1 1067.9h1.2v15.1h-1.2zM1037.5 674.4h1.5v15.1h-1.5zM1037.5 719.8h1.5v15.1h-1.5zM1037.5 901.4h1.5v30.3h-1.5zM1037.5 961.9h1.5v15.1h-1.5zM1037.5 1007.3h1.5v15.1h-1.5zM1038.4 674.4h1.5v30.3h-1.5zM1038.4 992.2h1.5v15.1h-1.5zM1040.5 931.7h2.5v15.1h-2.5zM1040.9 719.8h2.5v15.1h-2.5zM1041.1 856.0h2.5v15.1h-2.5zM1043.2 734.9h0.6v15.1h-0.6zM1043.2 765.2h0.6v15.1h-0.6zM1043.2 795.5h0.6v30.3h-0.6zM1043.2 856.0h0.6v15.1h-0.6zM1043.2 886.3h0.6v15.1h-0.6zM1043.2 916.5h0.6v15.1h-0.6zM1043.2 977.1h0.6v15.1h-0.6zM1043.2 1007.3h0.6v15.1h-0.6zM1046.5 719.8h3v15.1h-3zM1047.1 719.8h1.2v15.1h-1.2zM1047.1 765.2h1.2v15.1h-1.2zM1047.1 856.0h1.2v15.1h-1.2zM1047.1 1022.5h1.2v15.1h-1.2zM1048.1 689.5h0.6v15.1h-0.6zM1048.1 977.1h0.6v15.1h-0.6zM1049.9 659.3h2.5v15.1h-2.5zM1049.9 992.2h2.5v15.1h-2.5zM1051.7 704.7h1v15.1h-1zM1051.7 840.9h1v15.1h-1zM1053.0 977.1h3v15.1h-3zM1053.5 659.3h1.5v15.1h-1.5zM1053.5 871.1h1.5v15.1h-1.5zM1053.9 659.3h3v45.4h-3zM1053.9 780.3h0.6v15.1h-0.6zM1053.9 780.3h3v30.3h-3zM1053.9 856.0h0.6v15.1h-0.6zM1053.9 856.0h3v15.1h-3zM1053.9 886.3h3v15.1h-3zM1053.9 931.7h0.6v15.1h-0.6zM1053.9 992.2h0.6v15.1h-0.6zM1053.9 992.2h3v15.1h-3zM1053.9 1052.7h0.6v15.1h-0.6zM1080.6 719.8h1.2v15.1h-1.2zM1080.6 856.0h1.2v15.1h-1.2zM1084.7 644.1h1v15.1h-1zM1084.7 780.3h1v15.1h-1zM1084.7 795.5h0.8v15.1h-0.8zM1084.7 795.5h1v30.3h-1zM1084.7 931.7h0.8v15.1h-0.8zM1084.7 946.8h1v15.1h-1zM1084.7 1022.5h0.8v15.1h-0.8zM1086.8 825.7h2.5v15.1h-2.5zM1086.8 1022.5h2.5v15.1h-2.5zM1086.9 825.7h2.5v15.1h-2.5zM1086.9 946.8h2.5v15.1h-2.5zM1086.9 977.1h2.5v15.1h-2.5zM1087.1 992.2h2.5v15.1h-2.5zM1087.9 734.9h1v15.1h-1zM1087.9 901.4h1v15.1h-1zM1087.9 931.7h1v15.1h-1zM1087.9 1037.6h1v15.1h-1zM1087.9 1067.9h1v15.1h-1zM1088.2 780.3h2.5v15.1h-2.5zM1088.2 825.7h2.5v15.1h-2.5zM1088.2 901.4h2.5v15.1h-2.5zM1088.2 946.8h2.5v15.1h-2.5zM1088.8 901.4h2.5v15.1h-2.5zM1090.5 856.0h2v15.1h-2zM1097.9 659.3h0.6v15.1h-0.6zM1097.9 856.0h0.6v15.1h-0.6zM1097.9 901.4h0.6v15.1h-0.6zM1153.3 750.1h2v15.1h-2zM1153.3 840.9h2v15.1h-2zM1153.3 901.4h2v15.1h-2zM1153.3 961.9h2v15.1h-2zM1153.3 1022.5h2v15.1h-2zM1154.5 916.5h2.5v30.3h-2.5zM1155.5 916.5h1.5v15.1h-1.5zM1155.5 961.9h1.5v15.1h-1.5zM1155.5 1037.6h1.5v15.1h-1.5zM1156.1 795.5h1.5v15.1h-1.5zM1156.8 704.7h0.6v15.1h-0.6zM1156.8 765.2h0.6v15.1h-0.6zM1156.8 840.9h0.6v15.1h-0.6zM1156.8 871.1h0.6v15.1h-0.6zM1156.8 916.5h0.6v15.1h-0.6zM1157.2 659.3h1v30.3h-1zM1157.2 901.4h0.6v15.1h-0.6zM1157.2 931.7h0.6v15.1h-0.6zM1159.0 810.6h1v15.1h-1zM1159.0 931.7h1v15.1h-1zM1160.3 810.6h0.6v15.1h-0.6zM1162.5 961.9h1v15.1h-1zM1162.5 1022.5h1v15.1h-1zM1162.6 704.7h3v30.3h-3zM1162.6 901.4h3v15.1h-3zM1162.6 992.2h3v15.1h-3zM1162.6 1037.6h3v15.1h-3zM1163.2 629.0h2.5v15.1h-2.5zM1163.2 674.4h2.5v15.1h-2.5zM1163.2 825.7h2.5v15.1h-2.5zM1163.2 916.5h2.5v15.1h-2.5zM1163.2 992.2h2.5v15.1h-2.5zM1165.7 825.7h2.5v15.1h-2.5zM1165.7 1007.3h2.5v15.1h-2.5zM1165.7 1037.6h2.5v15.1h-2.5zM1167.4 886.3h2.5v15.1h-2.5zM1167.4 1007.3h2.5v30.3h-2.5zM1172.3 856.0h2.5v15.1h-2.5zM1173.0 931.7h1.2v15.1h-1.2zM1173.4 644.1h2v15.1h-2zM1173.4 780.3h2v15.1h-2zM1173.4 810.6h2v15.1h-2zM1173.4 931.7h2v30.3h-2zM1173.4 992.2h2v15.1h-2zM1173.4 1067.9h2v15.1h-2zM1174.1 689.5h1.2v15.1h-1.2zM1174.1 719.8h1.2v15.1h-1.2zM1174.1 765.2h1.2v15.1h-1.2zM1174.1 992.2h1.2v15.1h-1.2zM1174.1 1022.5h1.2v15.1h-1.2zM1174.1 1067.9h1.2v15.1h-1.2zM1174.9 810.6h1.2v15.1h-1.2zM1174.9 1037.6h1.2v15.1h-1.2zM1175.7 780.3h3v15.1h-3zM1175.7 916.5h3v15.1h-3zM1188.0 871.1h2.5v15.1h-2.5zM1188.7 992.2h0.6v15.1h-0.6zM1191.7 629.0h0.8v15.1h-0.8zM1191.7 825.7h0.8v15.1h-0.8zM1191.7 871.1h0.8v15.1h-0.8zM1191.7 916.5h0.8v15.1h-0.8zM1191.7 992.2h0.8v30.3h-0.8zM1219.4 704.7h2v15.1h-2zM1219.4 795.5h2v15.1h-2zM1219.5 704.7h2v15.1h-2zM1219.5 734.9h2v15.1h-2zM1219.5 931.7h2v15.1h-2zM1221.9 961.9h2v15.1h-2zM1223.1 629.0h3v30.3h-3zM1223.1 901.4h3v30.3h-3zM1223.1 1007.3h3v15.1h-3zM1225.8 629.0h2.5v15.1h-2.5zM1225.8 856.0h2.5v15.1h-2.5zM1226.1 659.3h0.6v15.1h-0.6zM1226.1 765.2h0.6v30.3h-0.6zM1226.1 825.7h0.6v15.1h-0.6zM1226.1 856.0h0.6v15.1h-0.6zM1226.1 946.8h0.6v15.1h-0.6zM1226.1 1022.5h0.6v15.1h-0.6zM1226.8 659.3h2.5v15.1h-2.5zM1226.8 689.5h2.5v30.3h-2.5zM1226.8 765.2h2.5v15.1h-2.5zM1226.8 825.7h2.5v15.1h-2.5zM1226.8 856.0h2.5v15.1h-2.5zM1226.8 931.7h2.5v15.1h-2.5zM1226.8 977.1h2.5v15.1h-2.5zM1226.8 1007.3h2.5v15.1h-2.5zM1227.2 856.0h2.5v15.1h-2.5zM1227.2 916.5h2.5v15.1h-2.5zM1228.3 750.1h1v15.1h-1zM1228.3 810.6h1v15.1h-1zM1228.3 977.1h1v15.1h-1zM1228.3 1037.6h1v15.1h-1zM1229.3 629.0h1.2v15.1h-1.2zM1229.3 795.5h1.2v45.4h-1.2zM1229.3 871.1h1.2v15.1h-1.2zM1229.3 916.5h1.2v15.1h-1.2zM1229.3 1037.6h1.2v15.1h-1.2zM1230.1 629.0h2v15.1h-2zM1230.1 644.1h0.6v15.1h-0.6zM1230.1 689.5h0.6v15.1h-0.6zM1230.1 780.3h0.6v15.1h-0.6zM1230.1 916.5h2v15.1h-2zM1230.1 946.8h0.6v30.3h-0.6zM1230.9 629.0h0.6v15.1h-0.6zM1230.9 977.1h0.6v15.1h-0.6zM1231.5 659.3h3v15.1h-3zM1231.5 734.9h3v15.1h-3zM1231.5 1067.9h3v15.1h-3zM1231.9 689.5h0.6v15.1h-0.6zM1231.9 750.1h0.6v15.1h-0.6zM1231.9 825.7h0.6v15.1h-0.6zM1231.9 856.0h0.6v15.1h-0.6zM1231.9 886.3h0.6v15.1h-0.6zM1231.9 916.5h0.6v30.3h-0.6zM1233.0 704.7h0.6v15.1h-0.6zM1233.0 765.2h0.6v30.3h-0.6zM1233.0 825.7h0.6v15.1h-0.6zM1233.0 856.0h0.6v15.1h-0.6zM1233.0 992.2h0.6v45.4h-0.6zM1233.9 750.1h3v15.1h-3zM1233.9 931.7h3v15.1h-3zM1259.2 765.2h1.5v15.1h-1.5zM1259.2 795.5h1.5v15.1h-1.5zM1259.2 871.1h1.5v15.1h-1.5zM1259.2 946.8h1.5v15.1h-1.5zM1260.0 992.2h2v15.1h-2zM1260.3 704.7h1.5v15.1h-1.5zM1260.3 734.9h1.5v15.1h-1.5zM1260.3 871.1h1.5v15.1h-1.5zM1260.3 901.4h1.5v15.1h-1.5zM1261.1 704.7h1.2v15.1h-1.2zM1261.1 1022.5h1.2v15.1h-1.2zM1264.3 825.7h1v15.1h-1zM1264.3 1022.5h1v15.1h-1zM1264.3 1037.6h2.5v15.1h-2.5zM1266.0 644.1h1.2v15.1h-1.2zM1266.0 916.5h1.2v15.1h-1.2zM1266.0 1022.5h1.2v30.3h-1.2zM1267.2 644.1h1v15.1h-1zM1267.2 840.9h1v15.1h-1zM1267.2 946.8h1v15.1h-1zM1268.3 704.7h0.8v15.1h-0.8zM1269.3 840.9h1v15.1h-1zM1269.9 810.6h1.5v15.1h-1.5zM1269.9 856.0h1.5v15.1h-1.5zM1269.9 931.7h1.5v30.3h-1.5zM1270.0 719.8h1.2v15.1h-1.2zM1270.0 840.9h1.2v15.1h-1.2zM1270.0 871.1h1.2v15.1h-1.2zM1270.0 916.5h1.2v15.1h-1.2zM1270.0 1052.7h1.2v15.1h-1.2zM1270.4 629.0h1v15.1h-1zM1270.4 765.2h1v30.3h-1zM1270.5 856.0h0.8v15.1h-0.8zM1270.5 916.5h0.8v45.4h-0.8zM1270.5 1037.6h0.8v15.1h-0.8zM1270.8 704.7h3v15.1h-3zM1270.8 780.3h3v15.1h-3zM1270.8 1007.3h3v15.1h-3zM1270.8 1037.6h3v15.1h-3zM1271.9 931.7h0.6v45.4h-0.6zM1272.2 856.0h2v15.1h-2zM1272.2 992.2h2v15.1h-2zM1272.7 946.8h1.2v15.1h-1.2zM1272.9 674.4h1v15.1h-1zM1272.9 704.7h1v15.1h-1zM1272.9 931.7h1v15.1h-1zM1273.5 734.9h1.2v15.1h-1.2zM1273.5 840.9h1.2v15.1h-1.2zM1273.5 901.4h1.2v15.1h-1.2zM1273.9 780.3h1v15.1h-1zM1273.9 871.1h1v45.4h-1zM1273.9 992.2h1v15.1h-1zM1273.9 1022.5h1v15.1h-1zM1274.1 1037.6h2v15.1h-2zM1274.6 629.0h1.5v30.3h-1.5zM1274.6 734.9h1.5v15.1h-1.5zM1274.6 871.1h1.5v15.1h-1.5zM1274.6 961.9h1.5v15.1h-1.5zM1275.7 886.3h1v15.1h-1zM1275.7 1022.5h1v15.1h-1zM1276.2 629.0h1.2v15.1h-1.2zM1276.2 704.7h1.2v15.1h-1.2zM1276.2 946.8h1.2v15.1h-1.2zM1276.2 1022.5h1.2v15.1h-1.2zM1276.2 1052.7h1.2v15.1h-1.2zM1277.4 719.8h2v15.1h-2zM1277.4 750.1h2v15.1h-2zM1277.4 795.5h2v15.1h-2zM1277.4 856.0h2v15.1h-2zM1277.4 901.4h2v15.1h-2zM1277.4 931.7h2v15.1h-2zM1277.4 1067.9h2v15.1h-2zM1277.6 856.0h1v15.1h-1zM1277.6 916.5h1v15.1h-1zM1277.6 992.2h1v15.1h-1zM1277.8 644.1h1.2v15.1h-1.2zM1277.8 871.1h1.2v15.1h-1.2zM1279.0 644.1h2.5v15.1h-2.5zM1279.9 629.0h3v45.4h-3zM1279.9 689.5h3v30.3h-3zM1279.9 734.9h3v15.1h-3zM1279.9 810.6h3v15.1h-3zM1279.9 1022.5h3v15.1h-3zM1280.0 871.1h2v30.3h-2zM1280.0 931.7h2v15.1h-2zM1280.0 977.1h2v15.1h-2zM1280.0 1037.6h2v15.1h-2zM1280.2 719.8h1.5v15.1h-1.5zM1280.2 795.5h1.5v15.1h-1.5zM1280.2 1067.9h1.5v15.1h-1.5zM1281.1 644.1h0.6v15.1h-0.6zM1281.1 825.7h0.6v15.1h-0.6zM1281.1 946.8h0.6v15.1h-0.6zM1281.1 977.1h0.6v15.1h-0.6zM1281.1 1067.9h0.6v15.1h-0.6zM1282.3 840.9h0.6v15.1h-0.6zM1282.3 871.1h0.6v15.1h-0.6zM1282.3 946.8h0.6v15.1h-0.6zM1283.0 719.8h1v15.1h-1zM1283.0 780.3h1v15.1h-1zM1283.0 810.6h1v30.3h-1zM1283.0 886.3h1v15.1h-1zM1283.0 977.1h1v15.1h-1zM1283.1 674.4h0.8v30.3h-0.8zM1283.8 644.1h2v15.1h-2zM1283.8 750.1h2v15.1h-2zM1283.8 886.3h2v15.1h-2zM1283.8 931.7h2v15.1h-2zM1283.8 1007.3h2v15.1h-2zM1284.3 644.1h2.5v15.1h-2.5zM1284.3 704.7h2.5v30.3h-2.5zM1284.3 946.8h2.5v15.1h-2.5zM1284.3 1007.3h2.5v15.1h-2.5zM1284.3 1052.7h2.5v15.1h-2.5zM1284.8 856.0h0.6v15.1h-0.6zM1284.8 886.3h0.6v15.1h-0.6zM1285.1 1052.7h1v15.1h-1zM1286.8 734.9h1.2v15.1h-1.2zM1286.8 901.4h1.2v15.1h-1.2zM1286.8 946.8h1.2v15.1h-1.2zM1286.8 977.1h1.2v15.1h-1.2zM1286.9 901.4h1v15.1h-1zM1287.1 689.5h2v15.1h-2zM1287.1 795.5h2v15.1h-2zM1287.1 856.0h2v15.1h-2zM1287.1 977.1h2v15.1h-2zM1288.7 659.3h1v15.1h-1zM1288.7 689.5h1v15.1h-1zM1288.7 765.2h1v30.3h-1zM1288.7 825.7h1v30.3h-1zM1288.7 886.3h1v15.1h-1zM1288.7 916.5h1v15.1h-1zM1288.7 961.9h1v15.1h-1zM1288.7 992.2h1v15.1h-1zM1289.0 659.3h1.2v15.1h-1.2zM1289.0 704.7h1.2v15.1h-1.2zM1289.0 856.0h1.2v15.1h-1.2zM1289.0 1067.9h1.2v15.1h-1.2zM1289.1 659.3h3v60.5h-3zM1289.1 734.9h3v15.1h-3zM1289.1 931.7h3v15.1h-3zM1289.6 689.5h0.8v15.1h-0.8zM1289.6 719.8h0.8v15.1h-0.8zM1290.5 1037.6h1v15.1h-1zM1290.8 629.0h0.6v30.3h-0.6zM1290.8 719.8h0.6v30.3h-0.6zM1290.8 795.5h0.6v30.3h-0.6zM1290.8 886.3h0.6v15.1h-0.6zM1290.8 916.5h0.6v15.1h-0.6zM1290.8 992.2h0.6v15.1h-0.6zM1290.8 1067.9h0.6v15.1h-0.6zM1290.9 644.1h1v15.1h-1zM1290.9 946.8h1v30.3h-1zM1290.9 1052.7h1v15.1h-1zM1291.2 629.0h0.6v15.1h-0.6zM1291.2 977.1h0.6v15.1h-0.6zM1293.1 644.1h0.6v15.1h-0.6zM1293.1 704.7h0.6v15.1h-0.6zM1293.1 750.1h0.6v15.1h-0.6zM1293.1 1037.6h0.6v15.1h-0.6zM1293.4 689.5h3v15.1h-3zM1293.4 719.8h2.5v15.1h-2.5zM1293.4 765.2h3v15.1h-3zM1293.4 795.5h2.5v15.1h-2.5zM1293.4 795.5h3v30.3h-3zM1293.4 856.0h2.5v15.1h-2.5zM1293.4 856.0h3v15.1h-3zM1293.4 886.3h2.5v15.1h-2.5zM1293.4 961.9h2.5v15.1h-2.5zM1293.4 992.2h3v15.1h-3zM1293.4 1007.3h2.5v15.1h-2.5zM1293.4 1022.5h3v15.1h-3zM1293.4 1052.7h2.5v30.3h-2.5zM1294.0 629.0h2.5v15.1h-2.5zM1294.0 659.3h2.5v15.1h-2.5zM1294.0 719.8h2.5v15.1h-2.5zM1294.0 825.7h2.5v15.1h-2.5zM1294.0 992.2h2.5v15.1h-2.5zM1294.0 1067.9h2.5v15.1h-2.5zM1294.3 825.7h2.5v15.1h-2.5zM1294.3 856.0h2.5v30.3h-2.5zM1294.3 977.1h2.5v15.1h-2.5zM1294.3 1022.5h2.5v15.1h-2.5zM1294.9 765.2h1v15.1h-1zM1294.9 825.7h1v15.1h-1zM1294.9 856.0h1v15.1h-1zM1294.9 931.7h1v15.1h-1zM1294.9 977.1h1v30.3h-1zM1294.9 1022.5h1v15.1h-1zM1294.9 1052.7h1v15.1h-1zM1295.1 946.8h0.8v15.1h-0.8zM1295.1 1022.5h0.8v15.1h-0.8zM1295.4 734.9h1.5v15.1h-1.5zM1295.4 765.2h1.5v15.1h-1.5zM1295.4 810.6h1.5v15.1h-1.5zM1295.4 810.6h3v15.1h-3zM1295.4 840.9h1.5v30.3h-1.5zM1295.4 916.5h3v15.1h-3zM1295.4 1052.7h1.5v15.1h-1.5zM1295.5 734.9h1.5v15.1h-1.5zM1295.5 795.5h1.5v15.1h-1.5zM1295.5 946.8h1.5v15.1h-1.5zM1296.4 825.7h1.5v15.1h-1.5zM1296.4 931.7h1.5v15.1h-1.5zM1296.4 1022.5h1.5v15.1h-1.5zM1296.4 1067.9h1.5v15.1h-1.5zM1296.5 704.7h1v15.1h-1zM1296.5 1037.6h1v15.1h-1zM1298.8 780.3h1.5v15.1h-1.5zM1298.8 825.7h1.5v45.4h-1.5zM1298.8 886.3h1.5v15.1h-1.5zM1298.8 946.8h1.5v15.1h-1.5zM1298.8 1037.6h1.5v15.1h-1.5zM1299.0 629.0h0.8v15.1h-0.8zM1299.0 825.7h0.8v15.1h-0.8zM1299.0 886.3h0.8v15.1h-0.8zM1299.3 629.0h1.5v15.1h-1.5zM1299.3 750.1h1.5v15.1h-1.5zM1299.3 840.9h1.5v15.1h-1.5zM1299.5 644.1h2v15.1h-2zM1299.5 719.8h2v15.1h-2zM1299.5 901.4h2v15.1h-2zM1299.5 992.2h2v15.1h-2zM1299.5 1067.9h2v15.1h-2zM1299.7 659.3h0.8v15.1h-0.8zM1299.7 961.9h0.8v15.1h-0.8zM1300.3 629.0h1.2v15.1h-1.2zM1300.3 674.4h1.2v15.1h-1.2zM1300.3 765.2h1.2v15.1h-1.2zM1300.3 810.6h1.2v15.1h-1.2zM1300.3 871.1h1.2v15.1h-1.2zM1300.3 916.5h1.2v15.1h-1.2zM1300.6 780.3h2v15.1h-2zM1300.6 871.1h1v30.3h-1zM1300.6 1022.5h1v15.1h-1zM1300.9 629.0h1v15.1h-1zM1300.9 674.4h1v15.1h-1zM1300.9 750.1h1v15.1h-1zM1300.9 871.1h1v15.1h-1zM1300.9 1067.9h1v15.1h-1zM1301.1 674.4h2.5v15.1h-2.5zM1301.1 734.9h2.5v15.1h-2.5zM1301.1 780.3h2.5v15.1h-2.5zM1301.1 886.3h2.5v15.1h-2.5zM1301.1 961.9h2.5v15.1h-2.5zM1301.1 1067.9h2.5v15.1h-2.5zM1301.5 840.9h1.5v15.1h-1.5zM1301.5 871.1h1.5v15.1h-1.5zM1303.8 704.7h1.5v15.1h-1.5zM1303.8 856.0h1.5v15.1h-1.5zM1303.8 916.5h1.5v15.1h-1.5zM1304.6 931.7h2v15.1h-2zM1304.9 886.3h0.6v15.1h-0.6zM1304.9 1067.9h0.6v15.1h-0.6zM1306.1 719.8h0.6v15.1h-0.6zM1306.1 840.9h0.6v15.1h-0.6zM1306.8 629.0h3v30.3h-3zM1306.8 719.8h3v15.1h-3zM1306.8 961.9h3v15.1h-3zM1306.8 1037.6h3v15.1h-3zM1307.2 1022.5h1.5v15.1h-1.5zM1307.5 659.3h3v45.4h-3zM1307.5 734.9h3v30.3h-3zM1307.5 780.3h3v30.3h-3zM1307.5 1022.5h3v15.1h-3zM1307.7 704.7h2v15.1h-2zM1307.7 856.0h2v15.1h-2zM1307.7 1052.7h2v15.1h-2zM1307.9 689.5h1v15.1h-1zM1307.9 871.1h1v15.1h-1zM1307.9 1052.7h1v15.1h-1zM1309.2 689.5h0.6v15.1h-0.6zM1309.2 886.3h0.6v15.1h-0.6zM1309.2 1037.6h0.6v15.1h-0.6zM1309.9 644.1h1.5v30.3h-1.5zM1309.9 689.5h1.5v15.1h-1.5zM1309.9 719.8h1.5v15.1h-1.5zM1309.9 795.5h1.5v15.1h-1.5zM1309.9 856.0h1.5v30.3h-1.5zM1309.9 977.1h1.5v15.1h-1.5zM1309.9 1022.5h1.5v15.1h-1.5zM1310.4 689.5h1.5v15.1h-1.5zM1310.4 719.8h1.5v15.1h-1.5zM1310.4 750.1h1.5v15.1h-1.5zM1310.4 886.3h1.5v15.1h-1.5zM1310.4 1052.7h1.5v15.1h-1.5zM1310.6 629.0h2.5v15.1h-2.5zM1310.6 659.3h2.5v15.1h-2.5zM1310.6 856.0h2.5v15.1h-2.5zM1310.6 946.8h2.5v15.1h-2.5zM1310.6 1022.5h2.5v15.1h-2.5zM1311.7 674.4h0.6v15.1h-0.6zM1311.7 871.1h0.6v30.3h-0.6zM1311.7 931.7h0.6v15.1h-0.6zM1311.7 1022.5h0.6v30.3h-0.6zM1311.8 780.3h0.6v15.1h-0.6zM1311.8 871.1h0.6v15.1h-0.6zM1311.8 916.5h0.6v45.4h-0.6zM1312.1 659.3h2.5v15.1h-2.5zM1312.1 719.8h2.5v30.3h-2.5zM1312.1 825.7h2.5v15.1h-2.5zM1312.1 1022.5h2.5v15.1h-2.5zM1312.2 916.5h1v15.1h-1zM1313.9 674.4h1.2v15.1h-1.2zM1313.9 734.9h1.2v30.3h-1.2zM1313.9 886.3h1.2v15.1h-1.2zM1313.9 961.9h1.2v45.4h-1.2zM1313.9 1052.7h1.2v15.1h-1.2zM1315.3 689.5h0.6v15.1h-0.6zM1315.3 750.1h0.6v15.1h-0.6zM1315.3 795.5h0.6v15.1h-0.6zM1315.6 825.7h1.5v15.1h-1.5zM1315.6 992.2h1.5v15.1h-1.5zM1315.6 1052.7h1.5v15.1h-1.5zM1316.1 644.1h1v30.3h-1zM1316.1 750.1h1v30.3h-1zM1316.1 871.1h1v30.3h-1zM1316.1 961.9h1v30.3h-1zM1316.1 1022.5h1v15.1h-1zM1316.5 704.7h1.5v15.1h-1.5zM1317.0 765.2h0.8v15.1h-0.8zM1317.0 795.5h0.8v15.1h-0.8zM1317.0 871.1h0.8v15.1h-0.8zM1317.8 795.5h1v15.1h-1zM1317.8 916.5h1v15.1h-1zM1317.9 1052.7h2.5v15.1h-2.5zM1318.8 825.7h2.5v15.1h-2.5zM1318.8 961.9h2.5v30.3h-2.5zM1318.9 644.1h0.6v30.3h-0.6zM1318.9 780.3h0.6v15.1h-0.6zM1318.9 840.9h0.8v15.1h-0.8zM1318.9 886.3h0.8v15.1h-0.8zM1318.9 992.2h0.8v15.1h-0.8zM1319.1 840.9h1.2v15.1h-1.2zM1319.5 659.3h1.2v15.1h-1.2zM1319.5 810.6h1.2v15.1h-1.2zM1319.5 871.1h1.2v15.1h-1.2zM1319.5 901.4h1.2v15.1h-1.2zM1319.5 946.8h1.2v15.1h-1.2zM1319.5 977.1h1.2v15.1h-1.2zM1319.9 704.7h2v15.1h-2zM1319.9 916.5h2v15.1h-2zM1319.9 1022.5h2v15.1h-2zM1320.5 629.0h2.5v15.1h-2.5zM1320.5 674.4h2.5v30.3h-2.5zM1320.5 719.8h2.5v15.1h-2.5zM1320.5 871.1h2.5v15.1h-2.5zM1320.5 1022.5h2.5v15.1h-2.5zM1321.0 704.7h1v15.1h-1zM1321.2 674.4h2.5v15.1h-2.5zM1321.2 750.1h2.5v30.3h-2.5zM1321.2 825.7h2.5v15.1h-2.5zM1321.2 856.0h2.5v30.3h-2.5zM1321.2 931.7h2.5v30.3h-2.5zM1321.2 977.1h2.5v30.3h-2.5zM1321.3 704.7h1.2v15.1h-1.2zM1321.3 810.6h1.2v15.1h-1.2zM1321.3 901.4h1.2v15.1h-1.2zM1321.3 992.2h1.2v30.3h-1.2zM1321.8 689.5h2v30.3h-2zM1321.8 810.6h2v15.1h-2zM1323.0 689.5h1v15.1h-1zM1323.0 780.3h1v45.4h-1zM1323.0 946.8h1v15.1h-1zM1323.0 1067.9h1v15.1h-1zM1323.2 644.1h0.8v15.1h-0.8zM1323.2 704.7h0.8v30.3h-0.8zM1323.2 765.2h0.8v15.1h-0.8zM1323.2 795.5h0.8v15.1h-0.8zM1323.2 961.9h0.8v15.1h-0.8zM1323.2 992.2h0.8v15.1h-0.8zM1323.2 1067.9h0.8v15.1h-0.8zM1323.3 734.9h1.2v30.3h-1.2zM1323.3 795.5h1.2v15.1h-1.2zM1323.3 886.3h1.2v15.1h-1.2zM1323.3 916.5h1.2v15.1h-1.2zM1323.3 961.9h1.2v15.1h-1.2zM1324.6 659.3h1v15.1h-1zM1324.6 704.7h1v15.1h-1zM1324.6 750.1h1v30.3h-1zM1324.6 961.9h1v15.1h-1zM1324.6 992.2h1v30.3h-1zM1324.6 1037.6h1v15.1h-1zM1326.2 629.0h1.2v15.1h-1.2zM1326.2 629.0h1.2v15.1h-1.2zM1326.2 704.7h1.2v15.1h-1.2zM1326.2 734.9h1.2v15.1h-1.2zM1326.2 795.5h1.2v15.1h-1.2zM1326.2 886.3h1.2v15.1h-1.2zM1326.2 946.8h1.2v15.1h-1.2zM1326.2 1067.9h1.2v15.1h-1.2zM1326.4 780.3h1v15.1h-1zM1326.6 780.3h2.5v15.1h-2.5zM1327.9 961.9h0.8v15.1h-0.8z"/>
<path fill="#f4a582" fill-opacity="0.7" d="M574.6 629.0h0.8v15.1h-0.8zM574.6 977.1h0.8v15.1h-0.8zM585.0 856.0h0.6v15.1h-0.6zM595 1067.9h1.2000000000000455v15.1h-1.2000000000000455zM599.6 644.1h0.8v15.1h-0.8zM670.5 780.3h1v15.1h-1zM689.7 1052.7h0.6v15.1h-0.6zM714.8 946.8h2v15.1h-2zM718.9 931.7h1.5v15.1h-1.5zM736.5 901.4h3.0v15.1h-3.0zM760.5 856.0h1.5v15.1h-1.5zM851.3 825.7h0.8v15.1h-0.8zM851.5 977.1h1v15.1h-1zM853.5 1007.3h1v15.1h-1zM867.5 901.4h1.5v15.1h-1.5zM897.2 674.4h2.5v15.1h-2.5zM900.6 1067.9h2v15.1h-2zM902.9 780.3h1v15.1h-1zM903.5 704.7h0.8v15.1h-0.8zM906.4 629.0h1v15.1h-1zM907.9 931.7h1v15.1h-1zM907.9 977.1h1v15.1h-1zM1026.0 795.5h1v15.1h-1zM1029.2 946.8h2v15.1h-2zM1047.1 750.1h1.2v15.1h-1.2zM1053.9 946.8h0.6v15.1h-0.6zM1084.7 856.0h1v15.1h-1zM1088.8 1037.6h2.5v15.1h-2.5zM1090.5 795.5h2v15.1h-2zM1156.1 734.9h1.5v15.1h-1.5zM1163.2 856.0h2.5v15.1h-2.5zM1165.7 856.0h2.5v15.1h-2.5zM1167.4 734.9h2.5v15.1h-2.5zM1173.0 704.7h1.2v15.1h-1.2zM1190.0 734.9h1v15.1h-1zM1191.7 780.3h0.8v15.1h-0.8zM1191.7 977.1h0.8v15.1h-0.8zM1226.8 901.4h2.5v15.1h-2.5zM1228.3 901.4h1v15.1h-1zM1261.1 644.1h1.2v15.1h-1.2zM1264.3 931.7h2.5v15.1h-2.5zM1267.2 704.7h1v15.1h-1zM1269.9 629.0h1.5v15.1h-1.5zM1270.4 856.0h1v15.1h-1zM1270.8 946.8h3v15.1h-3zM1272.9 856.0h1v15.1h-1zM1273.9 659.3h1v15.1h-1zM1274.6 946.8h1.5v15.1h-1.5zM1277.8 780.3h1.2v15.1h-1.2zM1279.9 825.7h3v15.1h-3zM1290.8 825.7h0.6v15.1h-0.6zM1294.0 765.2h2.5v15.1h-2.5zM1295.4 916.5h1.5v15.1h-1.5zM1296.4 750.1h1.5v15.1h-1.5zM1299.3 946.8h1.5v15.1h-1.5zM1299.5 629.0h2v15.1h-2zM1304.6 810.6h2v15.1h-2zM1304.9 765.2h0.6v15.1h-0.6zM1310.4 629.0h1.5v15.1h-1.5zM1311.8 750.1h0.6v15.1h-0.6zM1311.8 977.1h0.6v15.1h-0.6zM1312.2 719.8h1v15.1h-1zM1316.1 946.8h1v15.1h-1zM1316.5 704.7h1v15.1h-1zM1316.5 961.9h1v15.1h-1zM1317.9 674.4h2.5v15.1h-2.5zM1321.0 810.6h1v15.1h-1zM1323.0 734.9h1v15.1h-1zM1324.6 719.8h1v15.1h-1zM1326.2 719.8h1.2v15.1h-1.2zM1327.9 674.4h0.8v15.1h-0.8z"/>
<path fill="#d6604d" fill-opacity="0.7" d="M575.9 689.5h2.5v30.3h-2.5zM583.8 810.6h2v15.1h-2zM585.0 1052.7h0.6v15.1h-0.6zM592 840.9h1v15.1h-1zM595 871.1h1.2000000000000455v15.1h-1.2000000000000455zM615.6 734.9h0.8v15.1h-0.8zM693.0 810.6h3v15.1h-3zM699.2 750.1h1.5v15.1h-1.5zM700.5 810.6h1v15.1h-1zM703.7 1022.5h3v15.1h-3zM706.0 840.9h1v15.1h-1zM708.2 840.9h2.5v15.1h-2.5zM708.2 992.2h2.5v15.1h-2.5zM710.2 765.2h1.5v15.1h-1.5zM714.8 750.1h2v15.1h-2zM736.5 644.1h3.0v15.1h-3.0zM736.5 977.1h3.0v15.1h-3.0zM768.7 916.5h1v15.1h-1zM772.2 977.1h0.6v15.1h-0.6zM772.5 689.5h2.0v15.1h-2.0zM849 659.3h1.5v15.1h-1.5zM849 1067.9h1.5v15.1h-1.5zM867.5 1067.9h1.5v15.1h-1.5zM895.2 946.8h0.8v15.1h-0.8zM901.5 780.3h1.2v15.1h-1.2zM902.9 825.7h1v15.1h-1zM904.8 674.4h2.5v15.1h-2.5zM905.4 704.7h3v15.1h-3zM905.5 946.8h1.5v15.1h-1.5zM906.0 871.1h1.5v15.1h-1.5zM907.9 689.5h1v15.1h-1zM909.6 629.0h0.8v15.1h-0.8zM1024.3 916.5h1v15.1h-1zM1029.2 901.4h2v15.1h-2zM1037.1 931.7h1.2v15.1h-1.2zM1038.4 750.1h1.5v15.1h-1.5zM1043.2 674.4h0.6v15.1h-0.6zM1053.9 840.9h3v15.1h-3zM1088.2 1067.9h2.5v15.1h-2.5zM1154.5 840.9h2.5v15.1h-2.5zM1156.1 765.2h1.5v15.1h-1.5zM1162.6 734.9h3v15.1h-3zM1163.2 871.1h2.5v15.1h-2.5zM1174.1 750.1h1.2v15.1h-1.2zM1174.9 946.8h1.2v15.1h-1.2zM1219.4 719.8h2v15.1h-2zM1219.4 1052.7h2v15.1h-2zM1226.1 795.5h0.6v30.3h-0.6zM1228.3 780.3h1v15.1h-1zM1230.1 840.9h0.6v15.1h-0.6zM1233.0 719.8h0.6v15.1h-0.6zM1233.0 1037.6h0.6v15.1h-0.6zM1234.6 840.9h0.6v15.1h-0.6zM1266.0 977.1h1.2v15.1h-1.2zM1269.3 674.4h1v15.1h-1zM1270.0 659.3h1.2v15.1h-1.2zM1270.4 750.1h1v15.1h-1zM1271.9 674.4h0.6v15.1h-0.6zM1272.7 1022.5h1.2v15.1h-1.2zM1272.9 1022.5h1v15.1h-1zM1277.4 825.7h2v15.1h-2zM1282.3 780.3h0.6v15.1h-0.6zM1282.3 916.5h0.6v30.3h-0.6zM1283.1 931.7h0.8v15.1h-0.8zM1283.8 961.9h2v15.1h-2zM1288.7 704.7h1v15.1h-1zM1290.8 689.5h0.6v15.1h-0.6zM1290.8 1037.6h0.6v15.1h-0.6zM1293.4 659.3h2.5v15.1h-2.5zM1293.4 765.2h2.5v15.1h-2.5zM1294.0 977.1h2.5v15.1h-2.5zM1295.1 644.1h0.8v15.1h-0.8zM1295.1 674.4h0.8v15.1h-0.8zM1295.4 704.7h3v15.1h-3zM1295.4 931.7h3v15.1h-3zM1296.4 810.6h1.5v15.1h-1.5zM1299.5 931.7h2v15.1h-2zM1304.9 674.4h0.6v15.1h-0.6zM1307.2 810.6h1.5v15.1h-1.5zM1307.5 840.9h3v15.1h-3zM1307.9 1022.5h1v15.1h-1zM1310.4 674.4h1.5v15.1h-1.5zM1310.6 992.2h2.5v15.1h-2.5zM1313.9 689.5h1.2v15.1h-1.2zM1316.5 734.9h1.5v15.1h-1.5zM1317.9 810.6h2.5v15.1h-2.5zM1318.8 765.2h2.5v15.1h-2.5zM1318.9 1007.3h0.8v15.1h-0.8zM1320.5 750.1h2.5v15.1h-2.5zM1321.2 644.1h2.5v15.1h-2.5zM1321.2 780.3h2.5v15.1h-2.5zM1321.3 1052.7h1.2v15.1h-1.2zM1321.8 674.4h2v15.1h-2zM1321.8 840.9h2v15.1h-2zM1323.2 825.7h0.8v15.1h-0.8zM1323.2 856.0h0.8v15.1h-0.8zM1324.6 734.9h1v15.1h-1zM1324.6 871.1h1v15.1h-1zM1326.4 750.1h1v15.1h-1z"/>
<path fill="#7a0a22" fill-opacity="0.95" d="M574.6 840.9h0.8v15.1h-0.8zM595 644.1h1.2000000000000455v15.1h-1.2000000000000455zM595 810.6h1.2000000000000455v30.3h-1.2000000000000455zM595 916.5h1.2000000000000455v60.5h-1.2000000000000455zM595 1007.3h1.2000000000000455v15.1h-1.2000000000000455zM595 1037.6h1.2000000000000455v15.1h-1.2000000000000455zM690.0 810.6h3v15.1h-3zM692.8 750.1h0.8v15.1h-0.8zM695.0 840.9h2v15.1h-2zM698.3 840.9h2v15.1h-2zM699.1 750.1h1.2v15.1h-1.2zM700.6 795.5h1.2v15.1h-1.2zM708.2 810.6h2.5v15.1h-2.5zM710.2 840.9h1.5v15.1h-1.5zM712.0 750.1h1.5v15.1h-1.5zM712.3 750.1h1v15.1h-1zM714.2 795.5h1v15.1h-1zM719.6 795.5h0.8v15.1h-0.8zM721.9 795.5h2v15.1h-2zM723.0 795.5h1v15.1h-1zM730.7 750.1h1.5v15.1h-1.5zM730.7 840.9h1.5v15.1h-1.5zM731.7 840.9h2.5v15.1h-2.5zM736.5 644.1h3.0v15.1h-3.0zM736.5 719.8h3.0v30.3h-3.0zM736.5 840.9h3.0v30.3h-3.0zM736.5 856.0h3.0v15.1h-3.0zM736.5 977.1h3.0v15.1h-3.0zM736.5 1007.3h3.0v15.1h-3.0zM736.5 1037.6h3.0v15.1h-3.0zM736.5 1067.9h3.0v15.1h-3.0zM761.6 1037.6h2v15.1h-2zM763.0 674.4h3v15.1h-3zM763.0 750.1h3v15.1h-3zM763.6 629.0h2v15.1h-2zM763.6 931.7h2v15.1h-2zM765.9 916.5h1.2v15.1h-1.2zM768.7 750.1h1v15.1h-1zM768.7 931.7h1v15.1h-1zM768.7 961.9h1v15.1h-1zM772.5 629.0h2.0v15.1h-2.0zM772.5 629.0h2.0v30.3h-2.0zM772.5 674.4h2.0v15.1h-2.0zM772.5 674.4h2.0v15.1h-2.0zM772.5 704.7h2.0v30.3h-2.0zM772.5 750.1h2.0v15.1h-2.0zM772.5 750.1h2.0v15.1h-2.0zM772.5 780.3h2.0v15.1h-2.0zM772.5 780.3h2.0v45.4h-2.0zM772.5 840.9h2.0v15.1h-2.0zM772.5 871.1h2.0v45.4h-2.0zM772.5 961.9h2.0v15.1h-2.0zM772.5 992.2h2.0v30.3h-2.0zM772.5 1007.3h2.0v60.5h-2.0zM772.5 1052.7h2.0v15.1h-2.0zM777.7 750.1h1v15.1h-1zM778.6 674.4h0.8v15.1h-0.8zM794.4 765.2h1v15.1h-1zM794.4 765.2h2v15.1h-2zM797.0 765.2h0.8v15.1h-0.8zM797.1 765.2h1.2v15.1h-1.2zM849 704.7h1.5v30.3h-1.5zM849 810.6h1.5v30.3h-1.5zM849 992.2h1.5v15.1h-1.5zM849 1022.5h1.5v15.1h-1.5zM867.5 629.0h1.5v15.1h-1.5zM867.5 734.9h1.5v30.3h-1.5zM867.5 856.0h1.5v30.3h-1.5zM867.5 1022.5h1.5v45.4h-1.5zM880 734.9h1.5v15.1h-1.5zM880 795.5h1.5v15.1h-1.5zM880 840.9h1.5v15.1h-1.5zM880 961.9h1.5v15.1h-1.5zM894.3 644.1h1v15.1h-1zM894.3 946.8h1v30.3h-1zM897.2 644.1h2.5v15.1h-2.5zM900.5 946.8h1.5v15.1h-1.5zM900.6 961.9h2v15.1h-2zM901.5 644.1h1.2v15.1h-1.2zM901.5 871.1h1.2v15.1h-1.2zM901.5 961.9h1.2v15.1h-1.2zM902.9 644.1h1v15.1h-1zM902.9 1067.9h1v15.1h-1zM903.5 961.9h0.8v15.1h-0.8zM904.7 856.0h2.5v15.1h-2.5zM904.7 916.5h2.5v15.1h-2.5zM904.8 916.5h2.5v15.1h-2.5zM905.5 961.9h1.5v15.1h-1.5zM905.5 1037.6h1.5v15.1h-1.5zM905.6 886.3h1.2v15.1h-1.2zM905.6 946.8h1.2v15.1h-1.2zM906.0 961.9h1.5v15.1h-1.5zM907.9 795.5h1v15.1h-1zM907.9 840.9h1v15.1h-1zM909.6 644.1h0.8v15.1h-0.8zM909.6 780.3h0.8v15.1h-0.8zM909.6 946.8h0.8v15.1h-0.8zM910.9 644.1h2v15.1h-2zM913.4 810.6h1v15.1h-1zM913.4 856.0h1v15.1h-1zM913.6 644.1h1.5v15.1h-1.5zM913.6 674.4h1.5v15.1h-1.5zM913.6 734.9h1.5v15.1h-1.5zM913.6 1067.9h1.5v15.1h-1.5zM913.7 961.9h0.6v15.1h-0.6zM913.7 1022.5h0.6v15.1h-0.6zM972.6 765.2h1.5v15.1h-1.5zM973.4 765.2h1v15.1h-1zM1028.8 795.5h1v15.1h-1zM1036.3 961.9h2.5v15.1h-2.5zM1037.0 644.1h2v30.3h-2zM1037.0 704.7h2v15.1h-2zM1037.0 856.0h2v15.1h-2zM1037.1 644.1h1.2v15.1h-1.2zM1037.1 689.5h1.2v15.1h-1.2zM1037.1 719.8h1.2v15.1h-1.2zM1037.1 795.5h1.2v15.1h-1.2zM1037.1 856.0h1.2v60.5h-1.2zM1037.1 977.1h1.2v15.1h-1.2zM1037.1 1037.6h1.2v30.3h-1.2zM1037.5 629.0h1.5v30.3h-1.5zM1037.5 689.5h1.5v15.1h-1.5zM1037.5 780.3h1.5v45.4h-1.5zM1037.5 840.9h1.5v30.3h-1.5zM1037.5 931.7h1.5v30.3h-1.5zM1037.5 1067.9h1.5v15.1h-1.5zM1038.4 977.1h1.5v15.1h-1.5zM1038.4 1022.5h1.5v15.1h-1.5zM1040.5 825.7h2.5v15.1h-2.5zM1040.5 992.2h2.5v30.3h-2.5zM1041.1 992.2h2.5v15.1h-2.5zM1043.2 704.7h0.6v30.3h-0.6zM1043.2 750.1h0.6v15.1h-0.6zM1043.2 780.3h0.6v15.1h-0.6zM1043.2 825.7h0.6v15.1h-0.6zM1043.2 871.1h0.6v15.1h-0.6zM1043.2 901.4h0.6v15.1h-0.6zM1043.2 946.8h0.6v30.3h-0.6zM1043.2 992.2h0.6v15.1h-0.6zM1043.2 1037.6h0.6v45.4h-0.6zM1046.5 977.1h3v15.1h-3zM1051.7 659.3h1v15.1h-1zM1053.9 644.1h3v15.1h-3zM1053.9 659.3h0.6v15.1h-0.6zM1053.9 689.5h0.6v15.1h-0.6zM1053.9 719.8h3v30.3h-3zM1053.9 810.6h3v15.1h-3zM1053.9 901.4h3v15.1h-3zM1053.9 916.5h0.6v15.1h-0.6zM1053.9 931.7h3v15.1h-3zM1053.9 961.9h0.6v15.1h-0.6zM1053.9 1037.6h3v30.3h-3zM1080.6 644.1h1.2v15.1h-1.2zM1080.6 704.7h1.2v15.1h-1.2zM1080.6 931.7h1.2v15.1h-1.2zM1084.7 719.8h1v15.1h-1zM1084.7 734.9h0.8v15.1h-0.8zM1084.7 1007.3h0.8v15.1h-0.8zM1084.7 1037.6h0.8v15.1h-0.8zM1086.8 734.9h2.5v15.1h-2.5zM1086.8 810.6h2.5v15.1h-2.5zM1086.9 734.9h2.5v15.1h-2.5zM1086.9 765.2h2.5v15.1h-2.5zM1086.9 871.1h2.5v15.1h-2.5zM1086.9 931.7h2.5v15.1h-2.5zM1086.9 961.9h2.5v15.1h-2.5zM1086.9 1067.9h2.5v15.1h-2.5zM1087.1 644.1h2.5v15.1h-2.5zM1087.9 674.4h1v15.1h-1zM1087.9 886.3h1v15.1h-1zM1088.2 734.9h2.5v15.1h-2.5zM1088.2 795.5h2.5v30.3h-2.5zM1088.8 734.9h2.5v15.1h-2.5zM1088.8 961.9h2.5v15.1h-2.5zM1088.8 1067.9h2.5v15.1h-2.5zM1090.5 644.1h2v15.1h-2zM1090.5 1022.5h2v15.1h-2zM1097.9 644.1h0.6v15.1h-0.6zM1097.9 734.9h0.6v15.1h-0.6zM1097.9 961.9h0.6v15.1h-0.6zM1156.1 629.0h1.5v15.1h-1.5zM1156.1 840.9h1.5v15.1h-1.5zM1156.8 719.8h0.6v15.1h-0.6zM1156.8 825.7h0.6v15.1h-0.6zM1157.2 750.1h0.6v15.1h-0.6zM1159.0 856.0h1v15.1h-1zM1159.0 1007.3h1v15.1h-1zM1162.6 689.5h3v15.1h-3zM1162.6 1067.9h3v15.1h-3zM1163.2 1007.3h2.5v15.1h-2.5zM1173.4 961.9h2v15.1h-2zM1173.4 1007.3h2v15.1h-2zM1174.1 1037.6h1.2v15.1h-1.2zM1174.9 825.7h1.2v15.1h-1.2zM1175.7 674.4h3v15.1h-3zM1175.7 886.3h3v15.1h-3zM1191.7 719.8h0.8v15.1h-0.8zM1191.7 810.6h0.8v15.1h-0.8zM1219.4 629.0h2v15.1h-2zM1219.4 1022.5h2v15.1h-2zM1219.5 719.8h2v15.1h-2zM1219.5 780.3h2v15.1h-2zM1219.5 871.1h2v15.1h-2zM1219.5 901.4h2v15.1h-2zM1219.5 1067.9h2v15.1h-2zM1221.9 644.1h2v15.1h-2zM1223.1 674.4h3v15.1h-3zM1223.1 810.6h3v45.4h-3zM1223.1 977.1h3v15.1h-3zM1223.1 1067.9h3v15.1h-3zM1225.8 659.3h2.5v15.1h-2.5zM1225.8 810.6h2.5v15.1h-2.5zM1226.1 689.5h0.6v15.1h-0.6zM1226.1 886.3h0.6v15.1h-0.6zM1226.1 931.7h0.6v15.1h-0.6zM1226.1 961.9h0.6v15.1h-0.6zM1226.1 992.2h0.6v15.1h-0.6zM1226.8 719.8h2.5v15.1h-2.5zM1226.8 750.1h2.5v15.1h-2.5zM1226.8 840.9h2.5v15.1h-2.5zM1226.8 961.9h2.5v15.1h-2.5zM1226.8 992.2h2.5v15.1h-2.5zM1228.3 629.0h1v15.1h-1zM1228.3 674.4h1v15.1h-1zM1228.3 704.7h1v15.1h-1zM1228.3 825.7h1v30.3h-1zM1228.3 916.5h1v15.1h-1zM1228.3 946.8h1v15.1h-1zM1228.3 992.2h1v15.1h-1zM1228.3 1052.7h1v30.3h-1zM1229.3 704.7h1.2v15.1h-1.2zM1229.3 765.2h1.2v15.1h-1.2zM1230.1 765.2h0.6v15.1h-0.6zM1230.1 856.0h0.6v15.1h-0.6zM1230.1 977.1h0.6v15.1h-0.6zM1230.1 992.2h2v15.1h-2zM1230.1 1037.6h0.6v15.1h-0.6zM1230.9 659.3h0.6v15.1h-0.6zM1230.9 689.5h0.6v15.1h-0.6zM1230.9 810.6h0.6v15.1h-0.6zM1230.9 886.3h0.6v15.1h-0.6zM1230.9 1022.5h0.6v15.1h-0.6zM1230.9 1067.9h0.6v15.1h-0.6zM1231.2 871.1h1.5v15.1h-1.5zM1231.5 946.8h3v15.1h-3zM1231.9 840.9h0.6v15.1h-0.6zM1233.0 629.0h0.6v15.1h-0.6zM1233.0 689.5h0.6v15.1h-0.6zM1233.0 795.5h0.6v15.1h-0.6zM1233.0 961.9h0.6v30.3h-0.6zM1233.0 1052.7h0.6v15.1h-0.6zM1233.9 1022.5h3v15.1h-3zM1233.9 1052.7h3v15.1h-3zM1234.6 1007.3h0.6v15.1h-0.6zM1259.2 750.1h1.5v15.1h-1.5zM1260.0 659.3h2v15.1h-2zM1260.0 689.5h2v15.1h-2zM1260.3 840.9h1.5v15.1h-1.5zM1261.1 825.7h1.2v15.1h-1.2zM1261.1 916.5h1.2v15.1h-1.2zM1262.3 629.0h1v15.1h-1zM1262.3 871.1h1v15.1h-1zM1264.3 916.5h2.5v15.1h-2.5zM1264.3 961.9h2.5v15.1h-2.5zM1266.0 629.0h1.2v15.1h-1.2zM1266.0 704.7h1.2v15.1h-1.2zM1266.0 871.1h1.2v15.1h-1.2zM1266.0 1007.3h1.2v15.1h-1.2zM1270.0 856.0h1.2v15.1h-1.2zM1270.0 992.2h1.2v15.1h-1.2zM1270.5 871.1h0.8v15.1h-0.8zM1270.8 659.3h3v15.1h-3zM1271.9 825.7h0.6v15.1h-0.6zM1271.9 901.4h0.6v15.1h-0.6zM1272.2 1037.6h2v15.1h-2zM1272.7 719.8h1.2v15.1h-1.2zM1272.7 1007.3h1.2v15.1h-1.2zM1272.9 689.5h1v15.1h-1zM1272.9 886.3h1v15.1h-1zM1273.5 750.1h1.2v15.1h-1.2zM1273.5 871.1h1.2v15.1h-1.2zM1273.5 931.7h1.2v15.1h-1.2zM1273.9 734.9h1v15.1h-1zM1277.4 916.5h2v15.1h-2zM1277.8 1022.5h1.2v15.1h-1.2zM1280.0 961.9h2v15.1h-2zM1280.2 765.2h1.5v15.1h-1.5zM1280.2 1022.5h1.5v15.1h-1.5zM1281.1 629.0h0.6v15.1h-0.6zM1281.1 659.3h0.6v15.1h-0.6zM1281.1 750.1h0.6v15.1h-0.6zM1283.8 629.0h2v15.1h-2zM1284.3 780.3h2.5v15.1h-2.5zM1284.3 871.1h2.5v15.1h-2.5zM1284.3 901.4h2.5v15.1h-2.5zM1285.0 704.7h1.5v15.1h-1.5zM1285.0 765.2h1.5v15.1h-1.5zM1285.1 734.9h1v15.1h-1zM1285.1 886.3h1v15.1h-1zM1285.1 1037.6h1v15.1h-1zM1287.1 659.3h2v15.1h-2zM1289.0 871.1h1.2v15.1h-1.2zM1289.1 629.0h3v15.1h-3zM1289.6 901.4h0.8v15.1h-0.8zM1290.8 977.1h0.6v15.1h-0.6zM1291.2 1022.5h0.6v15.1h-0.6zM1291.8 856.0h1.2v15.1h-1.2zM1293.1 734.9h0.6v15.1h-0.6zM1293.4 644.1h3v15.1h-3zM1293.4 704.7h3v15.1h-3zM1293.4 946.8h2.5v15.1h-2.5zM1294.3 1067.9h2.5v15.1h-2.5zM1294.9 795.5h1v15.1h-1zM1295.4 780.3h1.5v15.1h-1.5zM1295.4 901.4h3v15.1h-3zM1295.4 1037.6h1.5v15.1h-1.5zM1296.4 780.3h1.5v15.1h-1.5zM1296.5 629.0h1v15.1h-1zM1296.5 871.1h1v15.1h-1zM1296.5 931.7h1v15.1h-1zM1298.8 689.5h1.5v15.1h-1.5zM1298.8 961.9h1.5v15.1h-1.5zM1298.8 1067.9h1.5v15.1h-1.5zM1299.0 795.5h0.8v15.1h-0.8zM1299.0 1037.6h0.8v15.1h-0.8zM1299.3 704.7h1.5v15.1h-1.5zM1299.3 810.6h1.5v15.1h-1.5zM1299.3 977.1h1.5v30.3h-1.5zM1299.3 1067.9h1.5v15.1h-1.5zM1299.7 704.7h0.8v15.1h-0.8zM1299.7 1022.5h0.8v15.1h-0.8zM1300.3 644.1h1.2v15.1h-1.2zM1300.3 704.7h1.2v15.1h-1.2zM1300.3 734.9h1.2v15.1h-1.2zM1300.3 946.8h1.2v15.1h-1.2zM1300.3 1052.7h1.2v15.1h-1.2zM1300.6 1022.5h2v15.1h-2zM1301.1 916.5h2.5v15.1h-2.5zM1303.8 629.0h1.5v15.1h-1.5zM1306.8 780.3h3v15.1h-3zM1307.2 750.1h1.5v15.1h-1.5zM1307.7 629.0h2v15.1h-2zM1307.7 780.3h2v15.1h-2zM1307.9 659.3h1v15.1h-1zM1307.9 931.7h1v15.1h-1zM1307.9 1037.6h1v15.1h-1zM1309.2 659.3h0.6v15.1h-0.6zM1309.2 840.9h0.6v15.1h-0.6zM1309.2 901.4h0.6v15.1h-0.6zM1309.2 992.2h0.6v15.1h-0.6zM1309.2 1052.7h0.6v15.1h-0.6zM1309.9 734.9h1.5v15.1h-1.5zM1309.9 765.2h1.5v15.1h-1.5zM1309.9 810.6h1.5v15.1h-1.5zM1309.9 840.9h1.5v15.1h-1.5zM1309.9 916.5h1.5v15.1h-1.5zM1309.9 946.8h1.5v15.1h-1.5zM1309.9 992.2h1.5v15.1h-1.5zM1309.9 1067.9h1.5v15.1h-1.5zM1310.4 659.3h1.5v15.1h-1.5zM1310.4 810.6h1.5v15.1h-1.5zM1310.4 871.1h1.5v15.1h-1.5zM1310.4 901.4h1.5v15.1h-1.5zM1310.6 689.5h2.5v15.1h-2.5zM1310.6 734.9h2.5v15.1h-2.5zM1310.6 780.3h2.5v15.1h-2.5zM1310.6 825.7h2.5v15.1h-2.5zM1310.6 886.3h2.5v45.4h-2.5zM1310.6 961.9h2.5v15.1h-2.5zM1310.6 1007.3h2.5v15.1h-2.5zM1310.6 1037.6h2.5v30.3h-2.5zM1311.7 734.9h0.6v15.1h-0.6zM1311.7 795.5h0.6v15.1h-0.6zM1311.7 901.4h0.6v30.3h-0.6zM1311.8 644.1h0.6v15.1h-0.6zM1311.8 1007.3h0.6v15.1h-0.6zM1311.8 1067.9h0.6v15.1h-0.6zM1312.1 644.1h2.5v15.1h-2.5zM1312.1 689.5h2.5v30.3h-2.5zM1312.1 795.5h2.5v15.1h-2.5zM1312.1 901.4h2.5v15.1h-2.5zM1312.1 946.8h2.5v15.1h-2.5zM1312.1 1037.6h2.5v30.3h-2.5zM1313.9 704.7h1.2v15.1h-1.2zM1313.9 780.3h1.2v15.1h-1.2zM1313.9 840.9h1.2v15.1h-1.2zM1313.9 916.5h1.2v30.3h-1.2zM1313.9 1067.9h1.2v15.1h-1.2zM1315.3 674.4h0.6v15.1h-0.6zM1315.6 719.8h1.5v15.1h-1.5zM1315.6 886.3h1.5v15.1h-1.5zM1315.6 1037.6h1.5v15.1h-1.5zM1315.6 1067.9h1.5v15.1h-1.5zM1316.1 674.4h1v15.1h-1zM1316.1 704.7h1v45.4h-1zM1316.1 795.5h1v15.1h-1zM1316.1 825.7h1v15.1h-1zM1316.1 901.4h1v15.1h-1zM1316.1 931.7h1v15.1h-1zM1316.1 992.2h1v15.1h-1zM1316.1 1037.6h1v30.3h-1zM1316.5 659.3h1.5v15.1h-1.5zM1316.5 689.5h1.5v15.1h-1.5zM1316.5 704.7h1.2v15.1h-1.2zM1316.5 750.1h1.5v30.3h-1.5zM1316.5 840.9h1v15.1h-1zM1316.5 901.4h1.5v15.1h-1.5zM1316.5 916.5h1v15.1h-1zM1316.5 1007.3h1.2v15.1h-1.2zM1317.0 780.3h0.8v15.1h-0.8zM1317.0 810.6h0.8v15.1h-0.8zM1317.0 886.3h0.8v15.1h-0.8zM1317.0 931.7h0.8v15.1h-0.8zM1317.8 629.0h1v15.1h-1zM1317.8 750.1h1v15.1h-1zM1317.8 856.0h1v15.1h-1zM1317.8 961.9h1v15.1h-1zM1317.9 946.8h2.5v15.1h-2.5zM1317.9 992.2h2.5v30.3h-2.5zM1318.8 644.1h2.5v30.3h-2.5zM1318.8 689.5h2.5v15.1h-2.5zM1318.8 840.9h2.5v30.3h-2.5zM1318.8 916.5h2.5v15.1h-2.5zM1318.8 1007.3h2.5v15.1h-2.5zM1318.8 1052.7h2.5v15.1h-2.5zM1318.9 659.3h0.8v30.3h-0.8zM1318.9 719.8h0.8v15.1h-0.8zM1318.9 810.6h0.8v30.3h-0.8zM1318.9 871.1h0.8v15.1h-0.8zM1318.9 901.4h0.6v30.3h-0.6zM1318.9 1022.5h0.8v15.1h-0.8zM1319.1 674.4h1.2v15.1h-1.2zM1319.1 977.1h1.2v15.1h-1.2zM1319.5 629.0h1.2v15.1h-1.2zM1319.5 750.1h1.2v30.3h-1.2zM1319.5 840.9h1.2v15.1h-1.2zM1319.5 931.7h1.2v15.1h-1.2zM1319.5 1052.7h1.2v15.1h-1.2zM1319.9 689.5h2v15.1h-2zM1319.9 1007.3h2v15.1h-2zM1319.9 1037.6h2v15.1h-2zM1320.5 765.2h2.5v15.1h-2.5zM1320.5 795.5h2.5v15.1h-2.5zM1320.5 825.7h2.5v15.1h-2.5zM1320.5 901.4h2.5v15.1h-2.5zM1320.5 931.7h2.5v15.1h-2.5zM1320.5 992.2h2.5v15.1h-2.5zM1320.5 1067.9h2.5v15.1h-2.5zM1321.0 765.2h1v15.1h-1zM1321.0 825.7h1v15.1h-1zM1321.0 1037.6h1v15.1h-1zM1321.2 704.7h2.5v45.4h-2.5zM1321.2 961.9h2.5v15.1h-2.5zM1321.2 1037.6h2.5v15.1h-2.5zM1321.3 644.1h1.2v60.5h-1.2zM1321.3 765.2h1.2v15.1h-1.2zM1321.3 795.5h1.2v15.1h-1.2zM1321.3 825.7h1.2v15.1h-1.2zM1321.3 916.5h1.2v15.1h-1.2zM1321.3 1037.6h1.2v15.1h-1.2zM1321.3 1067.9h1.2v15.1h-1.2zM1321.8 644.1h2v15.1h-2zM1321.8 916.5h2v15.1h-2zM1321.8 946.8h2v15.1h-2zM1321.8 1052.7h2v15.1h-2zM1323.0 659.3h1v15.1h-1zM1323.0 765.2h1v15.1h-1zM1323.0 840.9h1v15.1h-1zM1323.0 886.3h1v15.1h-1zM1323.0 992.2h1v30.3h-1zM1323.2 629.0h0.8v15.1h-0.8zM1323.2 674.4h0.8v30.3h-0.8zM1323.2 734.9h0.8v15.1h-0.8zM1323.2 780.3h0.8v15.1h-0.8zM1323.2 871.1h0.8v15.1h-0.8zM1323.2 901.4h0.8v15.1h-0.8zM1323.2 946.8h0.8v15.1h-0.8zM1323.2 1007.3h0.8v15.1h-0.8zM1323.3 644.1h1.2v15.1h-1.2zM1323.3 780.3h1.2v15.1h-1.2zM1323.3 931.7h1.2v30.3h-1.2zM1324.6 629.0h1v15.1h-1zM1324.6 825.7h1v45.4h-1zM1324.6 886.3h1v15.1h-1zM1324.6 916.5h1v15.1h-1zM1324.6 946.8h1v15.1h-1zM1324.6 1022.5h1v15.1h-1zM1326.2 689.5h1.2v15.1h-1.2zM1326.2 795.5h1.2v15.1h-1.2zM1326.2 856.0h1.2v30.3h-1.2zM1326.2 946.8h1.2v30.3h-1.2zM1326.2 961.9h1.2v45.4h-1.2zM1326.2 1052.7h1.2v15.1h-1.2zM1326.4 961.9h1v15.1h-1zM1326.6 659.3h2.5v15.1h-2.5zM1326.6 871.1h2.5v15.1h-2.5zM1327.9 750.1h0.8v15.1h-0.8zM1327.9 1007.3h0.8v30.3h-0.8z"/>
<path fill="#d6604d" fill-opacity="0.95" d="M595 719.8h1.2000000000000455v15.1h-1.2000000000000455zM706.6 750.1h1v15.1h-1zM714.8 810.6h2v15.1h-2zM736.5 765.2h3.0v15.1h-3.0zM772.5 659.3h2.0v15.1h-2.0zM772.5 916.5h2.0v15.1h-2.0zM772.5 1067.9h2.0v15.1h-2.0zM867.5 795.5h1.5v15.1h-1.5zM880 916.5h1.5v15.1h-1.5zM894.3 916.5h1v15.1h-1zM897.2 946.8h2.5v15.1h-2.5zM900.6 1037.6h2v15.1h-2zM906.4 961.9h1v15.1h-1zM907.9 946.8h1v15.1h-1zM913.6 1052.7h1.5v15.1h-1.5zM1037.1 734.9h1.2v15.1h-1.2zM1037.1 780.3h1.2v15.1h-1.2zM1037.1 961.9h1.2v15.1h-1.2zM1037.5 659.3h1.5v15.1h-1.5zM1037.5 734.9h1.5v15.1h-1.5zM1040.5 1037.6h2.5v15.1h-2.5zM1053.5 886.3h1.5v15.1h-1.5zM1053.5 1022.5h1.5v15.1h-1.5zM1053.9 765.2h0.6v15.1h-0.6zM1053.9 825.7h3v15.1h-3zM1053.9 871.1h3v15.1h-3zM1053.9 946.8h3v30.3h-3zM1084.7 629.0h1v15.1h-1zM1090.5 734.9h2v15.1h-2zM1156.8 780.3h0.6v15.1h-0.6zM1163.2 946.8h2.5v15.1h-2.5zM1172.3 992.2h2.5v15.1h-2.5zM1226.1 1037.6h0.6v15.1h-0.6zM1230.1 810.6h0.6v15.1h-0.6zM1231.5 629.0h3v15.1h-3zM1285.1 674.4h1v15.1h-1zM1290.8 840.9h0.6v15.1h-0.6zM1294.0 704.7h2.5v15.1h-2.5zM1299.0 810.6h0.8v15.1h-0.8zM1304.9 719.8h0.6v15.1h-0.6zM1307.7 750.1h2v15.1h-2zM1309.9 825.7h1.5v15.1h-1.5zM1312.1 840.9h2.5v15.1h-2.5zM1312.1 992.2h2.5v15.1h-2.5zM1315.6 871.1h1.5v15.1h-1.5zM1315.6 931.7h1.5v15.1h-1.5zM1318.8 992.2h2.5v15.1h-2.5zM1318.8 1037.6h2.5v15.1h-2.5zM1320.5 780.3h2.5v15.1h-2.5zM1321.2 1007.3h2.5v30.3h-2.5zM1321.3 840.9h1.2v15.1h-1.2zM1323.0 825.7h1v15.1h-1zM1323.2 977.1h0.8v15.1h-0.8zM1324.6 689.5h1v15.1h-1zM1324.6 1067.9h1v15.1h-1zM1326.2 644.1h1.2v15.1h-1.2zM1326.2 704.7h1.2v30.3h-1.2zM1326.6 795.5h2.5v15.1h-2.5z"/>
<path fill="#f4a582" fill-opacity="0.95" d="M595 977.1h1.2000000000000455v15.1h-1.2000000000000455zM706.6 810.6h1v15.1h-1zM712.0 810.6h1.5v15.1h-1.5zM772.5 704.7h2.0v15.1h-2.0zM772.5 765.2h2.0v15.1h-2.0zM772.5 810.6h2.0v15.1h-2.0zM849 780.3h1.5v15.1h-1.5zM849 856.0h1.5v15.1h-1.5zM849 901.4h1.5v15.1h-1.5zM906.4 750.1h1v15.1h-1zM1037.5 977.1h1.5v15.1h-1.5zM1051.7 992.2h1v15.1h-1zM1053.9 750.1h0.6v15.1h-0.6zM1053.9 916.5h3v15.1h-3zM1084.7 629.0h0.8v15.1h-0.8zM1086.9 810.6h2.5v15.1h-2.5zM1087.1 734.9h2.5v15.1h-2.5zM1087.9 977.1h1v15.1h-1zM1088.2 1052.7h2.5v15.1h-2.5zM1088.8 689.5h2.5v15.1h-2.5zM1231.9 946.8h0.6v15.1h-0.6zM1260.3 931.7h1.5v15.1h-1.5zM1260.3 992.2h1.5v15.1h-1.5zM1277.8 840.9h1.2v15.1h-1.2zM1283.0 901.4h1v15.1h-1zM1295.4 977.1h1.5v15.1h-1.5zM1296.4 704.7h1.5v15.1h-1.5zM1300.3 795.5h1.2v15.1h-1.2zM1304.6 1007.3h2v15.1h-2zM1309.2 719.8h0.6v15.1h-0.6zM1309.9 674.4h1.5v15.1h-1.5zM1312.1 916.5h2.5v15.1h-2.5zM1312.1 961.9h2.5v30.3h-2.5zM1313.9 795.5h1.2v15.1h-1.2zM1317.9 886.3h2.5v15.1h-2.5zM1318.9 916.5h0.8v30.3h-0.8zM1319.5 856.0h1.2v15.1h-1.2zM1321.8 750.1h2v15.1h-2zM1323.3 871.1h1.2v15.1h-1.2zM1326.2 901.4h1.2v15.1h-1.2zM1326.6 674.4h2.5v15.1h-2.5zM1326.6 704.7h2.5v15.1h-2.5z"/>
<rect x="552.7" y="629.0" width="777.9" height="454.0" fill="none" stroke="#1a1a1a" stroke-width="1.3"/>
<line x1="1308.7" y1="629.0" x2="1308.7" y2="1083.0" stroke="#1a1a1a" stroke-width="1.3"/>
<rect x="551.7" y="618.6" width="709.9" height="8.4" fill="#B3B3B3"/>
<rect x="1261.6" y="618.6" width="69.5" height="8.4" fill="#F9BCC8"/>
<text x="884.0" y="615.5" font-size="19" textLength="115.0" lengthAdjust="spacing">Background</text>
<text x="1253.3" y="615.5" font-size="19" textLength="91.0" lengthAdjust="spacing">High-Risk</text>
<path d="M929.7 600V589.3H1300.7V600" fill="none" stroke="#1a1a1a" stroke-width="1.4"/>
<text x="1054.0" y="583.0" font-size="19" textLength="147.0" lengthAdjust="spacing"><tspan font-style="italic">P</tspan> = 9.25 × 10<tspan font-size="13" dy="-8">-9</tspan></text>
<line x1="550.5" y1="636.6" x2="552.7" y2="636.6" stroke="#1a1a1a" stroke-width="1.1"/>
<text x="547.3" y="643.6" font-size="19.5" text-anchor="end">MDK</text>
<line x1="550.5" y1="651.7" x2="552.7" y2="651.7" stroke="#1a1a1a" stroke-width="1.1"/>
<text x="547.3" y="658.7" font-size="19.5" text-anchor="end">CALD1</text>
<line x1="550.5" y1="666.8" x2="552.7" y2="666.8" stroke="#1a1a1a" stroke-width="1.1"/>
<text x="547.3" y="673.8" font-size="19.5" text-anchor="end">MYL9</text>
<line x1="550.5" y1="682.0" x2="552.7" y2="682.0" stroke="#1a1a1a" stroke-width="1.1"/>
<text x="547.3" y="689.0" font-size="19.5" text-anchor="end">TPM2</text>
<line x1="550.5" y1="697.1" x2="552.7" y2="697.1" stroke="#1a1a1a" stroke-width="1.1"/>
<text x="547.3" y="704.1" font-size="19.5" text-anchor="end">COL6A1</text>
<line x1="550.5" y1="712.2" x2="552.7" y2="712.2" stroke="#1a1a1a" stroke-width="1.1"/>
<text x="547.3" y="719.2" font-size="19.5" text-anchor="end">COL6A2</text>
<line x1="550.5" y1="727.4" x2="552.7" y2="727.4" stroke="#1a1a1a" stroke-width="1.1"/>
<text x="547.3" y="734.4" font-size="19.5" text-anchor="end">CRIP2</text>
<line x1="550.5" y1="742.5" x2="552.7" y2="742.5" stroke="#1a1a1a" stroke-width="1.1"/>
<text x="547.3" y="749.5" font-size="19.5" text-anchor="end">IGFBP7</text>
<line x1="550.5" y1="757.6" x2="552.7" y2="757.6" stroke="#1a1a1a" stroke-width="1.1"/>
<text x="547.3" y="764.6" font-size="19.5" text-anchor="end">TM4SF1</text>
<line x1="550.5" y1="772.8" x2="552.7" y2="772.8" stroke="#1a1a1a" stroke-width="1.1"/>
<text x="547.3" y="779.8" font-size="19.5" text-anchor="end">FN1</text>
<line x1="550.5" y1="787.9" x2="552.7" y2="787.9" stroke="#1a1a1a" stroke-width="1.1"/>
<text x="547.3" y="794.9" font-size="19.5" text-anchor="end">BGN</text>
<line x1="550.5" y1="803.0" x2="552.7" y2="803.0" stroke="#1a1a1a" stroke-width="1.1"/>
<text x="547.3" y="810.0" font-size="19.5" text-anchor="end">PALLD</text>
<line x1="550.5" y1="818.2" x2="552.7" y2="818.2" stroke="#1a1a1a" stroke-width="1.1"/>
<text x="547.3" y="825.2" font-size="19.5" text-anchor="end">CYR61</text>
<line x1="550.5" y1="833.3" x2="552.7" y2="833.3" stroke="#1a1a1a" stroke-width="1.1"/>
<text x="547.3" y="840.3" font-size="19.5" text-anchor="end">COL1A1</text>
<line x1="550.5" y1="848.4" x2="552.7" y2="848.4" stroke="#1a1a1a" stroke-width="1.1"/>
<text x="547.3" y="855.4" font-size="19.5" text-anchor="end">FBLIM1</text>
<line x1="550.5" y1="863.6" x2="552.7" y2="863.6" stroke="#1a1a1a" stroke-width="1.1"/>
<text x="547.3" y="870.6" font-size="19.5" text-anchor="end">NNMT</text>
<line x1="550.5" y1="878.7" x2="552.7" y2="878.7" stroke="#1a1a1a" stroke-width="1.1"/>
<text x="547.3" y="885.7" font-size="19.5" text-anchor="end">COL1A2</text>
<line x1="550.5" y1="893.8" x2="552.7" y2="893.8" stroke="#1a1a1a" stroke-width="1.1"/>
<text x="547.3" y="900.8" font-size="19.5" text-anchor="end">FBLN1</text>
<line x1="550.5" y1="909.0" x2="552.7" y2="909.0" stroke="#1a1a1a" stroke-width="1.1"/>
<text x="547.3" y="916.0" font-size="19.5" text-anchor="end">SPARC</text>
<line x1="550.5" y1="924.1" x2="552.7" y2="924.1" stroke="#1a1a1a" stroke-width="1.1"/>
<text x="547.3" y="931.1" font-size="19.5" text-anchor="end">MAP1B</text>
<line x1="550.5" y1="939.2" x2="552.7" y2="939.2" stroke="#1a1a1a" stroke-width="1.1"/>
<text x="547.3" y="946.2" font-size="19.5" text-anchor="end">PRSS23</text>
<line x1="550.5" y1="954.4" x2="552.7" y2="954.4" stroke="#1a1a1a" stroke-width="1.1"/>
<text x="547.3" y="961.4" font-size="19.5" text-anchor="end">C1S</text>
<line x1="550.5" y1="969.5" x2="552.7" y2="969.5" stroke="#1a1a1a" stroke-width="1.1"/>
<text x="547.3" y="976.5" font-size="19.5" text-anchor="end">KDELR3</text>
<line x1="550.5" y1="984.6" x2="552.7" y2="984.6" stroke="#1a1a1a" stroke-width="1.1"/>
<text x="547.3" y="991.6" font-size="19.5" text-anchor="end">PCOLCE</text>
<line x1="550.5" y1="999.8" x2="552.7" y2="999.8" stroke="#1a1a1a" stroke-width="1.1"/>
<text x="547.3" y="1006.8" font-size="19.5" text-anchor="end">RBPMS</text>
<line x1="550.5" y1="1014.9" x2="552.7" y2="1014.9" stroke="#1a1a1a" stroke-width="1.1"/>
<text x="547.3" y="1021.9" font-size="19.5" text-anchor="end">MGP</text>
<line x1="550.5" y1="1030.0" x2="552.7" y2="1030.0" stroke="#1a1a1a" stroke-width="1.1"/>
<text x="547.3" y="1037.0" font-size="19.5" text-anchor="end">FKBP10</text>
<line x1="550.5" y1="1045.2" x2="552.7" y2="1045.2" stroke="#1a1a1a" stroke-width="1.1"/>
<text x="547.3" y="1052.2" font-size="19.5" text-anchor="end">CERCAM</text>
<line x1="550.5" y1="1060.3" x2="552.7" y2="1060.3" stroke="#1a1a1a" stroke-width="1.1"/>
<text x="547.3" y="1067.3" font-size="19.5" text-anchor="end">COL6A3</text>
<line x1="550.5" y1="1075.4" x2="552.7" y2="1075.4" stroke="#1a1a1a" stroke-width="1.1"/>
<text x="547.3" y="1082.4" font-size="19.5" text-anchor="end">TGFB1I1</text>
<text x="470.0" y="853.0" font-size="18.5" text-anchor="middle" textLength="132.0" lengthAdjust="spacing" transform="rotate(-90 470.0 853.0)">Marker Genes</text>
<defs><linearGradient id="cb" x1="0" y1="1" x2="0" y2="0"><stop offset="0.00" stop-color="#053061"/><stop offset="0.10" stop-color="#2166ac"/><stop offset="0.20" stop-color="#4393c3"/><stop offset="0.30" stop-color="#92c5de"/><stop offset="0.40" stop-color="#d1e5f0"/><stop offset="0.50" stop-color="#f7f7f7"/><stop offset="0.60" stop-color="#fddbc7"/><stop offset="0.70" stop-color="#f4a582"/><stop offset="0.80" stop-color="#d6604d"/><stop offset="0.90" stop-color="#b2182b"/><stop offset="1.00" stop-color="#67001f"/></linearGradient></defs>
<rect x="1337.9" y="821.8" width="18.1" height="260.8" fill="url(#cb)" stroke="#1a1a1a" stroke-width="1"/>
<line x1="1356.0" y1="821.8" x2="1359.9" y2="821.8" stroke="#1a1a1a" stroke-width="1.1"/>
<text x="1361.4" y="828.8" font-size="19.5">2</text>
<line x1="1356.0" y1="887.0" x2="1359.9" y2="887.0" stroke="#1a1a1a" stroke-width="1.1"/>
<text x="1361.4" y="894.0" font-size="19.5">1</text>
<line x1="1356.0" y1="952.2" x2="1359.9" y2="952.2" stroke="#1a1a1a" stroke-width="1.1"/>
<text x="1361.4" y="959.2" font-size="19.5">0</text>
<line x1="1356.0" y1="1017.4" x2="1359.9" y2="1017.4" stroke="#1a1a1a" stroke-width="1.1"/>
<text x="1361.4" y="1024.4" font-size="19.5">-1</text>
<line x1="1356.0" y1="1082.6" x2="1359.9" y2="1082.6" stroke="#1a1a1a" stroke-width="1.1"/>
<text x="1361.4" y="1089.6" font-size="19.5">-2</text>
<text x="3.0" y="16.0" font-size="27" font-weight="bold" fill="#231f20">a</text>
<path d="M335.0 26.0C337.5 25.2 341.7 32.2 345.0 33.0C348.3 33.8 352.1 31.1 355.0 31.0C357.9 30.9 359.2 31.4 362.5 32.5C365.8 33.6 370.8 34.8 375.0 37.5C379.2 40.2 382.9 46.1 387.5 49.0C392.1 51.9 399.6 53.2 402.5 55.0C405.4 56.8 400.6 59.0 405.0 60.0C409.4 61.0 426.5 59.8 429.0 61.0C431.5 62.2 422.8 65.2 420.0 67.5C417.2 69.8 413.5 70.8 412.5 75.0C411.5 79.2 414.0 87.5 414.0 92.5C414.0 97.5 413.2 101.2 412.5 105.0C411.8 108.8 411.2 111.7 410.0 115.0C408.8 118.3 407.5 121.7 405.0 125.0C402.5 128.3 397.3 131.2 395.0 135.0C392.7 138.8 391.8 142.9 391.0 147.5C390.2 152.1 390.8 157.9 390.0 162.5C389.2 167.1 387.7 171.2 386.0 175.0C384.3 178.8 382.7 181.2 380.0 185.0C377.3 188.8 373.3 193.3 370.0 197.5C366.7 201.7 362.9 206.2 360.0 210.0C357.1 213.8 355.0 216.7 352.5 220.0C350.0 223.3 347.9 226.7 345.0 230.0C342.1 233.3 338.3 237.1 335.0 240.0C331.7 242.9 330.8 244.2 325.0 247.5C319.2 250.8 308.3 257.1 300.0 260.0C291.7 262.9 281.2 263.3 275.0 265.0C268.8 266.7 266.7 268.8 262.5 270.0C258.3 271.2 254.2 272.9 250.0 272.5C245.8 272.1 241.7 270.4 237.5 267.5C233.3 264.6 228.3 258.8 225.0 255.0C221.7 251.2 219.6 250.0 217.5 245.0C215.4 240.0 213.8 231.2 212.5 225.0C211.2 218.8 210.2 213.3 210.0 207.5C209.8 201.7 210.6 196.2 211.0 190.0C211.4 183.8 211.4 175.8 212.5 170.0C213.6 164.2 215.4 160.0 217.5 155.0C219.6 150.0 221.7 145.0 225.0 140.0C228.3 135.0 236.2 128.8 237.5 125.0C238.8 121.2 232.9 120.8 232.5 117.5C232.1 114.2 233.3 110.0 235.0 105.0C236.7 100.0 239.6 92.5 242.5 87.5C245.4 82.5 249.2 79.6 252.5 75.0C255.8 70.4 258.8 62.9 262.5 60.0C266.2 57.1 270.4 59.2 275.0 57.5C279.6 55.8 287.3 52.9 290.0 50.0C292.7 47.1 288.9 41.7 291.0 40.0C293.1 38.3 299.3 39.6 302.5 40.0C305.7 40.4 307.1 42.1 310.0 42.5C312.9 42.9 316.7 43.3 320.0 42.5C323.3 41.7 327.5 40.2 330.0 37.5C332.5 34.8 332.5 26.8 335.0 26.0Z" fill="#FFE86A" filter="url(#spD)"/>
<path d="M475.0 60.9C476.6 59.6 479.8 59.0 482.6 59.0C485.5 59.0 489.6 59.8 492.1 60.9C494.6 62.0 495.0 64.6 497.8 65.6C500.6 66.5 505.7 66.6 509.2 66.6C512.7 66.6 515.5 65.9 518.7 65.6C521.9 65.3 525.4 64.2 528.2 64.7C531.1 65.2 533.9 66.6 535.8 68.5C537.7 70.4 536.8 74.2 539.6 76.1C542.5 78.0 548.5 78.3 552.9 79.9C557.3 81.5 562.5 83.4 566.3 85.6C570.1 87.8 573.3 90.3 575.8 93.2C578.3 96.1 580.4 99.2 581.5 102.7C582.6 106.2 582.7 110.6 582.4 114.1C582.1 117.6 581.6 120.8 579.6 123.6C577.6 126.4 574.2 129.4 570.1 131.2C566.0 132.9 559.9 133.5 554.8 134.1C549.7 134.7 544.6 134.7 539.6 135.0C534.6 135.3 529.6 135.8 524.5 136.0C519.4 136.2 514.3 136.3 509.2 136.0C504.1 135.7 498.8 134.9 494.0 134.1C489.2 133.3 484.8 132.6 480.7 131.2C476.6 129.8 472.5 127.7 469.3 125.5C466.1 123.3 463.9 120.8 461.7 117.9C459.5 115.1 456.6 112.2 456.0 108.4C455.4 104.6 456.0 99.2 457.9 95.1C459.8 91.0 465.2 86.9 467.4 83.7C469.6 80.5 470.2 78.9 471.2 76.1C472.1 73.2 472.5 69.1 473.1 66.6C473.7 64.1 473.4 62.2 475.0 60.9Z" fill="#B5B1D8" filter="url(#spM)"/>
<path d="M446.4 133.1C448.0 133.4 449.2 135.0 450.2 136.9C451.1 138.8 451.3 142.0 452.1 144.5C452.9 147.0 455.0 149.2 455.0 152.1C455.0 155.0 452.9 158.5 452.1 161.7C451.3 164.9 450.8 167.7 450.2 171.2C449.6 174.7 449.2 179.4 448.3 182.6C447.4 185.8 445.8 187.0 444.5 190.2C443.2 193.4 442.0 198.4 440.7 201.6C439.4 204.8 438.2 206.3 436.9 209.2C435.6 212.0 434.4 215.5 433.1 218.7C431.8 221.9 430.6 224.7 429.3 228.2C428.0 231.7 426.6 235.1 425.5 239.6C424.4 244.1 423.8 249.9 422.5 255.0C421.2 260.1 420.1 266.0 418.0 270.0C415.9 274.0 413.0 277.8 410.0 279.0C407.0 280.2 403.3 279.0 400.0 277.5C396.7 276.0 393.3 273.2 390.0 270.0C386.7 266.8 382.3 261.4 380.0 258.0C377.7 254.7 376.4 254.9 376.1 249.9C375.8 244.9 377.1 235.0 378.0 228.2C378.9 221.4 379.9 215.5 381.8 209.2C383.7 202.9 386.5 196.5 389.4 190.2C392.2 183.9 396.7 176.6 398.9 171.2C401.1 165.8 401.4 161.4 402.7 157.9C404.0 154.4 404.0 152.4 406.5 150.2C409.0 148.0 414.1 146.1 417.9 144.5C421.7 142.9 425.5 142.3 429.3 140.7C433.1 139.1 437.9 136.3 440.7 135.0C443.5 133.7 444.8 132.8 446.4 133.1Z" fill="#7ECDBF" filter="url(#spM)"/>
<path d="M485.4 162.6C484.1 160.1 488.1 164.1 490.2 165.5C492.3 166.9 495.6 169.0 497.8 171.2C500.0 173.4 501.4 177.2 503.6 178.8C505.8 180.4 508.9 182.3 511.1 180.7C513.3 179.1 513.9 172.2 516.8 169.3C519.6 166.5 524.4 165.0 528.2 163.6C532.0 162.2 535.5 160.7 539.6 160.7C543.7 160.7 548.5 162.2 552.9 163.6C557.3 165.0 561.5 167.4 566.3 169.3C571.1 171.2 576.4 172.8 581.5 175.0C586.6 177.2 592.3 180.4 596.7 182.6C601.1 184.8 604.3 186.1 608.1 188.3C611.9 190.5 616.1 193.1 619.3 195.9C622.5 198.8 625.2 201.9 627.1 205.4C629.0 208.9 629.6 213.0 630.9 216.8C632.2 220.6 634.1 224.1 634.7 228.2C635.3 232.3 637.2 239.2 634.7 241.5C632.2 243.8 624.2 241.9 620.0 242.0C615.8 242.1 614.4 240.7 609.7 241.8C605.1 242.9 598.0 247.1 592.1 248.8C586.2 250.6 579.0 250.6 574.6 252.3C570.2 254.1 567.1 255.2 565.9 259.3C564.7 263.4 569.1 272.1 567.6 276.8C566.1 281.5 561.8 285.0 557.1 287.3C552.4 289.6 546.6 289.6 539.6 290.8C532.6 292.0 523.3 293.1 515.1 294.3C506.9 295.5 496.4 296.6 490.5 297.8C484.6 299.0 484.1 301.9 480.0 301.3C475.9 300.7 470.7 297.2 466.0 294.3C461.3 291.4 456.2 287.9 452.0 283.8C447.8 279.8 443.0 274.0 440.7 270.0C438.4 266.0 437.9 263.4 438.0 260.0C438.1 256.6 439.3 253.6 441.0 249.9C442.7 246.2 445.8 241.9 448.3 237.7C450.8 233.4 453.8 229.2 456.0 224.4C458.2 219.7 459.8 213.6 461.7 209.2C463.6 204.8 464.9 201.0 467.4 197.8C469.9 194.6 473.7 192.1 476.9 190.2C480.1 188.3 482.9 188.0 486.4 186.4C489.9 184.8 498.0 184.7 497.8 180.7C497.6 176.7 486.7 165.1 485.4 162.6Z" fill="#A5D35A" filter="url(#spM)"/>
<path d="M452.0 292.8C455.8 293.8 467.4 297.1 475.0 299.0C482.6 300.9 494.0 303.3 497.8 304.2" fill="none" stroke="#A5D35A" stroke-width="2.5" stroke-linecap="round" stroke-linejoin="round" filter="url(#spM)"/>
<path d="M381.8 264.2C383.5 265.5 388.5 269.5 392.0 272.0C395.5 274.5 400.9 278.2 402.7 279.4" fill="none" stroke="#A5D35A" stroke-width="3" stroke-linecap="round" stroke-linejoin="round" filter="url(#spM)"/>
<path d="M372.3 289.0C374.4 288.3 381.2 286.6 385.0 285.0C388.8 283.4 393.4 280.3 395.1 279.4" fill="none" stroke="#B36FB5" stroke-width="2.5" stroke-linecap="round" stroke-linejoin="round" filter="url(#spL)"/>
<path d="M482.6 319.4C487.4 318.4 493.7 318.1 499.7 317.5C505.7 316.9 511.7 315.6 518.7 315.6C525.7 315.6 537.4 316.6 541.5 317.5C545.6 318.4 544.5 318.8 543.5 321.3C542.5 323.8 536.4 329.5 535.8 332.7C535.1 335.9 539.6 337.8 539.6 340.3C539.6 342.8 538.3 346.0 535.8 347.9C533.3 349.8 528.3 350.1 524.5 351.7C520.7 353.3 516.3 354.9 513.1 357.4C509.9 359.9 507.3 363.4 505.4 366.9C503.5 370.4 501.9 375.1 501.6 378.3C501.3 381.5 504.1 385.4 503.5 386.0C502.9 386.6 500.0 383.4 497.8 382.1C495.6 380.8 493.1 380.2 490.2 378.3C487.3 376.4 483.9 373.2 480.7 370.7C477.5 368.2 474.7 365.6 471.2 363.1C467.7 360.6 463.0 358.0 459.8 355.5C456.6 353.0 453.7 350.8 452.1 347.9C450.5 345.0 450.8 342.2 450.2 338.4C449.6 334.6 449.2 328.0 448.3 325.1C447.4 322.2 443.2 321.6 444.5 321.3C445.8 321.0 451.6 322.9 456.0 323.2C460.4 323.5 466.8 323.8 471.2 323.2C475.6 322.6 477.9 320.3 482.6 319.4Z" fill="#B36FB5" filter="url(#spL)"/>
<path d="M506.4 382.1C508.3 379.2 513.5 372.0 518.7 368.8C523.9 365.6 531.0 364.7 537.7 363.1C544.4 361.5 552.4 359.3 558.7 359.3C565.1 359.3 571.7 360.9 575.8 363.1C579.9 365.3 581.5 369.4 583.4 372.6C585.3 375.8 587.2 378.3 587.2 382.1C587.2 385.9 584.7 391.1 583.4 395.5C582.1 399.9 582.5 405.0 579.6 408.8C576.8 412.6 570.8 415.8 566.3 418.3C561.8 420.8 557.3 422.1 552.9 424.0C548.5 425.9 543.7 427.9 539.6 429.7C535.5 431.4 533.3 433.7 528.2 434.5C523.1 435.3 514.6 435.0 509.2 434.5C503.8 434.0 500.3 433.0 495.9 431.6C491.5 430.2 485.8 428.0 482.6 425.9C479.4 423.8 476.3 420.6 476.9 419.2C477.5 417.8 482.6 418.1 486.4 417.3C490.2 416.5 495.6 415.6 499.7 414.5C503.8 413.4 507.9 412.9 511.1 410.7C514.3 408.5 517.8 404.4 518.7 401.2C519.7 398.0 518.7 394.2 516.8 391.7C514.9 389.2 509.0 387.6 507.3 386.0C505.6 384.4 504.5 385.0 506.4 382.1Z" fill="#6FA8D0" filter="url(#spM)"/>
<path d="M395.1 321.3C397.6 318.9 402.1 315.2 406.5 314.6C410.9 314.0 417.3 316.7 421.7 317.5C426.1 318.3 429.3 317.8 433.1 319.4C436.9 321.0 441.3 324.1 444.5 327.0C447.7 329.9 450.5 333.0 452.1 336.5C453.7 340.0 454.3 344.1 454.0 347.9C453.7 351.7 450.5 354.9 450.2 359.3C449.9 363.7 449.9 370.1 452.1 374.5C454.3 378.9 459.5 383.1 463.6 386.0C467.7 388.9 472.5 390.8 476.9 391.7C481.3 392.6 488.0 391.4 490.2 391.7C492.4 392.0 492.4 393.1 490.2 393.6C488.0 394.1 481.6 394.5 476.9 394.5C472.1 394.5 466.5 394.4 461.7 393.6C456.9 392.8 453.1 390.8 448.3 389.8C443.5 388.9 437.2 387.3 433.1 387.9C429.0 388.5 426.8 391.4 423.6 393.6C420.4 395.8 417.9 398.8 414.1 401.2C410.3 403.6 404.9 407.0 400.8 407.8C396.7 408.6 392.6 407.6 389.4 405.9C386.2 404.2 384.0 400.4 381.8 397.4C379.6 394.4 377.7 391.4 376.1 387.9C374.5 384.4 372.0 380.5 372.3 376.4C372.6 372.3 375.8 367.2 378.0 363.1C380.2 359.0 383.7 355.5 385.6 351.7C387.5 347.9 388.4 344.1 389.4 340.3C390.3 336.5 390.4 332.1 391.3 328.9C392.2 325.7 392.6 323.7 395.1 321.3Z" fill="#CECECE" filter="url(#spL)"/>
<path d="M376.0 400.0C377.0 403.3 380.3 413.3 382.0 420.0C383.7 426.7 386.7 435.3 386.0 440.0C385.3 444.7 381.5 446.2 378.0 448.0C374.5 449.8 369.3 450.8 365.0 451.0C360.7 451.2 354.2 449.3 352.0 449.0" fill="none" stroke="#CECECE" stroke-width="2" stroke-linecap="round" stroke-linejoin="round" filter="url(#spL)"/>
<path d="M50.0 220.0C51.2 214.2 53.8 205.8 57.5 200.0C61.2 194.2 67.1 189.2 72.5 185.0C77.9 180.8 83.8 177.1 90.0 175.0C96.2 172.9 103.3 172.3 110.0 172.5C116.7 172.7 123.3 174.2 130.0 176.2C136.7 178.3 143.3 181.5 150.0 185.0C156.7 188.5 164.2 193.3 170.0 197.5C175.8 201.7 180.4 204.6 185.0 210.0C189.6 215.4 194.6 223.3 197.5 230.0C200.4 236.7 201.2 243.3 202.5 250.0C203.8 256.7 205.0 264.2 205.0 270.0C205.0 275.8 203.8 281.2 202.5 285.0C201.2 288.8 200.0 291.2 197.5 292.5C195.0 293.8 190.4 293.8 187.5 292.5C184.6 291.2 182.9 287.1 180.0 285.0C177.1 282.9 175.0 281.7 170.0 280.0C165.0 278.3 156.2 275.4 150.0 275.0C143.8 274.6 137.5 278.3 132.5 277.5C127.5 276.7 125.4 272.1 120.0 270.0C114.6 267.9 106.2 266.7 100.0 265.0C93.8 263.3 87.9 261.7 82.5 260.0C77.1 258.3 72.1 257.2 67.5 255.0C62.9 252.8 57.9 250.3 55.0 247.0C52.1 243.7 50.8 239.5 50.0 235.0C49.2 230.5 48.8 225.8 50.0 220.0Z" fill="#F26C5B" filter="url(#spM)"/>
<path d="M72.5 343.8C72.9 342.5 80.4 349.6 85.0 350.0C89.6 350.4 97.1 350.0 100.0 346.2C102.9 342.5 102.3 331.5 102.5 327.5C102.7 323.5 100.4 325.0 101.2 322.5C102.1 320.0 104.8 315.4 107.5 312.5C110.2 309.6 113.3 307.1 117.5 305.0C121.7 302.9 127.1 300.6 132.5 300.0C137.9 299.4 144.6 300.2 150.0 301.2C155.4 302.3 160.4 304.6 165.0 306.2C169.6 307.9 175.8 309.8 177.5 311.2C179.2 312.7 177.5 313.5 175.0 315.0C172.5 316.5 165.8 318.3 162.5 320.0C159.2 321.7 157.1 322.5 155.0 325.0C152.9 327.5 150.6 331.7 150.0 335.0C149.4 338.3 150.8 342.1 151.2 345.0C151.7 347.9 153.5 350.0 152.5 352.5C151.5 355.0 148.8 357.7 145.0 360.0C141.2 362.3 134.2 364.8 130.0 366.2C125.8 367.7 123.8 368.8 120.0 368.8C116.2 368.8 112.1 367.3 107.5 366.2C102.9 365.2 96.7 364.0 92.5 362.5C88.3 361.0 85.8 360.6 82.5 357.5C79.2 354.4 72.1 345.0 72.5 343.8Z" fill="#F26C5B" filter="url(#spM)"/>
<path d="M206.0 277.0C206.7 276.5 209.9 283.7 211.0 287.0C212.1 290.3 211.2 293.2 212.5 297.0C213.8 300.8 218.2 306.8 218.5 310.0C218.8 313.2 216.2 314.3 214.0 316.0C211.8 317.7 206.7 320.7 205.0 320.0C203.3 319.3 203.6 315.3 204.0 312.0C204.4 308.7 207.0 303.7 207.5 300.0C208.0 296.3 207.2 293.8 207.0 290.0C206.8 286.2 205.3 277.5 206.0 277.0Z" fill="#A5684A" filter="url(#spM)"/>
<path d="M272.0 305.0C267.8 306.2 254.3 308.7 247.0 312.0C239.7 315.3 233.0 319.5 228.0 325.0C223.0 330.5 219.5 337.8 217.0 345.0C214.5 352.2 213.2 360.5 213.0 368.0C212.8 375.5 213.7 383.3 216.0 390.0C218.3 396.7 221.8 402.5 227.0 408.0C232.2 413.5 239.7 418.3 247.0 423.0C254.3 427.7 263.0 431.8 271.0 436.0C279.0 440.2 291.0 446.0 295.0 448.0" fill="none" stroke="#F26C5B" stroke-width="13" stroke-linecap="round" stroke-linejoin="round" filter="url(#spM)"/>
<path d="M290.0 446.0C292.5 447.5 300.2 452.0 305.0 455.0C309.8 458.0 316.7 462.5 319.0 464.0" fill="none" stroke="#F26C5B" stroke-width="3" stroke-linecap="round" stroke-linejoin="round" filter="url(#spM)"/>
<path d="M272.0 304.0C276.7 302.5 289.0 304.7 300.0 305.0C311.0 305.3 327.5 306.4 338.0 306.0C348.5 305.6 357.4 301.3 362.8 302.3C368.2 303.3 368.8 308.0 370.4 311.8C372.0 315.6 372.9 322.1 372.3 325.0C371.7 327.9 369.2 329.9 366.6 329.0C364.1 328.1 361.8 321.6 357.0 319.4C352.2 317.2 347.5 316.6 338.0 315.6C328.5 314.7 311.0 314.0 300.0 313.7C289.0 313.4 276.7 315.6 272.0 314.0C267.3 312.4 267.3 305.5 272.0 304.0Z" fill="#F26C5B" filter="url(#spM)"/>
<path d="M247.5 340.0C250.6 336.7 256.7 333.3 262.5 332.5C268.3 331.7 276.7 333.8 282.5 335.0C288.3 336.2 294.6 337.1 297.5 340.0C300.4 342.9 300.0 348.3 300.0 352.5C300.0 356.7 298.8 360.4 297.5 365.0C296.2 369.6 295.0 375.8 292.5 380.0C290.0 384.2 286.2 387.5 282.5 390.0C278.8 392.5 274.6 394.4 270.0 395.0C265.4 395.6 259.0 394.6 255.0 393.8C251.0 392.9 247.5 392.7 246.2 390.0C245.0 387.3 248.1 381.7 247.5 377.5C246.9 373.3 243.1 369.2 242.5 365.0C241.9 360.8 242.9 356.7 243.8 352.5C244.6 348.3 244.4 343.3 247.5 340.0Z" fill="#F26C5B" filter="url(#spM)"/>
<path d="M315.0 350.0C316.7 347.1 321.2 342.5 325.0 340.0C328.8 337.5 332.5 335.4 337.5 335.0C342.5 334.6 348.8 335.4 355.0 337.5C361.2 339.6 369.2 343.3 375.0 347.5C380.8 351.7 390.0 360.4 390.0 362.5C390.0 364.6 380.4 360.8 375.0 360.0C369.6 359.2 361.2 355.8 357.5 357.5C353.8 359.2 354.6 365.4 352.5 370.0C350.4 374.6 347.1 380.0 345.0 385.0C342.9 390.0 343.3 396.7 340.0 400.0C336.7 403.3 329.6 405.0 325.0 405.0C320.4 405.0 314.8 403.3 312.5 400.0C310.2 396.7 310.4 390.0 311.2 385.0C312.1 380.0 316.9 374.6 317.5 370.0C318.1 365.4 315.4 360.8 315.0 357.5C314.6 354.2 313.3 352.9 315.0 350.0Z" fill="#F26C5B" filter="url(#spM)"/>
<path d="M316.0 352.0C316.7 348.7 322.3 344.5 326.0 342.0C329.7 339.5 333.2 337.5 338.0 337.0C342.8 336.5 348.8 337.2 355.0 339.0C361.2 340.8 369.2 344.2 375.0 348.0C380.8 351.8 390.2 360.2 390.0 362.0C389.8 363.8 379.7 359.8 374.0 359.0C368.3 358.2 360.3 356.3 356.0 357.0C351.7 357.7 351.5 362.5 348.0 363.0C344.5 363.5 339.3 360.2 335.0 360.0C330.7 359.8 325.2 363.3 322.0 362.0C318.8 360.7 315.3 355.3 316.0 352.0Z" fill="#A5684A" filter="url(#spM)"/>
<path d="M303.8 271.2C300.6 272.4 290.0 275.4 285.0 278.0C280.0 280.6 274.0 284.5 274.0 287.0C274.0 289.5 280.7 291.9 285.0 293.0C289.3 294.1 293.3 294.0 300.0 293.8C306.7 293.5 316.7 292.0 325.0 291.2C333.3 290.5 345.8 289.4 350.0 289.0" fill="none" stroke="#F26C5B" stroke-width="4.5" stroke-linecap="round" stroke-linejoin="round" filter="url(#spM)"/>
<path d="M360.9 230.0C362.8 230.0 366.3 234.4 366.6 237.6C366.9 240.8 362.8 245.2 362.8 249.0C362.8 252.8 366.6 256.3 366.6 260.4C366.6 264.5 363.8 269.6 362.8 273.7C361.9 277.8 362.2 282.3 360.9 285.2C359.6 288.1 357.1 291.5 355.2 290.9C353.3 290.3 351.3 285.2 349.4 281.4C347.5 277.6 345.3 271.5 343.7 268.0C342.1 264.5 339.9 263.2 339.9 260.4C339.9 257.5 341.8 253.4 343.7 250.9C345.6 248.4 349.5 247.4 351.4 245.2C353.3 243.0 353.6 240.1 355.2 237.6C356.8 235.1 359.0 230.0 360.9 230.0Z" fill="#F26C5B" filter="url(#spM)"/>
<path d="M343.0 258.0C344.5 255.8 348.8 250.0 352.0 245.0C355.2 240.0 359.0 233.5 362.0 228.0C365.0 222.5 367.5 217.0 370.0 212.0C372.5 207.0 375.8 200.3 377.0 198.0" fill="none" stroke="#F26C5B" stroke-width="6" stroke-linecap="round" stroke-linejoin="round" filter="url(#spD)"/>
<path d="M400.8 296.6C403.0 295.7 408.7 291.2 414.1 290.9C419.5 290.6 426.8 292.8 433.1 294.7C439.4 296.6 446.4 301.0 452.1 302.3C457.8 303.6 463.3 300.4 467.4 302.3C471.5 304.2 474.7 309.9 476.9 313.7C479.1 317.5 480.1 323.2 480.7 325.1" fill="none" stroke="#F26C5B" stroke-width="5" stroke-linecap="round" stroke-linejoin="round" filter="url(#spM)"/>
<path d="M425.5 380.2C426.8 381.7 430.5 386.1 433.0 389.0C435.5 391.9 439.4 396.0 440.7 397.4" fill="none" stroke="#F26C5B" stroke-width="2.5" stroke-linecap="round" stroke-linejoin="round" filter="url(#spM)"/>
<path d="M440.7 399.3C442.6 399.9 446.4 405.3 448.3 408.8C450.2 412.3 451.5 415.8 452.1 420.2C452.7 424.6 453.1 431.0 452.1 435.4C451.2 439.8 448.9 443.9 446.4 446.8C443.9 449.7 440.7 451.2 436.9 452.5C433.1 453.8 427.1 455.0 423.6 454.4C420.1 453.8 417.6 452.0 416.0 448.8C414.4 445.6 413.5 439.5 414.1 435.4C414.7 431.3 417.3 427.8 419.8 424.0C422.3 420.2 426.5 415.8 429.3 412.6C432.1 409.4 435.0 407.2 436.9 405.0C438.8 402.8 438.8 398.7 440.7 399.3Z" fill="#F26C5B" filter="url(#spM)"/>
<text x="25.1" y="260.0" font-size="19.5" font-weight="bold" textLength="200.9" lengthAdjust="spacing">Cancer Epithelial</text>
<text x="163.5" y="332.0" font-size="19.5" font-weight="bold" textLength="202.5" lengthAdjust="spacing">Normal Epithelial</text>
<text x="257.7" y="141.9" font-size="19.5" font-weight="bold" textLength="75.9" lengthAdjust="spacing">T-cells</text>
<text x="444.5" y="108.6" font-size="19.5" font-weight="bold" textLength="151.2" lengthAdjust="spacing">Plasmablasts</text>
<text x="380.4" y="202.2" font-size="19.5" font-weight="bold" textLength="79.3" lengthAdjust="spacing">B-cells</text>
<text x="482.3" y="239.0" font-size="19.5" font-weight="bold" textLength="88.1" lengthAdjust="spacing">Myeloid</text>
<text x="481.3" y="343.4" font-size="19.5" font-weight="bold" textLength="42.5" lengthAdjust="spacing">PVL</text>
<text x="374.4" y="379.1" font-size="19.5" font-weight="bold" textLength="58.3" lengthAdjust="spacing">CAFs</text>
<text x="491.1" y="406.4" font-size="19.5" font-weight="bold" textLength="130.8" lengthAdjust="spacing">Endothelial</text>
<line x1="22.8" y1="18.0" x2="22.8" y2="485.2" stroke="#262626" stroke-width="1.4"/>
<line x1="22.1" y1="484.5" x2="659.5" y2="484.5" stroke="#262626" stroke-width="1.4"/>
<text x="324.1" y="502.6" font-size="19.5" text-anchor="middle" textLength="66.6" lengthAdjust="spacing">UMAP1</text>
<text x="17.6" y="245.0" font-size="19.5" text-anchor="middle" textLength="66.6" lengthAdjust="spacing" transform="rotate(-90 17.6 245.0)">UMAP2</text>
<text x="697.0" y="20.3" font-size="27" font-weight="bold" fill="#231f20">b</text>
<path d="M920.7 241.7C917.1 235.6 914.9 228.6 913.7 219.0C912.5 209.4 913.4 194.1 913.7 183.9C914.0 173.7 913.9 164.9 915.4 157.6C916.9 150.3 920.5 144.5 922.5 140.1C924.5 135.7 925.7 136.7 927.7 131.4C929.7 126.2 933.0 114.1 934.7 108.6C936.5 103.0 936.5 103.1 938.2 98.1C940.0 93.1 942.6 84.0 945.2 78.8C947.8 73.5 950.8 70.4 954.0 66.6C957.2 62.8 960.7 58.5 964.5 56.1C968.3 53.8 972.7 54.5 976.8 52.5C980.9 50.5 986.1 46.7 989.0 43.8C991.9 40.9 991.4 36.5 994.3 35.0C997.2 33.5 1003.0 33.8 1006.5 35.0C1010.0 36.2 1011.5 41.7 1015.3 42.0C1019.1 42.3 1025.8 40.0 1029.3 36.8C1032.8 33.6 1034.8 25.4 1036.3 22.8C1037.8 20.2 1036.5 21.0 1038.0 21.0C1039.5 21.0 1042.1 21.1 1045.0 22.8C1047.9 24.6 1052.0 30.9 1055.5 31.5C1059.0 32.1 1061.3 25.1 1066.0 26.3C1070.7 27.5 1078.3 35.0 1083.6 38.5C1088.9 42.0 1093.5 45.0 1097.6 47.3C1101.7 49.6 1105.2 50.8 1108.1 52.5C1111.0 54.2 1111.0 57.3 1115.1 57.8C1119.2 58.2 1131.4 53.7 1132.6 55.2C1133.8 56.7 1124.7 62.7 1122.1 66.6C1119.5 70.5 1118.0 74.7 1116.8 78.8C1115.6 82.9 1115.1 86.7 1115.1 91.1C1115.1 95.5 1117.7 100.4 1116.8 105.1C1115.9 109.8 1112.4 115.0 1109.8 119.1C1107.2 123.2 1103.4 126.1 1101.1 129.6C1098.8 133.1 1097.3 135.4 1095.8 140.1C1094.3 144.8 1093.8 152.3 1092.3 157.6C1090.8 162.9 1089.1 167.6 1087.1 171.7C1085.1 175.8 1083.3 178.7 1080.1 182.2C1076.9 185.7 1071.9 188.6 1067.8 192.7C1063.7 196.8 1059.3 202.0 1055.5 206.7C1051.7 211.4 1048.2 216.6 1045.0 220.7C1041.8 224.8 1039.2 227.7 1036.3 231.2C1033.4 234.7 1031.5 237.9 1027.5 241.7C1023.5 245.5 1018.4 251.3 1012.4 254.0C1006.4 256.7 998.3 257.0 991.3 258.0C984.3 259.0 977.3 259.8 970.3 260.0C963.3 260.2 955.1 259.7 949.3 259.0C943.5 258.3 940.1 258.7 935.3 255.8C930.5 252.9 924.3 247.8 920.7 241.7Z" fill="#808080" filter="url(#spM)"/>
<path d="M756.0 215.5C756.0 209.8 757.3 205.8 759.6 201.4C761.9 197.0 765.9 193.3 770.0 189.2C774.1 185.1 778.7 180.1 784.0 176.9C789.3 173.7 795.8 171.5 801.6 169.9C807.5 168.3 813.3 167.2 819.1 167.3C824.9 167.5 831.4 169.2 836.6 170.8C841.9 172.4 845.9 174.1 850.6 176.9C855.3 179.7 860.6 183.9 864.7 187.4C868.8 190.9 871.7 194.7 875.2 197.9C878.7 201.1 882.2 203.2 885.7 206.7C889.2 210.2 893.3 214.6 896.2 219.0C899.1 223.4 901.2 228.2 903.2 233.0C905.2 237.8 907.5 242.2 908.4 247.5C909.3 252.8 909.6 259.2 908.4 265.0C907.2 270.8 904.6 278.7 901.4 282.5C898.2 286.3 893.6 289.0 889.2 287.8C884.8 286.6 880.5 278.4 875.2 275.5C869.9 272.6 864.0 270.9 857.6 270.3C851.2 269.7 842.4 272.9 836.6 272.0C830.8 271.1 828.4 266.8 822.6 265.0C816.8 263.2 808.0 262.9 801.6 261.5C795.2 260.1 789.4 258.9 784.1 256.3C778.8 253.7 774.1 249.3 770.0 245.8C765.9 242.3 761.9 240.4 759.6 235.3C757.3 230.2 756.0 221.2 756.0 215.5Z" fill="#808080" filter="url(#spM)"/>
<path d="M776.2 339.5C777.1 339.2 784.5 344.0 787.6 345.6C790.7 347.2 791.4 349.1 794.6 349.1C797.8 349.1 803.3 346.2 806.8 345.6C810.3 345.0 814.4 347.9 815.6 345.6C816.8 343.3 815.4 335.7 813.9 331.6C812.4 327.5 807.1 324.6 806.8 321.1C806.5 317.6 809.5 314.1 812.1 310.6C814.7 307.1 817.9 302.6 822.6 300.1C827.3 297.6 834.3 296.0 840.1 295.7C845.9 295.4 851.8 297.0 857.6 298.3C863.5 299.6 871.0 302.0 875.2 303.6C879.4 305.2 884.2 305.9 883.0 307.9C881.8 309.9 872.4 313.3 868.2 315.8C864.0 318.3 860.0 319.6 857.6 322.8C855.2 326.0 854.4 330.7 854.1 335.1C853.8 339.5 856.8 345.3 855.9 349.1C855.0 352.9 852.7 355.4 848.9 357.9C845.1 360.4 838.1 363.0 833.1 364.0C828.1 365.0 823.8 364.7 819.1 364.0C814.4 363.3 809.5 361.2 805.1 359.6C800.7 358.0 796.6 356.4 792.8 354.4C789.0 352.4 785.1 349.9 782.3 347.4C779.5 344.9 775.3 339.8 776.2 339.5Z" fill="#808080" filter="url(#spM)"/>
<path d="M1178.2 54.3C1180.8 52.8 1188.4 53.1 1192.2 54.3C1196.0 55.5 1196.2 60.4 1200.9 61.3C1205.6 62.2 1215.2 60.0 1220.2 59.6C1225.2 59.2 1227.5 57.8 1230.7 58.7C1233.9 59.6 1235.4 62.3 1239.5 64.8C1243.6 67.3 1250.2 71.3 1255.2 73.6C1260.2 75.9 1265.1 76.5 1269.2 78.8C1273.3 81.1 1277.1 84.1 1279.7 87.6C1282.3 91.1 1284.1 95.4 1285.0 99.8C1285.9 104.2 1285.9 110.4 1285.0 113.9C1284.1 117.4 1282.6 118.6 1279.7 120.9C1276.8 123.2 1272.2 126.5 1267.5 127.9C1262.8 129.3 1257.8 129.0 1251.7 129.6C1245.6 130.2 1237.4 131.0 1230.7 131.4C1224.0 131.8 1217.5 132.5 1211.4 132.2C1205.3 131.9 1199.4 130.9 1193.9 129.6C1188.4 128.3 1182.6 126.4 1178.2 124.4C1173.8 122.4 1170.5 120.3 1167.6 117.4C1164.7 114.5 1162.3 110.3 1160.6 106.8C1158.8 103.3 1156.8 99.8 1157.1 96.3C1157.4 92.8 1159.8 89.0 1162.4 85.8C1165.0 82.6 1170.6 80.9 1172.9 77.1C1175.2 73.3 1175.5 66.9 1176.4 63.1C1177.3 59.3 1175.6 55.8 1178.2 54.3Z" fill="#808080" filter="url(#spM)"/>
<path d="M1186.9 157.6C1186.9 154.7 1192.2 161.8 1195.7 164.7C1199.2 167.6 1204.4 174.6 1207.9 175.2C1211.4 175.8 1214.7 170.5 1216.7 168.2C1218.8 165.8 1216.7 163.1 1220.2 161.1C1223.7 159.1 1231.9 156.3 1237.7 155.9C1243.5 155.5 1249.4 156.8 1255.2 158.5C1261.0 160.2 1266.9 163.6 1272.7 166.4C1278.5 169.2 1284.5 172.6 1290.3 175.2C1296.1 177.8 1302.5 179.6 1307.8 182.2C1313.0 184.8 1318.0 186.8 1321.8 190.9C1325.6 195.0 1328.2 201.7 1330.5 206.7C1332.8 211.7 1334.5 216.6 1335.8 220.7C1337.1 224.8 1338.4 228.2 1338.4 231.2C1338.4 234.2 1340.9 236.1 1335.8 238.8C1330.7 241.5 1318.3 245.2 1307.8 247.5C1297.3 249.8 1279.1 249.9 1272.7 252.8C1266.3 255.7 1270.4 261.2 1269.2 265.0C1268.0 268.8 1267.5 272.3 1265.7 275.5C1264.0 278.7 1263.4 282.6 1258.7 284.3C1254.0 286.1 1245.6 285.4 1237.7 286.0C1229.8 286.6 1217.8 285.8 1211.4 287.8C1205.0 289.9 1205.0 297.7 1199.2 298.3C1193.4 298.9 1183.1 293.9 1176.4 291.3C1169.7 288.7 1163.9 285.7 1158.9 282.5C1153.9 279.3 1149.5 276.4 1146.6 272.0C1143.7 267.6 1142.0 261.4 1141.4 256.3C1140.8 251.2 1141.1 247.6 1143.1 241.7C1145.1 235.8 1150.1 225.9 1153.6 220.7C1157.1 215.4 1161.5 213.4 1164.1 210.2C1166.7 207.0 1167.1 204.9 1169.4 201.4C1171.8 197.9 1173.8 192.4 1178.2 189.2C1182.6 186.0 1194.2 187.5 1195.7 182.2C1197.2 176.9 1186.9 160.5 1186.9 157.6Z" fill="#808080" filter="url(#spM)"/>
<path d="M954.0 314.0C950.2 316.3 936.8 321.6 931.0 328.0C925.2 334.4 921.0 343.5 919.0 352.6C917.0 361.7 917.5 374.8 919.0 382.4C920.5 390.0 922.8 392.9 927.7 398.2C932.7 403.4 940.5 408.9 948.7 413.9C956.9 418.9 968.2 423.3 976.8 428.0C985.3 432.7 996.1 439.7 1000.0 442.0" fill="none" stroke="#808080" stroke-width="12" stroke-linecap="round" stroke-linejoin="round" filter="url(#spM)"/>
<path d="M995.0 440.0C997.5 441.8 1005.5 447.8 1010.0 451.0C1014.5 454.2 1020.2 458.1 1022.3 459.5" fill="none" stroke="#808080" stroke-width="2.5" stroke-linecap="round" stroke-linejoin="round" filter="url(#spM)"/>
<path d="M950.5 338.6C952.8 334.5 957.7 330.4 962.7 328.1C967.7 325.8 974.4 324.6 980.3 324.6C986.1 324.6 993.7 325.8 997.8 328.1C1001.9 330.4 1004.2 333.9 1004.8 338.6C1005.4 343.3 1003.0 350.0 1001.3 356.1C999.5 362.2 997.8 370.1 994.3 375.4C990.8 380.6 985.0 385.0 980.3 387.6C975.6 390.2 970.9 391.1 966.2 391.1C961.5 391.1 954.8 389.9 952.2 387.6C949.6 385.3 950.5 381.2 950.5 377.1C950.5 373.0 952.5 367.2 952.2 363.1C951.9 359.0 949.0 356.7 948.7 352.6C948.4 348.5 948.2 342.7 950.5 338.6Z" fill="#808080" filter="url(#spM)"/>
<path d="M1018.0 346.0C1020.5 343.2 1025.5 339.7 1030.0 337.0C1034.5 334.3 1039.7 332.0 1045.0 330.0C1050.3 328.0 1057.5 325.0 1062.0 325.0C1066.5 325.0 1071.0 327.2 1072.0 330.0C1073.0 332.8 1070.0 338.0 1068.0 342.0C1066.0 346.0 1062.7 350.0 1060.0 354.0C1057.3 358.0 1054.5 361.8 1052.0 366.0C1049.5 370.2 1047.0 374.7 1045.0 379.0C1043.0 383.3 1042.5 388.3 1040.0 392.0C1037.5 395.7 1033.7 399.7 1030.0 401.0C1026.3 402.3 1020.5 402.7 1018.0 400.0C1015.5 397.3 1015.2 390.8 1015.0 385.0C1014.8 379.2 1017.0 370.2 1017.0 365.0C1017.0 359.8 1014.8 357.2 1015.0 354.0C1015.2 350.8 1015.5 348.8 1018.0 346.0Z" fill="#808080" filter="url(#spM)"/>
<path d="M1045.0 296.0C1047.5 291.8 1054.8 292.3 1060.0 293.0C1065.2 293.7 1073.0 296.8 1076.0 300.0C1079.0 303.2 1079.0 308.3 1078.0 312.0C1077.0 315.7 1073.8 319.7 1070.0 322.0C1066.2 324.3 1059.2 326.7 1055.0 326.0C1050.8 325.3 1046.7 323.0 1045.0 318.0C1043.3 313.0 1042.5 300.2 1045.0 296.0Z" fill="#808080" filter="url(#spM)"/>
<path d="M1062.5 363.1C1065.7 358.7 1074.2 359.6 1080.0 357.9C1085.8 356.1 1091.8 352.0 1097.6 352.6C1103.4 353.2 1110.7 357.0 1115.1 361.4C1119.5 365.8 1123.3 373.6 1123.9 378.9C1124.5 384.1 1121.5 388.8 1118.6 392.9C1115.7 397.0 1110.7 401.6 1106.3 403.4C1101.9 405.1 1096.1 402.2 1092.3 403.4C1088.5 404.6 1084.8 407.2 1083.6 410.4C1082.4 413.6 1083.8 418.6 1085.3 422.7C1086.8 426.8 1093.2 431.7 1092.3 434.9C1091.4 438.1 1085.0 440.4 1080.0 441.9C1075.0 443.4 1066.9 444.1 1062.5 443.7C1058.1 443.3 1053.8 440.5 1053.8 439.3C1053.8 438.1 1059.6 438.6 1062.5 436.7C1065.4 434.8 1071.3 431.4 1071.3 427.9C1071.3 424.4 1064.8 420.1 1062.5 415.7C1060.2 411.3 1057.6 407.0 1057.3 401.7C1057.0 396.4 1059.9 390.5 1060.8 384.1C1061.7 377.7 1059.3 367.5 1062.5 363.1Z" fill="#808080" filter="url(#spM)"/>
<path d="M1185.2 315.8C1189.9 314.3 1202.7 313.2 1211.4 312.3C1220.2 311.4 1231.9 310.3 1237.7 310.6C1243.5 310.9 1245.6 311.8 1246.5 314.1C1247.4 316.4 1243.9 320.8 1243.0 324.6C1242.1 328.4 1243.5 333.3 1241.2 336.8C1238.9 340.3 1233.0 343.0 1228.9 345.6C1224.8 348.2 1219.6 350.9 1216.7 352.6C1213.8 354.4 1213.7 358.4 1211.4 356.1C1209.1 353.8 1207.4 344.4 1202.7 338.6C1198.0 332.8 1186.3 324.9 1183.4 321.1C1180.5 317.3 1180.5 317.3 1185.2 315.8Z" fill="#808080" filter="url(#spM)"/>
<path d="M1207.9 380.6C1209.1 378.3 1215.2 373.6 1220.2 370.1C1225.2 366.6 1230.4 362.1 1237.7 359.6C1245.0 357.1 1256.4 354.6 1264.0 355.2C1271.6 355.8 1278.8 359.2 1283.2 363.1C1287.6 367.1 1289.7 373.0 1290.3 378.9C1290.9 384.8 1289.1 392.6 1286.8 398.2C1284.5 403.8 1280.9 408.1 1276.2 412.2C1271.5 416.3 1265.1 419.8 1258.7 422.7C1252.3 425.6 1245.3 428.5 1237.7 429.7C1230.1 430.9 1220.5 430.6 1213.2 429.7C1205.9 428.8 1199.2 426.4 1193.9 424.4C1188.7 422.3 1184.0 419.1 1181.7 417.4C1179.4 415.6 1177.9 414.8 1179.9 413.9C1181.9 413.0 1188.7 413.6 1193.9 412.2C1199.2 410.8 1206.4 407.8 1211.4 405.2C1216.4 402.6 1221.4 399.3 1223.7 396.4C1226.0 393.5 1227.2 389.7 1225.4 387.6C1223.7 385.6 1216.1 385.3 1213.2 384.1C1210.3 382.9 1206.7 382.9 1207.9 380.6Z" fill="#808080" filter="url(#spM)"/>
<path d="M1150.1 127.9C1151.8 129.1 1152.4 133.1 1153.6 136.6C1154.8 140.1 1157.1 143.9 1157.1 148.9C1157.1 153.9 1154.5 161.4 1153.6 166.4C1152.7 171.4 1152.8 174.3 1151.9 178.7C1151.0 183.1 1149.9 187.4 1148.4 192.7C1146.9 197.9 1144.8 204.4 1143.1 210.2C1141.3 216.0 1139.4 221.1 1137.9 227.7C1136.5 234.3 1136.6 243.3 1134.4 250.0C1132.2 256.7 1129.1 263.0 1125.0 268.0C1120.9 273.0 1115.8 277.3 1110.0 280.0C1104.2 282.7 1096.7 284.0 1090.0 284.0C1083.3 284.0 1076.3 282.7 1070.0 280.0C1063.7 277.3 1056.2 273.0 1052.0 268.0C1047.8 263.0 1043.2 256.7 1045.0 250.0C1046.8 243.3 1057.2 235.8 1062.5 227.7C1067.8 219.6 1072.2 208.7 1076.6 201.4C1081.0 194.1 1084.7 189.7 1088.8 183.9C1092.9 178.1 1097.9 171.4 1101.1 166.4C1104.3 161.4 1105.2 157.9 1108.1 154.1C1111.0 150.3 1114.5 146.5 1118.6 143.6C1122.7 140.7 1128.5 138.9 1132.6 136.6C1136.7 134.3 1140.2 131.0 1143.1 129.6C1146.0 128.2 1148.3 126.7 1150.1 127.9Z" fill="#808080" filter="url(#spM)" opacity="0.8"/>
<path d="M945.0 268.0C948.3 268.7 958.3 270.8 965.0 272.0C971.7 273.2 981.7 274.5 985.0 275.0" fill="none" stroke="#808080" stroke-width="4" stroke-linecap="round" stroke-linejoin="round" filter="url(#spM)"/>
<path d="M976.8 298.3C982.3 298.6 997.8 299.1 1010.0 300.0C1022.2 300.9 1039.0 302.6 1050.0 303.6C1061.0 304.6 1071.7 305.6 1076.0 306.0" fill="none" stroke="#808080" stroke-width="3.5" stroke-linecap="round" stroke-linejoin="round" filter="url(#spM)"/>
<path d="M1092.9 308.3C1097.6 303.1 1117.5 303.7 1128.0 304.8C1138.5 306.0 1147.3 310.1 1156.0 315.3C1164.8 320.6 1173.5 327.6 1180.5 336.4C1187.5 345.1 1198.1 359.7 1198.1 367.9C1198.1 376.1 1189.3 383.7 1180.5 385.4C1171.8 387.2 1156.0 383.1 1145.5 378.4C1135.0 373.7 1125.1 364.4 1117.5 357.4C1109.9 350.4 1104.0 344.5 1100.0 336.4C1095.9 328.2 1088.3 313.6 1092.9 308.3Z" fill="#808080" filter="url(#spL)"/>
<path d="M1082.4 245.3C1086.5 240.0 1097.0 240.6 1103.5 241.8C1109.9 242.9 1117.5 247.0 1121.0 252.3C1124.5 257.5 1125.1 266.9 1124.5 273.3C1123.9 279.7 1121.0 287.3 1117.5 290.8C1114.0 294.3 1108.1 294.9 1103.5 294.3C1098.8 293.7 1093.5 290.8 1089.4 287.3C1085.4 283.8 1080.1 280.3 1078.9 273.3C1077.8 266.3 1078.3 250.5 1082.4 245.3Z" fill="#808080" filter="url(#spL)"/>
<path d="M870.4 194.5C872.2 193.0 880.1 200.6 884.5 205.0C888.8 209.4 893.4 214.6 896.7 220.7C900.1 226.9 902.6 234.8 904.4 241.8C906.3 248.8 906.9 256.4 907.9 262.8C909.0 269.2 909.4 274.5 910.7 280.3C912.1 286.1 914.1 293.2 916.0 297.8C917.9 302.5 922.2 305.1 922.0 308.3C921.7 311.6 917.9 314.2 914.2 317.1C910.6 320.0 901.3 327.3 900.2 325.9C899.2 324.4 907.2 313.9 907.9 308.3C908.6 302.8 906.3 296.4 904.4 292.6C902.6 288.8 899.8 287.6 896.7 285.6C893.7 283.5 889.1 282.9 886.2 280.3C883.3 277.7 880.1 274.5 879.2 269.8C878.3 265.1 881.0 258.7 881.0 252.3C881.0 245.9 880.4 237.7 879.2 231.3C878.0 224.8 875.4 219.9 874.0 213.7C872.5 207.6 868.7 195.9 870.4 194.5Z" fill="#f00a0a" filter="url(#spR)"/>
<path d="M830.2 224.2C834.2 219.0 846.5 211.4 854.7 210.2C862.9 209.1 874.0 211.4 879.2 217.2C884.5 223.1 885.0 235.3 886.2 245.3C887.4 255.2 889.7 272.1 886.2 276.8C882.7 281.5 872.2 274.5 865.2 273.3C858.2 272.1 849.4 272.1 844.2 269.8C838.9 267.5 836.0 264.0 833.7 259.3C831.3 254.6 830.7 247.6 830.2 241.8C829.6 235.9 826.1 229.5 830.2 224.2Z" fill="#f00a0a" filter="url(#spRL)"/>
<path d="M1007.1 265.6C1003.9 266.9 993.1 270.6 987.8 273.3C982.6 276.0 976.7 279.4 975.6 282.1C974.4 284.7 975.9 288.2 980.8 289.1C985.8 289.9 996.6 288.2 1005.3 287.3C1014.1 286.4 1025.2 285.0 1033.4 283.8C1041.6 282.6 1049.4 282.1 1054.4 280.3C1059.4 278.6 1061.7 274.5 1063.2 273.3" fill="none" stroke="#f00a0a" stroke-width="4.5" stroke-linecap="round" stroke-linejoin="round" filter="url(#spR)"/>
<path d="M1054.4 241.8C1053.8 244.7 1050.6 253.4 1050.9 259.3C1051.2 265.1 1055.3 273.9 1056.2 276.8" fill="none" stroke="#f00a0a" stroke-width="3" stroke-linecap="round" stroke-linejoin="round" filter="url(#spR)"/>
<path d="M942.3 311.8C946.9 311.3 959.8 309.2 970.3 308.3C980.8 307.5 993.7 307.4 1005.3 306.9C1017.0 306.5 1031.0 304.4 1040.4 305.5C1049.7 306.6 1057.9 312.3 1061.4 313.6" fill="none" stroke="#f00a0a" stroke-width="2.5" stroke-linecap="round" stroke-linejoin="round" filter="url(#spR)"/>
<path d="M942.3 311.8C939.4 315.3 929.0 324.7 924.8 332.9C920.6 341.0 917.9 352.1 917.0 360.9C916.2 369.7 917.0 377.8 919.5 385.4C922.0 393.0 925.6 399.7 931.8 406.4C937.9 413.2 946.9 419.9 956.3 425.7C965.6 431.6 977.0 435.9 987.8 441.5C998.6 447.0 1015.6 456.1 1021.1 459.0" fill="none" stroke="#f00a0a" stroke-width="4" stroke-linecap="round" stroke-linejoin="round" filter="url(#spRL)"/>
<path d="M1096.4 315.3C1098.8 318.3 1105.8 327.0 1110.5 332.9C1115.1 338.7 1119.8 345.1 1124.5 350.4C1129.1 355.6 1133.2 359.7 1138.5 364.4C1143.7 369.1 1149.0 374.9 1156.0 378.4C1163.0 381.9 1174.1 384.5 1180.5 385.4C1187.0 386.3 1192.2 384.0 1194.6 383.7" fill="none" stroke="#f00a0a" stroke-width="9" stroke-linecap="round" stroke-linejoin="round" filter="url(#spR)"/>
<path d="M1131.5 311.8C1133.8 314.2 1140.2 321.2 1145.5 325.9C1150.8 330.5 1156.6 335.2 1163.0 339.9C1169.4 344.5 1177.0 349.8 1184.0 353.9C1191.1 358.0 1201.0 361.5 1205.1 364.4C1209.2 367.3 1208.0 370.2 1208.6 371.4" fill="none" stroke="#f00a0a" stroke-width="8" stroke-linecap="round" stroke-linejoin="round" filter="url(#spR)"/>
<path d="M1100.0 311.8C1105.2 311.3 1121.6 308.3 1131.5 308.3C1141.4 308.3 1151.3 310.7 1159.5 311.8C1167.7 313.0 1177.0 314.8 1180.5 315.3" fill="none" stroke="#f00a0a" stroke-width="4.5" stroke-linecap="round" stroke-linejoin="round" filter="url(#spR)"/>
<path d="M1092.9 322.4C1094.7 327.0 1098.8 342.2 1103.5 350.4C1108.1 358.6 1115.1 365.6 1121.0 371.4C1126.8 377.2 1135.6 383.1 1138.5 385.4" fill="none" stroke="#f00a0a" stroke-width="4.5" stroke-linecap="round" stroke-linejoin="round" filter="url(#spR)"/>
<path d="M1110.5 332.9C1114.6 329.4 1132.7 333.5 1145.5 336.4C1158.3 339.3 1177.6 344.5 1187.5 350.4C1197.5 356.2 1206.2 366.2 1205.1 371.4C1203.9 376.7 1190.5 381.3 1180.5 381.9C1170.6 382.5 1155.4 379.0 1145.5 374.9C1135.6 370.8 1126.8 364.4 1121.0 357.4C1115.1 350.4 1106.4 336.4 1110.5 332.9Z" fill="#f00a0a" filter="url(#spL)"/>
<path d="M1124.5 399.4C1128.0 397.1 1137.3 397.7 1142.0 399.4C1146.7 401.2 1150.2 405.3 1152.5 410.0C1154.8 414.6 1156.0 422.2 1156.0 427.5C1156.0 432.7 1155.4 437.7 1152.5 441.5C1149.6 445.3 1143.2 448.8 1138.5 450.2C1133.8 451.7 1128.0 451.7 1124.5 450.2C1121.0 448.8 1118.9 445.3 1117.5 441.5C1116.0 437.7 1115.1 432.1 1115.7 427.5C1116.3 422.8 1119.5 418.1 1121.0 413.5C1122.4 408.8 1121.0 401.8 1124.5 399.4Z" fill="#f00a0a" filter="url(#spR)"/>
<path d="M1128.0 367.9C1129.1 370.2 1132.7 377.0 1135.0 381.9C1137.3 386.9 1140.8 395.1 1142.0 397.7" fill="none" stroke="#f00a0a" stroke-width="2" stroke-linecap="round" stroke-linejoin="round" filter="url(#spR)"/>
<path d="M1145.5 371.4C1144.3 373.5 1140.9 379.3 1138.5 383.7C1136.0 388.1 1132.1 395.4 1130.8 397.7" fill="none" stroke="#f00a0a" stroke-width="2" stroke-linecap="round" stroke-linejoin="round" filter="url(#spR)"/>
<path d="M1257.6 252.3C1258.8 254.6 1263.8 261.6 1264.6 266.3C1265.5 271.0 1263.2 278.0 1262.9 280.3" fill="none" stroke="#f00a0a" stroke-width="3" stroke-linecap="round" stroke-linejoin="round" filter="url(#spR)"/>
<ellipse cx="738.2" cy="29.2" rx="8.1" ry="9" fill="#8c8c8c"/>
<ellipse cx="738.2" cy="58" rx="8.1" ry="9.3" fill="#ea1d25"/>
<text x="750.4" y="35.9" font-size="19.5" textLength="232.0" lengthAdjust="spacing">Background Cells (38723)</text>
<text x="751.1" y="62.7" font-size="19.5" textLength="200.3" lengthAdjust="spacing">High-Risk Cells (3789)</text>
<line x1="726.0" y1="17.5" x2="726.0" y2="480.7" stroke="#262626" stroke-width="1.4"/>
<line x1="725.3" y1="480.0" x2="1354.7" y2="480.0" stroke="#262626" stroke-width="1.4"/>
<text x="1052.0" y="501.0" font-size="19.5" text-anchor="middle" textLength="73.5" lengthAdjust="spacing">UMAP1</text>
<text x="717.0" y="231.0" font-size="19.5" text-anchor="middle" textLength="70.0" lengthAdjust="spacing" transform="rotate(-90 717.0 231.0)">UMAP2</text></svg></body></html>
